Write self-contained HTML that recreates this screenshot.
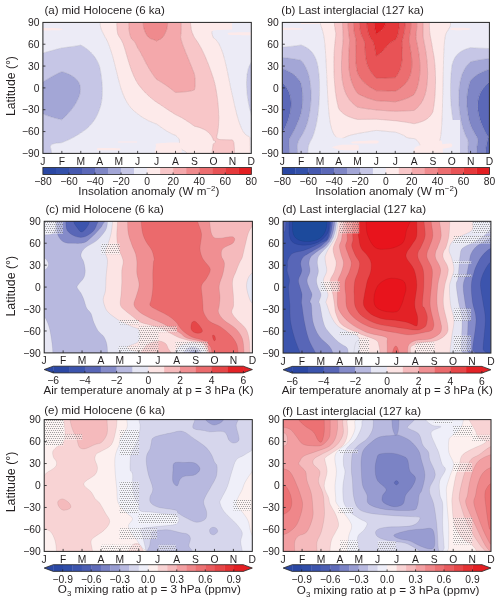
<!DOCTYPE html>
<html><head><meta charset="utf-8"><style>
html,body{margin:0;padding:0;background:#fff;}
svg{display:block;will-change:transform;}
</style></head><body>
<svg width="500" height="603" viewBox="0 0 500 603" font-family="&apos;Liberation Sans&apos;, sans-serif">
<defs><clipPath id="clipa"><rect x="42.9" y="22.4" width="208.40" height="131.00"/></clipPath><clipPath id="clipb"><rect x="282.3" y="22.4" width="207.10" height="131.00"/></clipPath><clipPath id="clipc"><rect x="44.2" y="221.3" width="208.20" height="131.60"/></clipPath><clipPath id="clipd"><rect x="283.1" y="221.3" width="207.80" height="131.80"/></clipPath><clipPath id="clipe"><rect x="44.2" y="419.6" width="208.10" height="131.80"/></clipPath><clipPath id="clipf"><rect x="283.2" y="419.6" width="207.80" height="131.80"/></clipPath><pattern id="stip" x="0" y="0" width="4" height="4" patternUnits="userSpaceOnUse"><rect x="0" y="0" width="4" height="4" fill="#fff" fill-opacity="0.4"/><g fill="#505050" fill-opacity="0.55"><circle cx="0.5" cy="0.5" r="0.6"/><circle cx="2.5" cy="0.5" r="0.6"/><circle cx="1.5" cy="2.5" r="0.6"/><circle cx="3.5" cy="2.5" r="0.6"/></g></pattern></defs>
<g clip-path="url(#clipa)">
<path d="M61.8 119.8L62.5 119.2L63.3 118.5L64.1 117.7L64.8 117.0L65.6 116.3L66.3 115.6L67.0 114.8L67.7 114.1L68.3 113.4L69.0 112.6L69.6 111.9L70.2 111.2L70.8 110.5L71.4 109.7L72.0 109.0L72.5 108.3L73.1 107.6L73.6 106.8L74.1 106.1L74.6 105.4L75.0 104.6L75.5 103.9L75.9 103.2L76.3 102.5L76.7 101.7L77.1 101.0L77.5 100.3L77.8 99.5L78.2 98.8L78.5 98.1L78.8 97.4L79.0 96.6L79.3 95.9L79.5 95.2L79.7 94.5L79.9 93.7L80.1 93.0L80.2 92.3L80.3 91.5L80.4 90.8L80.4 90.1L80.5 89.4L80.4 88.6L80.4 87.9L80.3 87.2L80.2 86.4L80.1 85.7L79.9 85.0L79.6 84.3L79.4 83.5L79.0 82.8L78.6 82.1L78.2 81.3L77.6 80.6L77.0 79.9L76.4 79.2L75.6 78.4L74.8 77.7L73.8 77.0L72.7 76.3L71.5 75.5L70.2 74.8L68.6 74.1L66.9 73.3L65.0 72.6L62.8 71.9L61.8 71.6L61.2 71.9L59.6 72.6L58.1 73.3L56.6 74.1L55.2 74.8L53.8 75.5L52.4 76.3L51.1 77.0L49.8 77.7L48.6 78.4L47.3 79.2L46.2 79.9L45.0 80.6L43.9 81.3L42.9 82.0L42.9 82.1L42.9 82.8L42.9 83.5L42.9 84.3L42.9 85.0L42.9 85.7L42.9 86.4L42.9 87.2L42.9 87.9L42.9 88.6L42.9 89.4L42.9 90.1L42.9 90.8L42.9 91.5L42.9 92.3L42.9 93.0L42.9 93.7L42.9 94.5L42.9 95.2L42.9 95.9L42.9 96.6L42.9 97.4L42.9 98.1L42.9 98.8L42.9 99.5L42.9 100.3L42.9 101.0L42.9 101.7L42.9 102.5L42.9 103.2L42.9 103.9L42.9 104.6L42.9 105.4L42.9 106.1L42.9 106.8L42.9 107.6L42.9 108.3L42.9 109.0L42.9 109.7L42.9 110.5L42.9 111.2L42.9 111.9L42.9 112.6L42.9 113.4L42.9 114.0L43.2 114.1L45.0 114.8L46.9 115.6L49.1 116.3L51.4 117.0L53.8 117.7L56.5 118.5L59.4 119.2Z" fill="#a3a6d6" stroke="#a3a6d6" stroke-width="0.3"/>
<path d="M51.5 152.7L51.5 151.9L51.4 151.2L51.3 150.5L51.2 149.8L51.0 149.0L50.8 148.3L50.5 147.6L50.4 146.8L50.5 146.1L50.9 145.4L51.6 144.7L53.0 143.9L56.3 143.2L61.8 142.7L62.3 142.5L64.0 141.8L65.8 141.0L67.6 140.3L69.2 139.6L70.7 138.8L72.1 138.1L73.4 137.4L74.7 136.7L75.9 135.9L77.2 135.2L78.4 134.5L79.5 133.8L80.7 133.0L80.8 132.9L81.8 132.3L82.9 131.6L83.9 130.8L84.9 130.1L85.8 129.4L86.7 128.7L87.6 127.9L88.4 127.2L89.1 126.5L89.8 125.7L90.5 125.0L91.2 124.3L91.8 123.6L92.4 122.8L92.9 122.1L93.5 121.4L94.0 120.7L94.5 119.9L94.9 119.2L95.4 118.5L95.8 117.7L96.2 117.0L96.6 116.3L97.0 115.6L97.3 114.8L97.7 114.1L98.0 113.4L98.3 112.6L98.6 111.9L98.9 111.2L99.1 110.5L99.4 109.7L99.7 109.0L99.7 108.7L99.9 108.3L100.2 107.6L100.4 106.8L100.6 106.1L100.8 105.4L101.0 104.6L101.2 103.9L101.3 103.2L101.5 102.5L101.6 101.7L101.7 101.0L101.8 100.3L101.9 99.5L102.0 98.8L102.1 98.1L102.1 97.4L102.2 96.6L102.3 95.9L102.3 95.2L102.3 94.5L102.4 93.7L102.4 93.0L102.4 92.3L102.4 91.5L102.4 90.8L102.4 90.1L102.4 89.4L102.4 88.6L102.4 87.9L102.3 87.2L102.3 86.4L102.3 85.7L102.2 85.0L102.2 84.3L102.1 83.5L102.1 82.8L102.0 82.1L101.9 81.3L101.9 80.6L101.8 79.9L101.7 79.2L101.6 78.4L101.5 77.7L101.4 77.0L101.4 76.3L101.3 75.5L101.1 74.8L101.0 74.1L100.9 73.3L100.8 72.6L100.7 71.9L100.6 71.2L100.4 70.4L100.3 69.7L100.2 69.0L100.0 68.2L99.9 67.5L99.7 66.8L99.7 66.8L99.5 66.1L99.2 65.3L98.9 64.6L98.6 63.9L98.3 63.2L97.9 62.4L97.6 61.7L97.2 61.0L96.8 60.2L96.4 59.5L95.9 58.8L95.5 58.1L95.0 57.3L94.5 56.6L93.9 55.9L93.4 55.1L92.7 54.4L92.1 53.7L91.4 53.0L90.7 52.2L90.0 51.5L89.1 50.8L88.3 50.1L87.4 49.3L86.4 48.6L85.4 47.9L84.3 47.1L83.2 46.4L81.9 45.7L80.8 45.1L77.4 45.7L72.9 46.4L67.9 47.1L62.1 47.9L61.8 47.9L59.2 48.6L56.4 49.3L53.7 50.1L51.0 50.8L48.3 51.5L45.7 52.2L43.2 53.0L42.9 53.0L42.9 53.7L42.9 54.4L42.9 55.1L42.9 55.9L42.9 56.6L42.9 57.3L42.9 58.1L42.9 58.8L42.9 59.5L42.9 60.2L42.9 61.0L42.9 61.7L42.9 62.4L42.9 63.2L42.9 63.9L42.9 64.6L42.9 65.3L42.9 66.1L42.9 66.8L42.9 67.5L42.9 68.2L42.9 69.0L42.9 69.7L42.9 70.4L42.9 71.2L42.9 71.9L42.9 72.6L42.9 73.3L42.9 74.1L42.9 74.8L42.9 75.5L42.9 76.3L42.9 77.0L42.9 77.7L42.9 78.4L42.9 79.2L42.9 79.9L42.9 80.6L42.9 81.3L42.9 82.0L43.9 81.3L45.0 80.6L46.2 79.9L47.3 79.2L48.6 78.4L49.8 77.7L51.1 77.0L52.4 76.3L53.8 75.5L55.2 74.8L56.6 74.1L58.1 73.3L59.6 72.6L61.2 71.9L61.8 71.6L62.8 71.9L65.0 72.6L66.9 73.3L68.6 74.1L70.2 74.8L71.5 75.5L72.7 76.3L73.8 77.0L74.8 77.7L75.6 78.4L76.4 79.2L77.0 79.9L77.6 80.6L78.2 81.3L78.6 82.1L79.0 82.8L79.4 83.5L79.6 84.3L79.9 85.0L80.1 85.7L80.2 86.4L80.3 87.2L80.4 87.9L80.4 88.6L80.5 89.4L80.4 90.1L80.4 90.8L80.3 91.5L80.2 92.3L80.1 93.0L79.9 93.7L79.7 94.5L79.5 95.2L79.3 95.9L79.0 96.6L78.8 97.4L78.5 98.1L78.2 98.8L77.8 99.5L77.5 100.3L77.1 101.0L76.7 101.7L76.3 102.5L75.9 103.2L75.5 103.9L75.0 104.6L74.6 105.4L74.1 106.1L73.6 106.8L73.1 107.6L72.5 108.3L72.0 109.0L71.4 109.7L70.8 110.5L70.2 111.2L69.6 111.9L69.0 112.6L68.3 113.4L67.7 114.1L67.0 114.8L66.3 115.6L65.6 116.3L64.8 117.0L64.1 117.7L63.3 118.5L62.5 119.2L61.8 119.8L59.4 119.2L56.5 118.5L53.8 117.7L51.4 117.0L49.1 116.3L46.9 115.6L45.0 114.8L43.2 114.1L42.9 114.0L42.9 114.1L42.9 114.8L42.9 115.6L42.9 116.3L42.9 117.0L42.9 117.7L42.9 118.5L42.9 119.2L42.9 119.9L42.9 120.7L42.9 121.4L42.9 122.1L42.9 122.8L42.9 123.6L42.9 124.3L42.9 125.0L42.9 125.7L42.9 126.5L42.9 127.2L42.9 127.9L42.9 128.7L42.9 129.4L42.9 130.1L42.9 130.8L42.9 131.6L42.9 132.3L42.9 133.0L42.9 133.8L42.9 134.5L42.9 135.2L42.9 135.9L42.9 136.7L42.9 137.4L42.9 138.1L42.9 138.8L42.9 139.6L42.9 140.3L42.9 141.0L42.9 141.8L42.9 142.5L42.9 143.2L42.9 143.9L42.9 144.7L42.9 145.4L42.9 146.1L42.9 146.8L42.9 147.6L42.9 148.3L42.9 149.0L42.9 149.8L42.9 150.5L42.9 151.2L42.9 151.9L42.9 152.7L42.9 153.4L51.5 153.4ZM251.3 114.8L251.3 114.1L251.3 113.4L251.3 112.6L251.3 111.9L251.3 111.2L251.3 110.5L251.3 109.7L251.3 109.0L251.3 108.3L251.3 107.6L251.3 106.8L251.3 106.1L251.3 105.4L251.3 104.6L251.3 103.9L251.3 103.2L251.3 102.5L251.3 101.7L251.3 101.0L251.3 100.3L251.3 99.5L251.3 98.8L251.3 98.1L251.3 97.4L251.3 96.6L251.3 95.9L251.3 95.2L251.3 94.5L251.3 93.7L251.3 93.0L251.3 92.3L251.3 91.5L251.3 90.8L251.3 90.1L251.3 89.4L251.3 88.6L251.3 87.9L251.3 87.2L251.3 86.4L251.3 85.7L251.3 85.0L251.3 84.3L251.3 83.5L251.3 82.8L251.3 82.1L251.3 81.3L251.3 80.6L251.3 79.9L251.3 79.2L251.3 78.4L251.3 77.7L251.3 77.0L251.3 76.3L251.3 75.5L251.3 74.8L251.3 74.1L251.3 73.3L251.3 72.6L251.3 71.9L251.3 71.2L251.3 70.4L251.3 69.7L251.3 69.0L251.3 68.2L251.3 67.5L251.3 66.8L251.3 66.1L251.3 65.3L251.3 64.6L251.3 63.9L251.3 63.2L251.3 62.4L251.3 62.2L251.1 62.4L250.7 63.2L250.3 63.9L249.9 64.6L249.6 65.3L249.2 66.1L248.9 66.8L248.7 67.5L248.4 68.2L248.2 69.0L248.0 69.7L247.8 70.4L247.7 71.2L247.5 71.9L247.4 72.6L247.2 73.3L247.1 74.1L247.0 74.8L246.9 75.5L246.9 76.3L246.8 77.0L246.7 77.7L246.7 78.4L246.6 79.2L246.6 79.9L246.6 80.6L246.5 81.3L246.5 82.1L246.5 82.8L246.5 83.5L246.5 84.3L246.5 85.0L246.5 85.7L246.6 86.4L246.6 87.2L246.6 87.9L246.7 88.6L246.7 89.4L246.8 90.1L246.8 90.8L246.9 91.5L246.9 92.3L247.0 93.0L247.1 93.7L247.1 94.5L247.2 95.2L247.3 95.9L247.4 96.6L247.5 97.4L247.6 98.1L247.7 98.8L247.8 99.5L247.9 100.3L248.1 101.0L248.2 101.7L248.3 102.5L248.4 103.2L248.6 103.9L248.7 104.6L248.9 105.4L249.0 106.1L249.2 106.8L249.3 107.6L249.5 108.3L249.7 109.0L249.9 109.7L250.1 110.5L250.3 111.2L250.5 111.9L250.7 112.6L250.9 113.4L251.1 114.1Z" fill="#c6c6e6" stroke="#c6c6e6" stroke-width="0.3"/>
<path d="M61.8 153.4L80.8 153.4L99.7 153.4L118.7 153.4L137.6 153.4L156.6 153.4L175.5 153.4L186.8 153.4L186.6 152.7L185.9 151.9L184.9 151.2L183.6 150.5L182.5 149.8L181.5 149.0L180.7 148.3L180.1 147.6L179.5 146.8L179.4 146.1L179.5 145.4L179.5 144.7L179.5 143.9L179.5 143.2L179.5 142.5L179.5 141.8L179.5 141.0L179.4 140.3L179.3 139.6L178.9 138.8L178.4 138.1L177.7 137.4L177.0 136.7L176.2 135.9L175.5 135.3L175.3 135.2L173.3 134.5L171.7 133.8L170.3 133.0L168.9 132.3L167.7 131.6L166.5 130.8L165.3 130.1L164.2 129.4L163.1 128.7L162.1 127.9L161.0 127.2L160.0 126.5L159.0 125.7L158.0 125.0L157.0 124.3L156.6 124.0L155.4 123.6L153.4 122.8L151.7 122.1L150.0 121.4L148.5 120.7L147.0 119.9L145.7 119.2L144.4 118.5L143.2 117.7L142.1 117.0L141.0 116.3L140.0 115.6L139.0 114.8L138.1 114.1L137.6 113.8L137.1 113.4L136.1 112.6L135.2 111.9L134.3 111.2L133.5 110.5L132.8 109.7L132.0 109.0L131.4 108.3L130.7 107.6L130.1 106.8L129.6 106.1L129.0 105.4L128.5 104.6L128.0 103.9L127.6 103.2L127.1 102.5L126.7 101.7L126.3 101.0L125.9 100.3L125.5 99.5L125.1 98.8L124.8 98.1L124.4 97.4L124.1 96.6L123.8 95.9L123.5 95.2L123.2 94.5L122.9 93.7L122.6 93.0L122.3 92.3L122.1 91.5L121.8 90.8L121.6 90.1L121.3 89.4L121.1 88.6L120.9 87.9L120.6 87.2L120.4 86.4L120.2 85.7L120.0 85.0L119.8 84.3L119.6 83.5L119.4 82.8L119.2 82.1L119.0 81.3L118.8 80.6L118.7 80.2L118.6 79.9L118.4 79.2L118.2 78.4L118.1 77.7L117.9 77.0L117.7 76.3L117.5 75.5L117.3 74.8L117.2 74.1L117.0 73.3L116.8 72.6L116.6 71.9L116.4 71.2L116.3 70.4L116.1 69.7L115.9 69.0L115.7 68.2L115.5 67.5L115.4 66.8L115.2 66.1L115.0 65.3L114.8 64.6L114.6 63.9L114.4 63.2L114.3 62.4L114.1 61.7L113.9 61.0L113.7 60.2L113.5 59.5L113.3 58.8L113.1 58.1L112.9 57.3L112.7 56.6L112.5 55.9L112.3 55.1L112.1 54.4L111.8 53.7L111.6 53.0L111.4 52.2L111.2 51.5L110.9 50.8L110.7 50.1L110.5 49.3L110.2 48.6L110.0 47.9L109.7 47.1L109.4 46.4L109.2 45.7L108.9 45.0L108.6 44.2L108.3 43.5L108.0 42.8L107.7 42.0L107.4 41.3L107.0 40.6L106.7 39.9L106.3 39.1L105.9 38.4L105.4 37.7L105.0 37.0L104.6 36.2L104.3 35.5L103.9 34.8L103.6 34.0L103.2 33.3L102.8 32.6L102.4 31.9L102.0 31.1L101.7 30.4L101.4 29.7L101.1 28.9L100.9 28.2L100.7 27.5L100.5 26.8L100.4 26.0L100.3 25.3L100.3 24.6L100.3 23.9L100.3 23.1L100.3 22.4L99.7 22.4L80.8 22.4L61.8 22.4L42.9 22.4L42.9 23.1L42.9 23.9L42.9 24.6L42.9 25.3L42.9 26.0L42.9 26.8L42.9 27.5L42.9 28.2L42.9 28.9L42.9 29.7L42.9 30.4L42.9 31.1L42.9 31.9L42.9 32.6L42.9 33.3L42.9 34.0L42.9 34.8L42.9 35.5L42.9 36.2L42.9 37.0L42.9 37.7L42.9 38.4L42.9 39.1L42.9 39.9L42.9 40.6L42.9 41.3L42.9 42.0L42.9 42.8L42.9 43.5L42.9 44.2L42.9 45.0L42.9 45.7L42.9 46.4L42.9 47.1L42.9 47.9L42.9 48.6L42.9 49.3L42.9 50.1L42.9 50.8L42.9 51.5L42.9 52.2L42.9 53.0L42.9 53.0L43.2 53.0L45.7 52.2L48.3 51.5L51.0 50.8L53.7 50.1L56.4 49.3L59.2 48.6L61.8 47.9L62.1 47.9L67.9 47.1L72.9 46.4L77.4 45.7L80.8 45.1L81.9 45.7L83.2 46.4L84.3 47.1L85.4 47.9L86.4 48.6L87.4 49.3L88.3 50.1L89.1 50.8L90.0 51.5L90.7 52.2L91.4 53.0L92.1 53.7L92.7 54.4L93.4 55.1L93.9 55.9L94.5 56.6L95.0 57.3L95.5 58.1L95.9 58.8L96.4 59.5L96.8 60.2L97.2 61.0L97.6 61.7L97.9 62.4L98.3 63.2L98.6 63.9L98.9 64.6L99.2 65.3L99.5 66.1L99.7 66.8L99.7 66.8L99.9 67.5L100.0 68.2L100.2 69.0L100.3 69.7L100.4 70.4L100.6 71.2L100.7 71.9L100.8 72.6L100.9 73.3L101.0 74.1L101.1 74.8L101.3 75.5L101.4 76.3L101.4 77.0L101.5 77.7L101.6 78.4L101.7 79.2L101.8 79.9L101.9 80.6L101.9 81.3L102.0 82.1L102.1 82.8L102.1 83.5L102.2 84.3L102.2 85.0L102.3 85.7L102.3 86.4L102.3 87.2L102.4 87.9L102.4 88.6L102.4 89.4L102.4 90.1L102.4 90.8L102.4 91.5L102.4 92.3L102.4 93.0L102.4 93.7L102.3 94.5L102.3 95.2L102.3 95.9L102.2 96.6L102.1 97.4L102.1 98.1L102.0 98.8L101.9 99.5L101.8 100.3L101.7 101.0L101.6 101.7L101.5 102.5L101.3 103.2L101.2 103.9L101.0 104.6L100.8 105.4L100.6 106.1L100.4 106.8L100.2 107.6L99.9 108.3L99.7 108.7L99.7 109.0L99.4 109.7L99.1 110.5L98.9 111.2L98.6 111.9L98.3 112.6L98.0 113.4L97.7 114.1L97.3 114.8L97.0 115.6L96.6 116.3L96.2 117.0L95.8 117.7L95.4 118.5L94.9 119.2L94.5 119.9L94.0 120.7L93.5 121.4L92.9 122.1L92.4 122.8L91.8 123.6L91.2 124.3L90.5 125.0L89.8 125.7L89.1 126.5L88.4 127.2L87.6 127.9L86.7 128.7L85.8 129.4L84.9 130.1L83.9 130.8L82.9 131.6L81.8 132.3L80.8 132.9L80.7 133.0L79.5 133.8L78.4 134.5L77.2 135.2L75.9 135.9L74.7 136.7L73.4 137.4L72.1 138.1L70.7 138.8L69.2 139.6L67.6 140.3L65.8 141.0L64.0 141.8L62.3 142.5L61.8 142.7L56.3 143.2L53.0 143.9L51.6 144.7L50.9 145.4L50.5 146.1L50.4 146.8L50.5 147.6L50.8 148.3L51.0 149.0L51.2 149.8L51.3 150.5L51.4 151.2L51.5 151.9L51.5 152.7L51.5 153.4ZM251.3 153.4L251.3 152.7L251.3 151.9L251.3 151.2L251.3 150.5L251.3 149.8L251.3 149.0L251.3 148.3L251.3 147.6L251.3 146.8L251.3 146.1L251.3 145.4L251.3 144.7L251.3 143.9L251.3 143.2L251.3 142.5L251.3 141.8L251.3 141.0L251.3 140.3L251.3 139.6L251.3 138.8L251.3 138.1L251.3 137.4L251.3 136.7L251.3 135.9L251.3 135.2L251.3 134.5L251.3 133.8L251.3 133.0L251.3 132.3L251.3 131.6L251.3 130.8L251.3 130.1L251.3 129.4L251.3 128.7L251.3 127.9L251.3 127.2L251.3 126.5L251.3 125.7L251.3 125.0L251.3 124.3L251.3 123.6L251.3 122.8L251.3 122.1L251.3 121.4L251.3 120.7L251.3 119.9L251.3 119.2L251.3 118.5L251.3 117.7L251.3 117.0L251.3 116.3L251.3 115.6L251.3 114.8L251.3 114.8L251.1 114.1L250.9 113.4L250.7 112.6L250.5 111.9L250.3 111.2L250.1 110.5L249.9 109.7L249.7 109.0L249.5 108.3L249.3 107.6L249.2 106.8L249.0 106.1L248.9 105.4L248.7 104.6L248.6 103.9L248.4 103.2L248.3 102.5L248.2 101.7L248.1 101.0L247.9 100.3L247.8 99.5L247.7 98.8L247.6 98.1L247.5 97.4L247.4 96.6L247.3 95.9L247.2 95.2L247.1 94.5L247.1 93.7L247.0 93.0L246.9 92.3L246.9 91.5L246.8 90.8L246.8 90.1L246.7 89.4L246.7 88.6L246.6 87.9L246.6 87.2L246.6 86.4L246.5 85.7L246.5 85.0L246.5 84.3L246.5 83.5L246.5 82.8L246.5 82.1L246.5 81.3L246.6 80.6L246.6 79.9L246.6 79.2L246.7 78.4L246.7 77.7L246.8 77.0L246.9 76.3L246.9 75.5L247.0 74.8L247.1 74.1L247.2 73.3L247.4 72.6L247.5 71.9L247.7 71.2L247.8 70.4L248.0 69.7L248.2 69.0L248.4 68.2L248.7 67.5L248.9 66.8L249.2 66.1L249.6 65.3L249.9 64.6L250.3 63.9L250.7 63.2L251.1 62.4L251.3 62.2L251.3 61.7L251.3 61.0L251.3 60.2L251.3 59.5L251.3 58.8L251.3 58.1L251.3 57.3L251.3 56.6L251.3 55.9L251.3 55.1L251.3 54.4L251.3 53.7L251.3 53.0L251.3 52.2L251.3 51.5L251.3 50.8L251.3 50.1L251.3 49.3L251.3 48.6L251.3 47.9L251.3 47.1L251.3 46.4L251.3 45.7L251.3 45.0L251.3 44.2L251.3 43.5L251.3 42.8L251.3 42.0L251.3 41.3L251.3 40.6L251.3 39.9L251.3 39.1L251.3 38.4L251.3 37.7L251.3 37.0L251.3 36.2L251.3 35.5L251.3 34.8L251.3 34.0L251.3 33.3L251.3 32.6L251.3 31.9L251.3 31.1L251.3 30.4L251.3 29.7L251.3 28.9L251.3 28.2L251.3 27.5L251.3 26.8L251.3 26.0L251.3 25.3L251.3 24.6L251.3 23.9L251.3 23.1L251.3 22.4L232.4 22.4L213.4 22.4L212.5 22.4L212.5 23.1L212.5 23.9L212.5 24.6L212.4 25.3L212.3 26.0L212.3 26.8L212.2 27.5L212.1 28.2L212.1 28.9L212.0 29.7L212.0 30.4L211.9 31.1L211.9 31.9L211.8 32.6L211.9 33.3L212.1 34.0L212.3 34.8L212.5 35.5L212.8 36.2L213.1 37.0L213.3 37.7L213.4 37.9L214.3 38.4L215.3 39.1L216.0 39.9L216.6 40.6L217.2 41.3L217.7 42.0L218.2 42.8L218.7 43.5L219.1 44.2L219.4 45.0L219.8 45.7L220.2 46.4L220.5 47.1L220.8 47.9L221.1 48.6L221.4 49.3L221.7 50.1L221.9 50.8L222.2 51.5L222.5 52.2L222.7 53.0L222.9 53.7L223.2 54.4L223.4 55.1L223.6 55.9L223.8 56.6L224.0 57.3L224.2 58.1L224.4 58.8L224.6 59.5L224.8 60.2L225.0 61.0L225.2 61.7L225.3 62.4L225.5 63.2L225.7 63.9L225.9 64.6L226.0 65.3L226.2 66.1L226.4 66.8L226.5 67.5L226.7 68.2L226.8 69.0L227.0 69.7L227.1 70.4L227.3 71.2L227.5 71.9L227.6 72.6L227.8 73.3L227.9 74.1L228.0 74.8L228.2 75.5L228.3 76.3L228.5 77.0L228.6 77.7L228.8 78.4L228.9 79.2L229.1 79.9L229.2 80.6L229.4 81.3L229.5 82.1L229.7 82.8L229.8 83.5L230.0 84.3L230.1 85.0L230.2 85.7L230.4 86.4L230.5 87.2L230.7 87.9L230.9 88.6L231.0 89.4L231.2 90.1L231.3 90.8L231.5 91.5L231.6 92.3L231.8 93.0L232.0 93.7L232.1 94.5L232.3 95.2L232.4 95.4L232.5 95.9L232.6 96.6L232.8 97.4L233.0 98.1L233.1 98.8L233.3 99.5L233.4 100.3L233.6 101.0L233.8 101.7L233.9 102.5L234.1 103.2L234.3 103.9L234.4 104.6L234.6 105.4L234.8 106.1L234.9 106.8L235.1 107.6L235.3 108.3L235.5 109.0L235.6 109.7L235.8 110.5L236.0 111.2L236.2 111.9L236.4 112.6L236.5 113.4L236.7 114.1L236.9 114.8L237.1 115.6L237.3 116.3L237.5 117.0L237.7 117.7L237.9 118.5L238.1 119.2L238.4 119.9L238.6 120.7L238.8 121.4L239.1 122.1L239.3 122.8L239.6 123.6L239.8 124.3L240.1 125.0L240.4 125.7L240.7 126.5L241.0 127.2L241.3 127.9L241.7 128.7L242.0 129.4L242.4 130.1L242.8 130.8L243.2 131.6L243.7 132.3L244.2 133.0L244.8 133.8L245.5 134.5L246.4 135.2L247.7 135.9L249.3 136.7L249.8 137.4L249.9 138.1L250.0 138.8L250.0 139.6L250.1 140.3L250.1 141.0L250.1 141.8L250.1 142.5L250.1 143.2L250.1 143.9L250.1 144.7L250.1 145.4L250.2 146.1L250.2 146.8L250.2 147.6L250.2 148.3L250.2 149.0L250.2 149.8L250.2 150.5L250.2 151.2L250.2 151.9L250.2 152.7L250.2 153.4Z" fill="#ecebf6" stroke="#ecebf6" stroke-width="0.3"/>
<path d="M194.5 153.4L212.2 153.4L212.2 152.7L212.2 151.9L212.2 151.2L212.2 150.5L212.3 149.8L212.4 149.0L212.5 148.3L212.6 147.6L212.7 146.8L212.8 146.1L213.0 145.4L213.1 144.7L213.3 143.9L213.4 143.7L214.5 143.2L215.3 142.5L215.5 141.8L215.3 141.0L213.4 140.3L213.4 140.3L213.2 139.6L212.9 138.8L212.6 138.1L212.3 137.4L211.9 136.7L211.4 135.9L210.9 135.2L210.4 134.5L209.8 133.8L209.1 133.0L208.3 132.3L207.4 131.6L206.4 130.8L205.3 130.1L204.0 129.4L202.4 128.7L200.6 127.9L198.4 127.2L195.6 126.5L194.5 126.2L193.8 125.7L192.8 125.0L191.8 124.3L190.8 123.6L189.8 122.8L188.7 122.1L187.6 121.4L186.5 120.7L185.4 119.9L184.2 119.2L183.0 118.5L181.7 117.7L180.3 117.0L179.0 116.3L177.5 115.6L176.0 114.8L175.5 114.6L174.7 114.1L173.5 113.4L172.4 112.6L171.3 111.9L170.1 111.2L169.0 110.5L167.9 109.7L166.8 109.0L165.7 108.3L164.6 107.6L163.6 106.8L162.5 106.1L161.4 105.4L160.3 104.6L159.2 103.9L158.1 103.2L157.0 102.5L156.6 102.2L155.9 101.7L154.9 101.0L153.9 100.3L153.0 99.5L152.1 98.8L151.2 98.1L150.3 97.4L149.5 96.6L148.7 95.9L147.9 95.2L147.2 94.5L146.4 93.7L145.7 93.0L145.0 92.3L144.3 91.5L143.6 90.8L143.0 90.1L142.3 89.4L141.7 88.6L141.1 87.9L140.5 87.2L139.9 86.4L139.4 85.7L138.8 85.0L138.3 84.3L137.7 83.5L137.6 83.4L137.3 82.8L136.9 82.1L136.5 81.3L136.1 80.6L135.7 79.9L135.3 79.2L135.0 78.4L134.6 77.7L134.3 77.0L133.9 76.3L133.6 75.5L133.3 74.8L133.0 74.1L132.7 73.3L132.4 72.6L132.1 71.9L131.8 71.2L131.5 70.4L131.3 69.7L131.0 69.0L130.8 68.2L130.5 67.5L130.2 66.8L130.0 66.1L129.8 65.3L129.5 64.6L129.3 63.9L129.1 63.2L128.8 62.4L128.6 61.7L128.4 61.0L128.2 60.2L127.9 59.5L127.7 58.8L127.5 58.1L127.3 57.3L127.1 56.6L126.9 55.9L126.7 55.1L126.5 54.4L126.2 53.7L126.0 53.0L125.8 52.2L125.6 51.5L125.4 50.8L125.2 50.1L125.0 49.3L124.7 48.6L124.5 47.9L124.3 47.1L124.0 46.4L123.8 45.7L123.5 45.0L123.3 44.2L123.0 43.5L122.7 42.8L122.4 42.0L122.0 41.3L121.7 40.6L121.2 39.9L120.8 39.1L120.3 38.4L119.8 37.7L119.3 37.0L118.9 36.2L118.7 35.8L118.5 35.5L118.1 34.8L117.8 34.0L117.6 33.3L117.5 32.6L117.4 31.9L117.3 31.1L117.2 30.4L117.1 29.7L117.1 28.9L117.0 28.2L116.9 27.5L116.9 26.8L116.9 26.0L116.8 25.3L116.8 24.6L116.8 23.9L116.8 23.1L116.8 22.4L100.3 22.4L100.3 23.1L100.3 23.9L100.3 24.6L100.3 25.3L100.4 26.0L100.5 26.8L100.7 27.5L100.9 28.2L101.1 28.9L101.4 29.7L101.7 30.4L102.0 31.1L102.4 31.9L102.8 32.6L103.2 33.3L103.6 34.0L103.9 34.8L104.3 35.5L104.6 36.2L105.0 37.0L105.4 37.7L105.9 38.4L106.3 39.1L106.7 39.9L107.0 40.6L107.4 41.3L107.7 42.0L108.0 42.8L108.3 43.5L108.6 44.2L108.9 45.0L109.2 45.7L109.4 46.4L109.7 47.1L110.0 47.9L110.2 48.6L110.5 49.3L110.7 50.1L110.9 50.8L111.2 51.5L111.4 52.2L111.6 53.0L111.8 53.7L112.1 54.4L112.3 55.1L112.5 55.9L112.7 56.6L112.9 57.3L113.1 58.1L113.3 58.8L113.5 59.5L113.7 60.2L113.9 61.0L114.1 61.7L114.3 62.4L114.4 63.2L114.6 63.9L114.8 64.6L115.0 65.3L115.2 66.1L115.4 66.8L115.5 67.5L115.7 68.2L115.9 69.0L116.1 69.7L116.3 70.4L116.4 71.2L116.6 71.9L116.8 72.6L117.0 73.3L117.2 74.1L117.3 74.8L117.5 75.5L117.7 76.3L117.9 77.0L118.1 77.7L118.2 78.4L118.4 79.2L118.6 79.9L118.7 80.2L118.8 80.6L119.0 81.3L119.2 82.1L119.4 82.8L119.6 83.5L119.8 84.3L120.0 85.0L120.2 85.7L120.4 86.4L120.6 87.2L120.9 87.9L121.1 88.6L121.3 89.4L121.6 90.1L121.8 90.8L122.1 91.5L122.3 92.3L122.6 93.0L122.9 93.7L123.2 94.5L123.5 95.2L123.8 95.9L124.1 96.6L124.4 97.4L124.8 98.1L125.1 98.8L125.5 99.5L125.9 100.3L126.3 101.0L126.7 101.7L127.1 102.5L127.6 103.2L128.0 103.9L128.5 104.6L129.0 105.4L129.6 106.1L130.1 106.8L130.7 107.6L131.4 108.3L132.0 109.0L132.8 109.7L133.5 110.5L134.3 111.2L135.2 111.9L136.1 112.6L137.1 113.4L137.6 113.8L138.1 114.1L139.0 114.8L140.0 115.6L141.0 116.3L142.1 117.0L143.2 117.7L144.4 118.5L145.7 119.2L147.0 119.9L148.5 120.7L150.0 121.4L151.7 122.1L153.4 122.8L155.4 123.6L156.6 124.0L157.0 124.3L158.0 125.0L159.0 125.7L160.0 126.5L161.0 127.2L162.1 127.9L163.1 128.7L164.2 129.4L165.3 130.1L166.5 130.8L167.7 131.6L168.9 132.3L170.3 133.0L171.7 133.8L173.3 134.5L175.3 135.2L175.5 135.3L176.2 135.9L177.0 136.7L177.7 137.4L178.4 138.1L178.9 138.8L179.3 139.6L179.4 140.3L179.5 141.0L179.5 141.8L179.5 142.5L179.5 143.2L179.5 143.9L179.5 144.7L179.5 145.4L179.4 146.1L179.5 146.8L180.1 147.6L180.7 148.3L181.5 149.0L182.5 149.8L183.6 150.5L184.9 151.2L185.9 151.9L186.6 152.7L186.8 153.4ZM250.2 152.7L250.2 151.9L250.2 151.2L250.2 150.5L250.2 149.8L250.2 149.0L250.2 148.3L250.2 147.6L250.2 146.8L250.2 146.1L250.1 145.4L250.1 144.7L250.1 143.9L250.1 143.2L250.1 142.5L250.1 141.8L250.1 141.0L250.1 140.3L250.0 139.6L250.0 138.8L249.9 138.1L249.8 137.4L249.3 136.7L247.7 135.9L246.4 135.2L245.5 134.5L244.8 133.8L244.2 133.0L243.7 132.3L243.2 131.6L242.8 130.8L242.4 130.1L242.0 129.4L241.7 128.7L241.3 127.9L241.0 127.2L240.7 126.5L240.4 125.7L240.1 125.0L239.8 124.3L239.6 123.6L239.3 122.8L239.1 122.1L238.8 121.4L238.6 120.7L238.4 119.9L238.1 119.2L237.9 118.5L237.7 117.7L237.5 117.0L237.3 116.3L237.1 115.6L236.9 114.8L236.7 114.1L236.5 113.4L236.4 112.6L236.2 111.9L236.0 111.2L235.8 110.5L235.6 109.7L235.5 109.0L235.3 108.3L235.1 107.6L234.9 106.8L234.8 106.1L234.6 105.4L234.4 104.6L234.3 103.9L234.1 103.2L233.9 102.5L233.8 101.7L233.6 101.0L233.4 100.3L233.3 99.5L233.1 98.8L233.0 98.1L232.8 97.4L232.6 96.6L232.5 95.9L232.4 95.4L232.3 95.2L232.1 94.5L232.0 93.7L231.8 93.0L231.6 92.3L231.5 91.5L231.3 90.8L231.2 90.1L231.0 89.4L230.9 88.6L230.7 87.9L230.5 87.2L230.4 86.4L230.2 85.7L230.1 85.0L230.0 84.3L229.8 83.5L229.7 82.8L229.5 82.1L229.4 81.3L229.2 80.6L229.1 79.9L228.9 79.2L228.8 78.4L228.6 77.7L228.5 77.0L228.3 76.3L228.2 75.5L228.0 74.8L227.9 74.1L227.8 73.3L227.6 72.6L227.5 71.9L227.3 71.2L227.1 70.4L227.0 69.7L226.8 69.0L226.7 68.2L226.5 67.5L226.4 66.8L226.2 66.1L226.0 65.3L225.9 64.6L225.7 63.9L225.5 63.2L225.3 62.4L225.2 61.7L225.0 61.0L224.8 60.2L224.6 59.5L224.4 58.8L224.2 58.1L224.0 57.3L223.8 56.6L223.6 55.9L223.4 55.1L223.2 54.4L222.9 53.7L222.7 53.0L222.5 52.2L222.2 51.5L221.9 50.8L221.7 50.1L221.4 49.3L221.1 48.6L220.8 47.9L220.5 47.1L220.2 46.4L219.8 45.7L219.4 45.0L219.1 44.2L218.7 43.5L218.2 42.8L217.7 42.0L217.2 41.3L216.6 40.6L216.0 39.9L215.3 39.1L214.3 38.4L213.4 37.9L213.3 37.7L213.1 37.0L212.8 36.2L212.5 35.5L212.3 34.8L212.1 34.0L211.9 33.3L211.8 32.6L211.9 31.9L211.9 31.1L212.0 30.4L212.0 29.7L212.1 28.9L212.1 28.2L212.2 27.5L212.3 26.8L212.3 26.0L212.4 25.3L212.5 24.6L212.5 23.9L212.5 23.1L212.5 22.4L194.5 22.4L190.6 22.4L190.6 23.1L190.6 23.9L190.7 24.6L190.7 25.3L190.8 26.0L190.9 26.8L191.0 27.5L191.1 28.2L191.2 29.0L191.3 29.7L191.5 30.4L191.7 31.1L192.0 31.9L192.2 32.6L192.5 33.3L192.8 34.0L193.1 34.8L193.4 35.5L193.7 36.2L194.1 37.0L194.5 37.6L194.5 37.7L195.1 38.4L195.6 39.1L196.1 39.9L196.6 40.6L197.1 41.3L197.6 42.0L198.0 42.8L198.5 43.5L198.9 44.2L199.4 45.0L199.8 45.7L200.2 46.4L200.6 47.1L201.0 47.9L201.4 48.6L201.8 49.3L202.1 50.1L202.5 50.8L202.8 51.5L203.2 52.2L203.5 53.0L203.9 53.7L204.2 54.4L204.6 55.1L204.9 55.9L205.2 56.6L205.5 57.3L205.8 58.1L206.1 58.8L206.4 59.5L206.7 60.2L207.0 61.0L207.3 61.7L207.6 62.4L207.9 63.2L208.2 63.9L208.5 64.6L208.7 65.3L209.0 66.1L209.3 66.8L209.6 67.5L209.8 68.2L210.1 69.0L210.4 69.7L210.6 70.4L210.9 71.2L211.1 71.9L211.4 72.6L211.7 73.3L211.9 74.1L212.2 74.8L212.4 75.5L212.7 76.3L212.9 77.0L213.2 77.7L213.4 78.4L213.4 78.4L213.6 79.2L213.8 79.9L214.0 80.6L214.2 81.3L214.4 82.1L214.6 82.8L214.8 83.5L214.9 84.3L215.1 85.0L215.3 85.7L215.4 86.4L215.6 87.2L215.7 87.9L215.8 88.6L216.0 89.4L216.1 90.1L216.3 90.8L216.4 91.5L216.5 92.3L216.6 93.0L216.7 93.7L216.9 94.5L217.0 95.2L217.1 95.9L217.2 96.6L217.3 97.4L217.4 98.1L217.5 98.8L217.6 99.5L217.6 100.3L217.7 101.0L217.8 101.7L217.9 102.5L218.0 103.2L218.0 103.9L218.1 104.6L218.2 105.4L218.2 106.1L218.3 106.8L218.3 107.6L218.4 108.3L218.4 109.0L218.5 109.7L218.5 110.5L218.6 111.2L218.6 111.9L218.6 112.6L218.7 113.4L218.7 114.1L218.7 114.8L218.7 115.6L218.8 116.3L218.8 117.0L218.8 117.7L218.8 118.5L218.8 119.2L218.8 119.9L218.7 120.7L218.7 121.4L218.7 122.1L218.7 122.8L218.6 123.6L218.6 124.3L218.6 125.0L218.5 125.7L218.4 126.5L218.4 127.2L218.3 127.9L218.2 128.7L218.1 129.4L218.0 130.1L217.9 130.8L217.8 131.6L217.7 132.3L217.5 133.0L217.4 133.8L217.2 134.5L217.1 135.2L216.9 135.9L216.8 136.7L216.7 137.4L217.0 138.1L217.5 138.8L219.6 139.6L232.4 139.9L232.7 140.3L233.2 141.0L233.5 141.8L233.8 142.5L234.0 143.2L234.1 143.9L234.1 144.7L234.2 145.4L234.2 146.1L234.3 146.8L234.3 147.6L234.4 148.3L234.4 149.0L234.4 149.8L234.5 150.5L234.5 151.2L234.5 151.9L234.5 152.7L234.5 153.4L250.2 153.4Z" fill="#fdeaea" stroke="#fdeaea" stroke-width="0.3"/>
<path d="M213.4 153.4L232.4 153.4L234.5 153.4L234.5 152.7L234.5 151.9L234.5 151.2L234.5 150.5L234.4 149.8L234.4 149.0L234.4 148.3L234.3 147.6L234.3 146.8L234.2 146.1L234.2 145.4L234.1 144.7L234.1 143.9L234.0 143.2L233.8 142.5L233.5 141.8L233.2 141.0L232.7 140.3L232.4 139.9L219.6 139.6L217.5 138.8L217.0 138.1L216.7 137.4L216.8 136.7L216.9 135.9L217.1 135.2L217.2 134.5L217.4 133.8L217.5 133.0L217.7 132.3L217.8 131.6L217.9 130.8L218.0 130.1L218.1 129.4L218.2 128.7L218.3 127.9L218.4 127.2L218.4 126.5L218.5 125.7L218.6 125.0L218.6 124.3L218.6 123.6L218.7 122.8L218.7 122.1L218.7 121.4L218.7 120.7L218.8 119.9L218.8 119.2L218.8 118.5L218.8 117.7L218.8 117.0L218.8 116.3L218.7 115.6L218.7 114.8L218.7 114.1L218.7 113.4L218.6 112.6L218.6 111.9L218.6 111.2L218.5 110.5L218.5 109.7L218.4 109.0L218.4 108.3L218.3 107.6L218.3 106.8L218.2 106.1L218.2 105.4L218.1 104.6L218.0 103.9L218.0 103.2L217.9 102.5L217.8 101.7L217.7 101.0L217.6 100.3L217.6 99.5L217.5 98.8L217.4 98.1L217.3 97.4L217.2 96.6L217.1 95.9L217.0 95.2L216.9 94.5L216.7 93.7L216.6 93.0L216.5 92.3L216.4 91.5L216.3 90.8L216.1 90.1L216.0 89.4L215.8 88.6L215.7 87.9L215.6 87.2L215.4 86.4L215.3 85.7L215.1 85.0L214.9 84.3L214.8 83.5L214.6 82.8L214.4 82.1L214.2 81.3L214.0 80.6L213.8 79.9L213.6 79.2L213.4 78.4L213.4 78.4L213.2 77.7L212.9 77.0L212.7 76.3L212.4 75.5L212.2 74.8L211.9 74.1L211.7 73.3L211.4 72.6L211.1 71.9L210.9 71.2L210.6 70.4L210.4 69.7L210.1 69.0L209.8 68.2L209.6 67.5L209.3 66.8L209.0 66.1L208.7 65.3L208.5 64.6L208.2 63.9L207.9 63.2L207.6 62.4L207.3 61.7L207.0 61.0L206.7 60.2L206.4 59.5L206.1 58.8L205.8 58.1L205.5 57.3L205.2 56.6L204.9 55.9L204.6 55.1L204.2 54.4L203.9 53.7L203.5 53.0L203.2 52.2L202.8 51.5L202.5 50.8L202.1 50.1L201.8 49.3L201.4 48.6L201.0 47.9L200.6 47.1L200.2 46.4L199.8 45.7L199.4 45.0L198.9 44.2L198.5 43.5L198.0 42.8L197.6 42.0L197.1 41.3L196.6 40.6L196.1 39.9L195.6 39.1L195.1 38.4L194.5 37.7L194.5 37.6L194.1 37.0L193.7 36.2L193.4 35.5L193.1 34.8L192.8 34.0L192.5 33.3L192.2 32.6L192.0 31.9L191.7 31.1L191.5 30.4L191.3 29.7L191.2 28.9L191.1 28.2L191.0 27.5L190.9 26.8L190.8 26.0L190.7 25.3L190.7 24.6L190.6 23.9L190.6 23.1L190.6 22.4L181.2 22.4L181.2 23.1L181.2 23.9L181.2 24.6L181.2 25.3L181.2 26.0L181.2 26.8L181.2 27.5L181.2 28.2L181.2 28.9L181.2 29.7L181.2 30.4L181.1 31.1L181.1 31.9L181.0 32.6L181.0 33.3L180.9 34.0L180.8 34.8L180.7 35.5L180.6 36.2L180.7 37.0L180.7 37.7L180.9 38.4L181.0 39.1L181.2 39.9L181.4 40.6L181.6 41.3L181.8 42.0L182.0 42.8L182.3 43.5L182.5 44.2L182.8 45.0L183.1 45.7L183.3 46.4L183.6 47.1L183.9 47.9L184.2 48.6L184.5 49.3L184.8 50.1L185.0 50.8L185.3 51.5L185.6 52.2L185.9 53.0L186.2 53.7L186.5 54.4L186.8 55.1L187.1 55.9L187.4 56.6L187.7 57.3L188.0 58.1L188.3 58.8L188.6 59.5L188.9 60.2L189.2 61.0L189.5 61.7L189.8 62.4L190.1 63.2L190.4 63.9L190.7 64.6L191.0 65.3L191.3 66.1L191.6 66.8L191.9 67.5L192.2 68.2L192.4 69.0L192.7 69.7L193.0 70.4L193.3 71.2L193.6 71.9L193.8 72.6L194.1 73.3L194.4 74.1L194.5 74.4L194.5 74.8L194.6 75.5L194.7 76.3L194.8 77.0L194.9 77.7L195.0 78.4L195.0 79.2L195.1 79.9L195.1 80.6L195.1 81.3L195.1 82.1L195.1 82.8L195.1 83.5L195.1 84.3L195.1 85.0L195.0 85.7L195.0 86.4L194.9 87.2L194.8 87.9L194.7 88.6L194.5 89.4L194.5 89.7L193.8 90.1L191.6 90.8L187.7 91.5L179.1 92.3L175.5 92.4L175.3 92.3L174.4 91.5L173.4 90.8L172.5 90.1L171.5 89.4L170.6 88.6L169.6 87.9L168.6 87.2L167.6 86.4L166.6 85.7L165.6 85.0L164.5 84.3L163.4 83.5L162.3 82.8L161.1 82.1L159.9 81.3L158.7 80.6L157.4 79.9L156.6 79.4L156.4 79.2L155.8 78.4L155.2 77.7L154.7 77.0L154.2 76.3L153.6 75.5L153.1 74.8L152.6 74.1L152.1 73.3L151.6 72.6L151.2 71.9L150.7 71.2L150.3 70.4L149.8 69.7L149.4 69.0L148.9 68.2L148.5 67.5L148.1 66.8L147.7 66.1L147.3 65.3L146.9 64.6L146.5 63.9L146.1 63.2L145.7 62.4L145.3 61.7L145.0 61.0L144.6 60.2L144.2 59.5L143.8 58.8L143.5 58.1L143.1 57.3L142.7 56.6L142.3 55.9L141.9 55.1L141.5 54.4L141.2 53.7L140.8 53.0L140.3 52.2L139.9 51.5L139.5 50.8L139.0 50.1L138.6 49.3L138.1 48.6L137.6 48.0L137.6 47.9L137.3 47.1L137.0 46.4L136.7 45.7L136.3 45.0L136.0 44.2L135.6 43.5L135.2 42.8L134.7 42.0L134.2 41.3L133.6 40.6L132.7 39.9L131.8 39.1L131.3 38.4L131.0 37.7L130.7 37.0L130.4 36.2L130.2 35.5L130.0 34.8L129.8 34.0L129.6 33.3L129.5 32.6L129.4 31.9L129.3 31.1L129.2 30.4L129.1 29.7L129.1 28.9L129.0 28.2L129.0 27.5L128.9 26.8L128.9 26.0L128.8 25.3L128.8 24.6L128.8 23.9L128.8 23.1L128.8 22.4L118.7 22.4L116.8 22.4L116.8 23.1L116.8 23.9L116.8 24.6L116.8 25.3L116.9 26.0L116.9 26.8L116.9 27.5L117.0 28.2L117.1 28.9L117.1 29.7L117.2 30.4L117.3 31.1L117.4 31.9L117.5 32.6L117.6 33.3L117.8 34.0L118.1 34.8L118.5 35.5L118.7 35.8L118.9 36.2L119.3 37.0L119.8 37.7L120.3 38.4L120.8 39.1L121.2 39.9L121.7 40.6L122.0 41.3L122.4 42.0L122.7 42.8L123.0 43.5L123.3 44.2L123.5 45.0L123.8 45.7L124.0 46.4L124.3 47.1L124.5 47.9L124.7 48.6L125.0 49.3L125.2 50.1L125.4 50.8L125.6 51.5L125.8 52.2L126.0 53.0L126.2 53.7L126.5 54.4L126.7 55.1L126.9 55.9L127.1 56.6L127.3 57.3L127.5 58.1L127.7 58.8L127.9 59.5L128.2 60.2L128.4 61.0L128.6 61.7L128.8 62.4L129.1 63.2L129.3 63.9L129.5 64.6L129.8 65.3L130.0 66.1L130.2 66.8L130.5 67.5L130.8 68.2L131.0 69.0L131.3 69.7L131.5 70.4L131.8 71.2L132.1 71.9L132.4 72.6L132.7 73.3L133.0 74.1L133.3 74.8L133.6 75.5L133.9 76.3L134.3 77.0L134.6 77.7L135.0 78.4L135.3 79.2L135.7 79.9L136.1 80.6L136.5 81.3L136.9 82.1L137.3 82.8L137.6 83.4L137.7 83.5L138.3 84.3L138.8 85.0L139.4 85.7L139.9 86.4L140.5 87.2L141.1 87.9L141.7 88.6L142.3 89.4L143.0 90.1L143.6 90.8L144.3 91.5L145.0 92.3L145.7 93.0L146.4 93.7L147.2 94.5L147.9 95.2L148.7 95.9L149.5 96.6L150.3 97.4L151.2 98.1L152.1 98.8L153.0 99.5L153.9 100.3L154.9 101.0L155.9 101.7L156.6 102.2L157.0 102.5L158.1 103.2L159.2 103.9L160.3 104.6L161.4 105.4L162.5 106.1L163.6 106.8L164.6 107.6L165.7 108.3L166.8 109.0L167.9 109.7L169.0 110.5L170.1 111.2L171.3 111.9L172.4 112.6L173.5 113.4L174.7 114.1L175.5 114.6L176.0 114.8L177.5 115.6L179.0 116.3L180.3 117.0L181.7 117.7L183.0 118.5L184.2 119.2L185.4 119.9L186.5 120.7L187.6 121.4L188.7 122.1L189.8 122.8L190.8 123.6L191.8 124.3L192.8 125.0L193.8 125.7L194.5 126.2L195.6 126.5L198.4 127.2L200.6 127.9L202.4 128.7L204.0 129.4L205.3 130.1L206.4 130.8L207.4 131.6L208.3 132.3L209.1 133.0L209.8 133.8L210.4 134.5L210.9 135.2L211.4 135.9L211.9 136.7L212.3 137.4L212.6 138.1L212.9 138.8L213.2 139.6L213.4 140.3L213.4 140.3L215.3 141.0L215.5 141.8L215.3 142.5L214.5 143.2L213.4 143.7L213.3 143.9L213.1 144.7L213.0 145.4L212.8 146.1L212.7 146.8L212.6 147.6L212.5 148.3L212.4 149.0L212.3 149.8L212.2 150.5L212.2 151.2L212.2 151.9L212.2 152.7L212.2 153.4Z" fill="#f8c6c8" stroke="#f8c6c8" stroke-width="0.3"/>
<path d="M175.5 92.4L179.1 92.3L187.7 91.5L191.6 90.8L193.8 90.1L194.5 89.7L194.5 89.4L194.7 88.6L194.8 87.9L194.9 87.2L195.0 86.4L195.0 85.7L195.1 85.0L195.1 84.3L195.1 83.5L195.1 82.8L195.1 82.1L195.1 81.3L195.1 80.6L195.1 79.9L195.0 79.2L195.0 78.4L194.9 77.7L194.8 77.0L194.7 76.3L194.6 75.5L194.5 74.8L194.5 74.4L194.4 74.1L194.1 73.3L193.8 72.6L193.6 71.9L193.3 71.2L193.0 70.4L192.7 69.7L192.4 69.0L192.2 68.2L191.9 67.5L191.6 66.8L191.3 66.1L191.0 65.3L190.7 64.6L190.4 63.9L190.1 63.2L189.8 62.4L189.5 61.7L189.2 61.0L188.9 60.2L188.6 59.5L188.3 58.8L188.0 58.1L187.7 57.3L187.4 56.6L187.1 55.9L186.8 55.1L186.5 54.4L186.2 53.7L185.9 53.0L185.6 52.2L185.3 51.5L185.0 50.8L184.8 50.1L184.5 49.3L184.2 48.6L183.9 47.9L183.6 47.1L183.3 46.4L183.1 45.7L182.8 45.0L182.5 44.2L182.3 43.5L182.0 42.8L181.8 42.0L181.6 41.3L181.4 40.6L181.2 39.9L181.0 39.1L180.9 38.4L180.7 37.7L180.7 37.0L180.6 36.2L180.7 35.5L180.8 34.8L180.9 34.0L181.0 33.3L181.0 32.6L181.1 31.9L181.1 31.1L181.2 30.4L181.2 29.7L181.2 28.9L181.2 28.2L181.2 27.5L181.2 26.8L181.2 26.0L181.2 25.3L181.2 24.6L181.2 23.9L181.2 23.1L181.2 22.4L175.5 22.4L167.6 22.4L167.6 23.1L167.6 23.9L167.5 24.6L167.4 25.3L167.4 26.0L167.3 26.8L167.1 27.5L167.0 28.2L166.8 28.9L166.6 29.7L166.3 30.4L166.0 31.1L165.7 31.9L165.4 32.6L165.0 33.3L164.7 34.0L164.3 34.8L163.9 35.5L163.5 36.2L163.0 37.0L162.3 37.7L161.5 38.4L160.3 39.1L158.7 39.9L157.4 40.6L156.6 41.1L155.8 40.6L154.3 39.9L151.9 39.1L150.2 38.4L149.1 37.7L148.2 37.0L147.5 36.2L147.0 35.5L146.6 34.8L146.2 34.0L145.8 33.3L145.4 32.6L145.1 31.9L144.8 31.1L144.6 30.4L144.3 29.7L144.1 28.9L143.9 28.2L143.7 27.5L143.6 26.8L143.4 26.0L143.3 25.3L143.3 24.6L143.2 23.9L143.2 23.1L143.2 22.4L137.6 22.4L128.8 22.4L128.8 23.1L128.8 23.9L128.8 24.6L128.8 25.3L128.9 26.0L128.9 26.8L129.0 27.5L129.0 28.2L129.1 28.9L129.1 29.7L129.2 30.4L129.3 31.1L129.4 31.9L129.5 32.6L129.6 33.3L129.8 34.0L130.0 34.8L130.2 35.5L130.4 36.2L130.7 37.0L131.0 37.7L131.3 38.4L131.8 39.1L132.7 39.9L133.6 40.6L134.2 41.3L134.7 42.0L135.2 42.8L135.6 43.5L136.0 44.2L136.3 45.0L136.7 45.7L137.0 46.4L137.3 47.1L137.6 47.9L137.6 48.0L138.1 48.6L138.6 49.3L139.0 50.1L139.5 50.8L139.9 51.5L140.3 52.2L140.8 53.0L141.2 53.7L141.5 54.4L141.9 55.1L142.3 55.9L142.7 56.6L143.1 57.3L143.5 58.1L143.8 58.8L144.2 59.5L144.6 60.2L145.0 61.0L145.3 61.7L145.7 62.4L146.1 63.2L146.5 63.9L146.9 64.6L147.3 65.3L147.7 66.1L148.1 66.8L148.5 67.5L148.9 68.2L149.4 69.0L149.8 69.7L150.3 70.4L150.7 71.2L151.2 71.9L151.6 72.6L152.1 73.3L152.6 74.1L153.1 74.8L153.6 75.5L154.2 76.3L154.7 77.0L155.2 77.7L155.8 78.4L156.4 79.2L156.6 79.4L157.4 79.9L158.7 80.6L159.9 81.3L161.1 82.1L162.3 82.8L163.4 83.5L164.5 84.3L165.6 85.0L166.6 85.7L167.6 86.4L168.6 87.2L169.6 87.9L170.6 88.6L171.5 89.4L172.5 90.1L173.4 90.8L174.4 91.5L175.3 92.3Z" fill="#f4a8ab" stroke="#f4a8ab" stroke-width="0.3"/>
<path d="M156.6 41.1L157.4 40.6L158.7 39.9L160.3 39.1L161.5 38.4L162.3 37.7L163.0 37.0L163.5 36.2L163.9 35.5L164.3 34.8L164.7 34.0L165.0 33.3L165.4 32.6L165.7 31.9L166.0 31.1L166.3 30.4L166.6 29.7L166.8 28.9L167.0 28.2L167.1 27.5L167.3 26.8L167.4 26.0L167.4 25.3L167.5 24.6L167.6 23.9L167.6 23.1L167.6 22.4L156.6 22.4L143.2 22.4L143.2 23.1L143.2 23.9L143.3 24.6L143.3 25.3L143.4 26.0L143.6 26.8L143.7 27.5L143.9 28.2L144.1 28.9L144.3 29.7L144.6 30.4L144.8 31.1L145.1 31.9L145.4 32.6L145.8 33.3L146.2 34.0L146.6 34.8L147.0 35.5L147.5 36.2L148.2 37.0L149.1 37.7L150.2 38.4L151.9 39.1L154.3 39.9L155.8 40.6Z" fill="#ef8a8d" stroke="#ef8a8d" stroke-width="0.3"/>
<path d="M42.9 82.0L43.9 81.3L45.0 80.6L46.2 79.9L47.3 79.2L48.6 78.4L49.8 77.7L51.1 77.0L52.4 76.3L53.8 75.5L55.2 74.8L56.6 74.1L58.1 73.3L59.6 72.6L61.2 71.9L61.8 71.6L62.8 71.9L65.0 72.6L66.9 73.3L68.6 74.1L70.2 74.8L71.5 75.5L72.7 76.3L73.8 77.0L74.8 77.7L75.6 78.4L76.4 79.2L77.0 79.9L77.6 80.6L78.2 81.3L78.6 82.1L79.0 82.8L79.4 83.5L79.6 84.3L79.9 85.0L80.1 85.7L80.2 86.4L80.3 87.2L80.4 87.9L80.4 88.6L80.5 89.4L80.4 90.1L80.4 90.8L80.3 91.5L80.2 92.3L80.1 93.0L79.9 93.7L79.7 94.5L79.5 95.2L79.3 95.9L79.0 96.6L78.8 97.4L78.5 98.1L78.2 98.8L77.8 99.5L77.5 100.3L77.1 101.0L76.7 101.7L76.3 102.5L75.9 103.2L75.5 103.9L75.0 104.6L74.6 105.4L74.1 106.1L73.6 106.8L73.1 107.6L72.5 108.3L72.0 109.0L71.4 109.7L70.8 110.5L70.2 111.2L69.6 111.9L69.0 112.6L68.3 113.4L67.7 114.1L67.0 114.8L66.3 115.6L65.6 116.3L64.8 117.0L64.1 117.7L63.3 118.5L62.5 119.2L61.8 119.8L59.4 119.2L56.5 118.5L53.8 117.7L51.4 117.0L49.1 116.3L46.9 115.6L45.0 114.8L43.2 114.1L42.9 114.0" fill="none" stroke="#000" stroke-opacity="0.16" stroke-width="0.55"/>
<path d="M251.3 114.8L251.1 114.1L250.9 113.4L250.7 112.6L250.5 111.9L250.3 111.2L250.1 110.5L249.9 109.7L249.7 109.0L249.5 108.3L249.3 107.6L249.2 106.8L249.0 106.1L248.9 105.4L248.7 104.6L248.6 103.9L248.4 103.2L248.3 102.5L248.2 101.7L248.1 101.0L247.9 100.3L247.8 99.5L247.7 98.8L247.6 98.1L247.5 97.4L247.4 96.6L247.3 95.9L247.2 95.2L247.1 94.5L247.1 93.7L247.0 93.0L246.9 92.3L246.9 91.5L246.8 90.8L246.8 90.1L246.7 89.4L246.7 88.6L246.6 87.9L246.6 87.2L246.6 86.4L246.5 85.7L246.5 85.0L246.5 84.3L246.5 83.5L246.5 82.8L246.5 82.1L246.5 81.3L246.6 80.6L246.6 79.9L246.6 79.2L246.7 78.4L246.7 77.7L246.8 77.0L246.9 76.3L246.9 75.5L247.0 74.8L247.1 74.1L247.2 73.3L247.4 72.6L247.5 71.9L247.7 71.2L247.8 70.4L248.0 69.7L248.2 69.0L248.4 68.2L248.7 67.5L248.9 66.8L249.2 66.1L249.6 65.3L249.9 64.6L250.3 63.9L250.7 63.2L251.1 62.4L251.3 62.2M42.9 53.0L43.2 53.0L45.7 52.2L48.3 51.5L51.0 50.8L53.7 50.1L56.4 49.3L59.2 48.6L61.8 47.9L62.1 47.9L67.9 47.1L72.9 46.4L77.4 45.7L80.8 45.1L81.9 45.7L83.2 46.4L84.3 47.1L85.4 47.9L86.4 48.6L87.4 49.3L88.3 50.1L89.1 50.8L90.0 51.5L90.7 52.2L91.4 53.0L92.1 53.7L92.7 54.4L93.4 55.1L93.9 55.9L94.5 56.6L95.0 57.3L95.5 58.1L95.9 58.8L96.4 59.5L96.8 60.2L97.2 61.0L97.6 61.7L97.9 62.4L98.3 63.2L98.6 63.9L98.9 64.6L99.2 65.3L99.5 66.1L99.7 66.8L99.7 66.8L99.9 67.5L100.0 68.2L100.2 69.0L100.3 69.7L100.4 70.4L100.6 71.2L100.7 71.9L100.8 72.6L100.9 73.3L101.0 74.1L101.1 74.8L101.3 75.5L101.4 76.3L101.4 77.0L101.5 77.7L101.6 78.4L101.7 79.2L101.8 79.9L101.9 80.6L101.9 81.3L102.0 82.1L102.1 82.8L102.1 83.5L102.2 84.3L102.2 85.0L102.3 85.7L102.3 86.4L102.3 87.2L102.4 87.9L102.4 88.6L102.4 89.4L102.4 90.1L102.4 90.8L102.4 91.5L102.4 92.3L102.4 93.0L102.4 93.7L102.3 94.5L102.3 95.2L102.3 95.9L102.2 96.6L102.1 97.4L102.1 98.1L102.0 98.8L101.9 99.5L101.8 100.3L101.7 101.0L101.6 101.7L101.5 102.5L101.3 103.2L101.2 103.9L101.0 104.6L100.8 105.4L100.6 106.1L100.4 106.8L100.2 107.6L99.9 108.3L99.7 108.7L99.7 109.0L99.4 109.7L99.1 110.5L98.9 111.2L98.6 111.9L98.3 112.6L98.0 113.4L97.7 114.1L97.3 114.8L97.0 115.6L96.6 116.3L96.2 117.0L95.8 117.7L95.4 118.5L94.9 119.2L94.5 119.9L94.0 120.7L93.5 121.4L92.9 122.1L92.4 122.8L91.8 123.6L91.2 124.3L90.5 125.0L89.8 125.7L89.1 126.5L88.4 127.2L87.6 127.9L86.7 128.7L85.8 129.4L84.9 130.1L83.9 130.8L82.9 131.6L81.8 132.3L80.8 132.9L80.7 133.0L79.5 133.8L78.4 134.5L77.2 135.2L75.9 135.9L74.7 136.7L73.4 137.4L72.1 138.1L70.7 138.8L69.2 139.6L67.6 140.3L65.8 141.0L64.0 141.8L62.3 142.5L61.8 142.7L56.3 143.2L53.0 143.9L51.6 144.7L50.9 145.4L50.5 146.1L50.4 146.8L50.5 147.6L50.8 148.3L51.0 149.0L51.2 149.8L51.3 150.5L51.4 151.2L51.5 151.9L51.5 152.7L51.5 153.4" fill="none" stroke="#000" stroke-opacity="0.16" stroke-width="0.55"/>
<path d="M250.2 153.4L250.2 152.7L250.2 151.9L250.2 151.2L250.2 150.5L250.2 149.8L250.2 149.0L250.2 148.3L250.2 147.6L250.2 146.8L250.2 146.1L250.1 145.4L250.1 144.7L250.1 143.9L250.1 143.2L250.1 142.5L250.1 141.8L250.1 141.0L250.1 140.3L250.0 139.6L250.0 138.8L249.9 138.1L249.8 137.4L249.3 136.7L247.7 135.9L246.4 135.2L245.5 134.5L244.8 133.8L244.2 133.0L243.7 132.3L243.2 131.6L242.8 130.8L242.4 130.1L242.0 129.4L241.7 128.7L241.3 127.9L241.0 127.2L240.7 126.5L240.4 125.7L240.1 125.0L239.8 124.3L239.6 123.6L239.3 122.8L239.1 122.1L238.8 121.4L238.6 120.7L238.4 119.9L238.1 119.2L237.9 118.5L237.7 117.7L237.5 117.0L237.3 116.3L237.1 115.6L236.9 114.8L236.7 114.1L236.5 113.4L236.4 112.6L236.2 111.9L236.0 111.2L235.8 110.5L235.6 109.7L235.5 109.0L235.3 108.3L235.1 107.6L234.9 106.8L234.8 106.1L234.6 105.4L234.4 104.6L234.3 103.9L234.1 103.2L233.9 102.5L233.8 101.7L233.6 101.0L233.4 100.3L233.3 99.5L233.1 98.8L233.0 98.1L232.8 97.4L232.6 96.6L232.5 95.9L232.4 95.4L232.3 95.2L232.1 94.5L232.0 93.7L231.8 93.0L231.6 92.3L231.5 91.5L231.3 90.8L231.2 90.1L231.0 89.4L230.9 88.6L230.7 87.9L230.5 87.2L230.4 86.4L230.2 85.7L230.1 85.0L230.0 84.3L229.8 83.5L229.7 82.8L229.5 82.1L229.4 81.3L229.2 80.6L229.1 79.9L228.9 79.2L228.8 78.4L228.6 77.7L228.5 77.0L228.3 76.3L228.2 75.5L228.0 74.8L227.9 74.1L227.8 73.3L227.6 72.6L227.5 71.9L227.3 71.2L227.1 70.4L227.0 69.7L226.8 69.0L226.7 68.2L226.5 67.5L226.4 66.8L226.2 66.1L226.0 65.3L225.9 64.6L225.7 63.9L225.5 63.2L225.3 62.4L225.2 61.7L225.0 61.0L224.8 60.2L224.6 59.5L224.4 58.8L224.2 58.1L224.0 57.3L223.8 56.6L223.6 55.9L223.4 55.1L223.2 54.4L222.9 53.7L222.7 53.0L222.5 52.2L222.2 51.5L221.9 50.8L221.7 50.1L221.4 49.3L221.1 48.6L220.8 47.9L220.5 47.1L220.2 46.4L219.8 45.7L219.4 45.0L219.1 44.2L218.7 43.5L218.2 42.8L217.7 42.0L217.2 41.3L216.6 40.6L216.0 39.9L215.3 39.1L214.3 38.4L213.4 37.9L213.3 37.7L213.1 37.0L212.8 36.2L212.5 35.5L212.3 34.8L212.1 34.0L211.9 33.3L211.8 32.6L211.9 31.9L211.9 31.1L212.0 30.4L212.0 29.7L212.1 28.9L212.1 28.2L212.2 27.5L212.3 26.8L212.3 26.0L212.4 25.3L212.5 24.6L212.5 23.9L212.5 23.1L212.5 22.4M100.3 22.4L100.3 23.1L100.3 23.9L100.3 24.6L100.3 25.3L100.4 26.0L100.5 26.8L100.7 27.5L100.9 28.2L101.1 28.9L101.4 29.7L101.7 30.4L102.0 31.1L102.4 31.9L102.8 32.6L103.2 33.3L103.6 34.0L103.9 34.8L104.3 35.5L104.6 36.2L105.0 37.0L105.4 37.7L105.9 38.4L106.3 39.1L106.7 39.9L107.0 40.6L107.4 41.3L107.7 42.0L108.0 42.8L108.3 43.5L108.6 44.2L108.9 45.0L109.2 45.7L109.4 46.4L109.7 47.1L110.0 47.9L110.2 48.6L110.5 49.3L110.7 50.1L110.9 50.8L111.2 51.5L111.4 52.2L111.6 53.0L111.8 53.7L112.1 54.4L112.3 55.1L112.5 55.9L112.7 56.6L112.9 57.3L113.1 58.1L113.3 58.8L113.5 59.5L113.7 60.2L113.9 61.0L114.1 61.7L114.3 62.4L114.4 63.2L114.6 63.9L114.8 64.6L115.0 65.3L115.2 66.1L115.4 66.8L115.5 67.5L115.7 68.2L115.9 69.0L116.1 69.7L116.3 70.4L116.4 71.2L116.6 71.9L116.8 72.6L117.0 73.3L117.2 74.1L117.3 74.8L117.5 75.5L117.7 76.3L117.9 77.0L118.1 77.7L118.2 78.4L118.4 79.2L118.6 79.9L118.7 80.2L118.8 80.6L119.0 81.3L119.2 82.1L119.4 82.8L119.6 83.5L119.8 84.3L120.0 85.0L120.2 85.7L120.4 86.4L120.6 87.2L120.9 87.9L121.1 88.6L121.3 89.4L121.6 90.1L121.8 90.8L122.1 91.5L122.3 92.3L122.6 93.0L122.9 93.7L123.2 94.5L123.5 95.2L123.8 95.9L124.1 96.6L124.4 97.4L124.8 98.1L125.1 98.8L125.5 99.5L125.9 100.3L126.3 101.0L126.7 101.7L127.1 102.5L127.6 103.2L128.0 103.9L128.5 104.6L129.0 105.4L129.6 106.1L130.1 106.8L130.7 107.6L131.4 108.3L132.0 109.0L132.8 109.7L133.5 110.5L134.3 111.2L135.2 111.9L136.1 112.6L137.1 113.4L137.6 113.8L138.1 114.1L139.0 114.8L140.0 115.6L141.0 116.3L142.1 117.0L143.2 117.7L144.4 118.5L145.7 119.2L147.0 119.9L148.5 120.7L150.0 121.4L151.7 122.1L153.4 122.8L155.4 123.6L156.6 124.0L157.0 124.3L158.0 125.0L159.0 125.7L160.0 126.5L161.0 127.2L162.1 127.9L163.1 128.7L164.2 129.4L165.3 130.1L166.5 130.8L167.7 131.6L168.9 132.3L170.3 133.0L171.7 133.8L173.3 134.5L175.3 135.2L175.5 135.3L176.2 135.9L177.0 136.7L177.7 137.4L178.4 138.1L178.9 138.8L179.3 139.6L179.4 140.3L179.5 141.0L179.5 141.8L179.5 142.5L179.5 143.2L179.5 143.9L179.5 144.7L179.5 145.4L179.4 146.1L179.5 146.8L180.1 147.6L180.7 148.3L181.5 149.0L182.5 149.8L183.6 150.5L184.9 151.2L185.9 151.9L186.6 152.7L186.8 153.4" fill="none" stroke="#000" stroke-opacity="0.16" stroke-width="0.55"/>
<path d="M234.5 153.4L234.5 152.7L234.5 151.9L234.5 151.2L234.5 150.5L234.4 149.8L234.4 149.0L234.4 148.3L234.3 147.6L234.3 146.8L234.2 146.1L234.2 145.4L234.1 144.7L234.1 143.9L234.0 143.2L233.8 142.5L233.5 141.8L233.2 141.0L232.7 140.3L232.4 139.9L219.6 139.6L217.5 138.8L217.0 138.1L216.7 137.4L216.8 136.7L216.9 135.9L217.1 135.2L217.2 134.5L217.4 133.8L217.5 133.0L217.7 132.3L217.8 131.6L217.9 130.8L218.0 130.1L218.1 129.4L218.2 128.7L218.3 127.9L218.4 127.2L218.4 126.5L218.5 125.7L218.6 125.0L218.6 124.3L218.6 123.6L218.7 122.8L218.7 122.1L218.7 121.4L218.7 120.7L218.8 119.9L218.8 119.2L218.8 118.5L218.8 117.7L218.8 117.0L218.8 116.3L218.7 115.6L218.7 114.8L218.7 114.1L218.7 113.4L218.6 112.6L218.6 111.9L218.6 111.2L218.5 110.5L218.5 109.7L218.4 109.0L218.4 108.3L218.3 107.6L218.3 106.8L218.2 106.1L218.2 105.4L218.1 104.6L218.0 103.9L218.0 103.2L217.9 102.5L217.8 101.7L217.7 101.0L217.6 100.3L217.6 99.5L217.5 98.8L217.4 98.1L217.3 97.4L217.2 96.6L217.1 95.9L217.0 95.2L216.9 94.5L216.7 93.7L216.6 93.0L216.5 92.3L216.4 91.5L216.3 90.8L216.1 90.1L216.0 89.4L215.8 88.6L215.7 87.9L215.6 87.2L215.4 86.4L215.3 85.7L215.1 85.0L214.9 84.3L214.8 83.5L214.6 82.8L214.4 82.1L214.2 81.3L214.0 80.6L213.8 79.9L213.6 79.2L213.4 78.4L213.4 78.4L213.2 77.7L212.9 77.0L212.7 76.3L212.4 75.5L212.2 74.8L211.9 74.1L211.7 73.3L211.4 72.6L211.1 71.9L210.9 71.2L210.6 70.4L210.4 69.7L210.1 69.0L209.8 68.2L209.6 67.5L209.3 66.8L209.0 66.1L208.7 65.3L208.5 64.6L208.2 63.9L207.9 63.2L207.6 62.4L207.3 61.7L207.0 61.0L206.7 60.2L206.4 59.5L206.1 58.8L205.8 58.1L205.5 57.3L205.2 56.6L204.9 55.9L204.6 55.1L204.2 54.4L203.9 53.7L203.5 53.0L203.2 52.2L202.8 51.5L202.5 50.8L202.1 50.1L201.8 49.3L201.4 48.6L201.0 47.9L200.6 47.1L200.2 46.4L199.8 45.7L199.4 45.0L198.9 44.2L198.5 43.5L198.0 42.8L197.6 42.0L197.1 41.3L196.6 40.6L196.1 39.9L195.6 39.1L195.1 38.4L194.5 37.7L194.5 37.6L194.1 37.0L193.7 36.2L193.4 35.5L193.1 34.8L192.8 34.0L192.5 33.3L192.2 32.6L192.0 31.9L191.7 31.1L191.5 30.4L191.3 29.7L191.2 28.9L191.1 28.2L191.0 27.5L190.9 26.8L190.8 26.0L190.7 25.3L190.7 24.6L190.6 23.9L190.6 23.1L190.6 22.4M116.8 22.4L116.8 23.1L116.8 23.9L116.8 24.6L116.8 25.3L116.9 26.0L116.9 26.8L116.9 27.5L117.0 28.2L117.1 28.9L117.1 29.7L117.2 30.4L117.3 31.1L117.4 31.9L117.5 32.6L117.6 33.3L117.8 34.0L118.1 34.8L118.5 35.5L118.7 35.8L118.9 36.2L119.3 37.0L119.8 37.7L120.3 38.4L120.8 39.1L121.2 39.9L121.7 40.6L122.0 41.3L122.4 42.0L122.7 42.8L123.0 43.5L123.3 44.2L123.5 45.0L123.8 45.7L124.0 46.4L124.3 47.1L124.5 47.9L124.7 48.6L125.0 49.3L125.2 50.1L125.4 50.8L125.6 51.5L125.8 52.2L126.0 53.0L126.2 53.7L126.5 54.4L126.7 55.1L126.9 55.9L127.1 56.6L127.3 57.3L127.5 58.1L127.7 58.8L127.9 59.5L128.2 60.2L128.4 61.0L128.6 61.7L128.8 62.4L129.1 63.2L129.3 63.9L129.5 64.6L129.8 65.3L130.0 66.1L130.2 66.8L130.5 67.5L130.8 68.2L131.0 69.0L131.3 69.7L131.5 70.4L131.8 71.2L132.1 71.9L132.4 72.6L132.7 73.3L133.0 74.1L133.3 74.8L133.6 75.5L133.9 76.3L134.3 77.0L134.6 77.7L135.0 78.4L135.3 79.2L135.7 79.9L136.1 80.6L136.5 81.3L136.9 82.1L137.3 82.8L137.6 83.4L137.7 83.5L138.3 84.3L138.8 85.0L139.4 85.7L139.9 86.4L140.5 87.2L141.1 87.9L141.7 88.6L142.3 89.4L143.0 90.1L143.6 90.8L144.3 91.5L145.0 92.3L145.7 93.0L146.4 93.7L147.2 94.5L147.9 95.2L148.7 95.9L149.5 96.6L150.3 97.4L151.2 98.1L152.1 98.8L153.0 99.5L153.9 100.3L154.9 101.0L155.9 101.7L156.6 102.2L157.0 102.5L158.1 103.2L159.2 103.9L160.3 104.6L161.4 105.4L162.5 106.1L163.6 106.8L164.6 107.6L165.7 108.3L166.8 109.0L167.9 109.7L169.0 110.5L170.1 111.2L171.3 111.9L172.4 112.6L173.5 113.4L174.7 114.1L175.5 114.6L176.0 114.8L177.5 115.6L179.0 116.3L180.3 117.0L181.7 117.7L183.0 118.5L184.2 119.2L185.4 119.9L186.5 120.7L187.6 121.4L188.7 122.1L189.8 122.8L190.8 123.6L191.8 124.3L192.8 125.0L193.8 125.7L194.5 126.2L195.6 126.5L198.4 127.2L200.6 127.9L202.4 128.7L204.0 129.4L205.3 130.1L206.4 130.8L207.4 131.6L208.3 132.3L209.1 133.0L209.8 133.8L210.4 134.5L210.9 135.2L211.4 135.9L211.9 136.7L212.3 137.4L212.6 138.1L212.9 138.8L213.2 139.6L213.4 140.3L213.4 140.3L215.3 141.0L215.5 141.8L215.3 142.5L214.5 143.2L213.4 143.7L213.3 143.9L213.1 144.7L213.0 145.4L212.8 146.1L212.7 146.8L212.6 147.6L212.5 148.3L212.4 149.0L212.3 149.8L212.2 150.5L212.2 151.2L212.2 151.9L212.2 152.7L212.2 153.4" fill="none" stroke="#000" stroke-opacity="0.16" stroke-width="0.55"/>
<path d="M128.8 22.4L128.8 23.1L128.8 23.9L128.8 24.6L128.8 25.3L128.9 26.0L128.9 26.8L129.0 27.5L129.0 28.2L129.1 28.9L129.1 29.7L129.2 30.4L129.3 31.1L129.4 31.9L129.5 32.6L129.6 33.3L129.8 34.0L130.0 34.8L130.2 35.5L130.4 36.2L130.7 37.0L131.0 37.7L131.3 38.4L131.8 39.1L132.7 39.9L133.6 40.6L134.2 41.3L134.7 42.0L135.2 42.8L135.6 43.5L136.0 44.2L136.3 45.0L136.7 45.7L137.0 46.4L137.3 47.1L137.6 47.9L137.6 48.0L138.1 48.6L138.6 49.3L139.0 50.1L139.5 50.8L139.9 51.5L140.3 52.2L140.8 53.0L141.2 53.7L141.5 54.4L141.9 55.1L142.3 55.9L142.7 56.6L143.1 57.3L143.5 58.1L143.8 58.8L144.2 59.5L144.6 60.2L145.0 61.0L145.3 61.7L145.7 62.4L146.1 63.2L146.5 63.9L146.9 64.6L147.3 65.3L147.7 66.1L148.1 66.8L148.5 67.5L148.9 68.2L149.4 69.0L149.8 69.7L150.3 70.4L150.7 71.2L151.2 71.9L151.6 72.6L152.1 73.3L152.6 74.1L153.1 74.8L153.6 75.5L154.2 76.3L154.7 77.0L155.2 77.7L155.8 78.4L156.4 79.2L156.6 79.4L157.4 79.9L158.7 80.6L159.9 81.3L161.1 82.1L162.3 82.8L163.4 83.5L164.5 84.3L165.6 85.0L166.6 85.7L167.6 86.4L168.6 87.2L169.6 87.9L170.6 88.6L171.5 89.4L172.5 90.1L173.4 90.8L174.4 91.5L175.3 92.3L175.5 92.4L179.1 92.3L187.7 91.5L191.6 90.8L193.8 90.1L194.5 89.7L194.5 89.4L194.7 88.6L194.8 87.9L194.9 87.2L195.0 86.4L195.0 85.7L195.1 85.0L195.1 84.3L195.1 83.5L195.1 82.8L195.1 82.1L195.1 81.3L195.1 80.6L195.1 79.9L195.0 79.2L195.0 78.4L194.9 77.7L194.8 77.0L194.7 76.3L194.6 75.5L194.5 74.8L194.5 74.4L194.4 74.1L194.1 73.3L193.8 72.6L193.6 71.9L193.3 71.2L193.0 70.4L192.7 69.7L192.4 69.0L192.2 68.2L191.9 67.5L191.6 66.8L191.3 66.1L191.0 65.3L190.7 64.6L190.4 63.9L190.1 63.2L189.8 62.4L189.5 61.7L189.2 61.0L188.9 60.2L188.6 59.5L188.3 58.8L188.0 58.1L187.7 57.3L187.4 56.6L187.1 55.9L186.8 55.1L186.5 54.4L186.2 53.7L185.9 53.0L185.6 52.2L185.3 51.5L185.0 50.8L184.8 50.1L184.5 49.3L184.2 48.6L183.9 47.9L183.6 47.1L183.3 46.4L183.1 45.7L182.8 45.0L182.5 44.2L182.3 43.5L182.0 42.8L181.8 42.0L181.6 41.3L181.4 40.6L181.2 39.9L181.0 39.1L180.9 38.4L180.7 37.7L180.7 37.0L180.6 36.2L180.7 35.5L180.8 34.8L180.9 34.0L181.0 33.3L181.0 32.6L181.1 31.9L181.1 31.1L181.2 30.4L181.2 29.7L181.2 28.9L181.2 28.2L181.2 27.5L181.2 26.8L181.2 26.0L181.2 25.3L181.2 24.6L181.2 23.9L181.2 23.1L181.2 22.4" fill="none" stroke="#000" stroke-opacity="0.16" stroke-width="0.55"/>
<path d="M143.2 22.4L143.2 23.1L143.2 23.9L143.3 24.6L143.3 25.3L143.4 26.0L143.6 26.8L143.7 27.5L143.9 28.2L144.1 28.9L144.3 29.7L144.6 30.4L144.8 31.1L145.1 31.9L145.4 32.6L145.8 33.3L146.2 34.0L146.6 34.8L147.0 35.5L147.5 36.2L148.2 37.0L149.1 37.7L150.2 38.4L151.9 39.1L154.3 39.9L155.8 40.6L156.6 41.1L157.4 40.6L158.7 39.9L160.3 39.1L161.5 38.4L162.3 37.7L163.0 37.0L163.5 36.2L163.9 35.5L164.3 34.8L164.7 34.0L165.0 33.3L165.4 32.6L165.7 31.9L166.0 31.1L166.3 30.4L166.6 29.7L166.8 28.9L167.0 28.2L167.1 27.5L167.3 26.8L167.4 26.0L167.4 25.3L167.5 24.6L167.6 23.9L167.6 23.1L167.6 22.4" fill="none" stroke="#000" stroke-opacity="0.16" stroke-width="0.55"/>
<path d="M38.0 28.2C40.0 28.0 55.5 28.2 58.0 28.3C60.5 28.4 63.2 29.0 63.2 29.2C63.2 29.4 60.5 30.2 58.0 30.3C55.5 30.4 40.0 30.6 38.0 30.4C36.0 30.2 36.0 28.4 38.0 28.2Z" fill="#fdeaea"/>
<path d="M205.0 18.0C205.0 18.0 232.0 18.0 232.0 18.0C232.0 18.0 232.0 29.5 232.0 29.5C232.0 29.5 214.0 30.2 214.0 30.2C214.0 30.2 211.0 31.5 211.0 31.5C211.0 31.5 205.0 18.0 205.0 18.0Z" fill="#fdeaea"/>
<path d="M227.6 33.7C227.6 33.5 228.2 32.6 231.0 32.5C233.8 32.4 253.5 32.1 256.0 32.4C258.5 32.6 258.5 34.7 256.0 35.0C253.5 35.3 233.8 35.1 231.0 35.0C228.2 34.9 227.6 34.0 227.6 33.7Z" fill="#fdeaea"/>
<path d="M97.0 149.0C97.0 148.8 96.3 148.1 98.5 148.0C100.7 147.9 117.0 148.0 119.0 148.2C121.0 148.4 121.0 150.0 119.0 150.2C117.0 150.4 100.7 150.4 98.5 150.3C96.3 150.2 97.0 149.2 97.0 149.0Z" fill="#fdeaea"/>
<path d="M118.0 141.6C118.0 141.6 137.0 141.6 137.0 141.6C137.0 141.6 137.0 142.6 137.0 142.6C137.0 142.6 118.0 142.6 118.0 142.6C118.0 142.6 118.0 141.6 118.0 141.6Z" fill="#fdeaea"/>
<path d="M156.0 146.0C156.1 144.8 154.6 143.8 157.0 143.5C159.4 143.2 177.7 141.8 180.0 143.0C182.3 144.2 182.4 154.7 180.0 156.0C177.6 157.3 158.4 157.0 156.0 156.0C153.6 155.0 155.9 147.2 156.0 146.0Z" fill="#fdeaea"/>
</g>
<g clip-path="url(#clipb)">
<path d="M489.4 153.4L489.4 152.7L489.4 151.9L489.4 151.2L489.4 150.5L489.4 149.8L489.4 149.0L489.4 148.3L489.4 147.6L489.4 146.8L489.4 146.1L489.4 145.4L489.4 144.7L489.4 143.9L489.4 143.2L489.4 142.5L489.4 141.8L489.4 141.0L489.4 140.3L489.4 139.6L489.4 138.8L489.4 138.1L489.4 137.4L489.4 136.7L489.4 135.9L489.4 135.2L489.4 134.5L489.4 133.8L489.4 133.0L489.4 132.3L489.4 131.6L489.4 130.8L489.4 130.1L489.4 129.4L489.4 128.7L489.4 127.9L489.4 127.2L489.4 126.5L489.4 125.7L489.4 125.0L489.4 124.3L489.4 123.6L489.4 122.8L489.4 122.1L489.4 121.4L489.4 120.7L489.4 119.9L489.4 119.2L489.4 118.5L489.4 117.7L489.4 117.0L489.4 116.3L489.4 115.6L489.4 114.8L489.4 114.1L489.4 113.4L489.4 112.6L489.4 111.9L489.4 111.2L489.4 110.5L489.4 109.7L489.4 109.0L489.4 108.3L489.4 107.6L489.4 106.8L489.4 106.1L489.4 105.4L489.4 104.6L489.4 103.9L489.4 103.2L489.4 102.5L489.4 101.7L489.4 101.0L489.4 100.3L489.4 99.5L489.4 98.8L489.4 98.1L489.4 97.4L489.4 96.6L489.4 95.9L489.4 95.2L489.4 94.5L489.4 93.7L489.4 93.0L489.4 92.3L489.4 91.5L489.4 90.8L489.4 90.1L489.4 89.4L489.4 88.6L489.4 87.9L489.4 87.2L489.4 86.4L489.4 85.7L489.4 85.0L489.4 84.3L489.4 83.5L489.4 82.8L489.4 82.1L488.5 82.8L487.6 83.5L486.8 84.3L486.1 85.0L485.3 85.7L484.7 86.4L484.1 87.2L483.5 87.9L482.9 88.6L482.4 89.4L481.9 90.1L481.5 90.8L481.1 91.5L480.7 92.3L480.4 93.0L480.0 93.7L479.7 94.5L479.4 95.2L479.2 95.9L479.0 96.6L478.8 97.4L478.6 98.1L478.4 98.8L478.3 99.5L478.1 100.3L478.0 101.0L477.9 101.7L477.8 102.5L477.8 103.2L477.7 103.9L477.7 104.6L477.7 105.4L477.7 106.1L477.7 106.8L477.7 107.6L477.8 108.3L477.8 109.0L477.9 109.7L478.0 110.5L478.1 111.2L478.2 111.9L478.3 112.6L478.4 113.4L478.6 114.1L478.7 114.8L478.9 115.6L479.1 116.3L479.3 117.0L479.5 117.7L479.7 118.5L479.9 119.2L480.1 119.9L480.4 120.7L480.6 121.4L480.9 122.1L481.1 122.8L481.4 123.6L481.7 124.3L482.0 125.0L482.3 125.7L482.6 126.5L483.0 127.2L483.3 127.9L483.6 128.7L484.0 129.4L484.3 130.1L484.7 130.8L485.0 131.6L485.4 132.3L485.8 133.0L486.2 133.8L486.6 134.5L487.1 135.2L487.7 135.9L488.3 136.7L488.3 137.4L488.1 138.1L487.9 138.8L487.6 139.6L487.4 140.3L487.3 141.0L487.1 141.8L486.9 142.5L486.8 143.2L486.6 143.9L486.5 144.7L486.3 145.4L486.2 146.1L486.1 146.8L486.0 147.6L486.0 148.3L485.9 149.0L485.8 149.8L485.8 150.5L485.7 151.2L485.7 151.9L485.7 152.7L485.7 153.4ZM282.4 133.0L282.8 132.3L283.1 131.6L283.5 130.8L283.9 130.1L284.2 129.4L284.6 128.7L284.9 127.9L285.2 127.2L285.6 126.5L285.9 125.7L286.2 125.0L286.5 124.3L286.8 123.6L287.1 122.8L287.4 122.1L287.6 121.4L287.9 120.7L288.1 119.9L288.4 119.2L288.6 118.5L288.8 117.7L289.1 117.0L289.3 116.3L289.4 115.6L289.6 114.8L289.8 114.1L290.0 113.4L290.1 112.6L290.3 111.9L290.4 111.2L290.5 110.5L290.6 109.7L290.7 109.0L290.8 108.3L290.9 107.6L290.9 106.8L291.0 106.1L291.0 105.4L291.0 104.6L291.0 103.9L291.0 103.2L291.0 102.5L291.0 101.7L290.9 101.0L290.9 100.3L290.8 99.5L290.7 98.8L290.6 98.1L290.5 97.4L290.3 96.6L290.1 95.9L290.0 95.2L289.8 94.5L289.5 93.7L289.3 93.0L289.0 92.3L288.7 91.5L288.4 90.8L288.0 90.1L287.6 89.4L287.2 88.6L286.8 87.9L286.3 87.2L285.8 86.4L285.3 85.7L284.7 85.0L284.0 84.3L283.4 83.5L282.6 82.8L282.3 82.5L282.3 82.8L282.3 83.5L282.3 84.3L282.3 85.0L282.3 85.7L282.3 86.4L282.3 87.2L282.3 87.9L282.3 88.6L282.3 89.4L282.3 90.1L282.3 90.8L282.3 91.5L282.3 92.3L282.3 93.0L282.3 93.7L282.3 94.5L282.3 95.2L282.3 95.9L282.3 96.6L282.3 97.4L282.3 98.1L282.3 98.8L282.3 99.5L282.3 100.3L282.3 101.0L282.3 101.7L282.3 102.5L282.3 103.2L282.3 103.9L282.3 104.6L282.3 105.4L282.3 106.1L282.3 106.8L282.3 107.6L282.3 108.3L282.3 109.0L282.3 109.7L282.3 110.5L282.3 111.2L282.3 111.9L282.3 112.6L282.3 113.4L282.3 114.1L282.3 114.8L282.3 115.6L282.3 116.3L282.3 117.0L282.3 117.7L282.3 118.5L282.3 119.2L282.3 119.9L282.3 120.7L282.3 121.4L282.3 122.1L282.3 122.8L282.3 123.6L282.3 124.3L282.3 125.0L282.3 125.7L282.3 126.5L282.3 127.2L282.3 127.9L282.3 128.7L282.3 129.4L282.3 130.1L282.3 130.8L282.3 131.6L282.3 132.3L282.3 133.0L282.3 133.2Z" fill="#5b68b8" stroke="#5b68b8" stroke-width="0.3"/>
<path d="M289.6 152.7L289.6 151.9L289.6 151.2L289.5 150.5L289.5 149.8L289.5 149.0L289.4 148.3L289.4 147.6L289.3 146.8L289.3 146.1L289.2 145.4L289.2 144.7L289.2 143.9L289.2 143.2L289.2 142.5L289.2 141.8L289.3 141.0L289.3 140.3L289.4 139.6L289.6 138.8L289.8 138.1L290.1 137.4L290.6 136.7L291.1 135.9L291.5 135.2L291.9 134.5L292.3 133.8L292.7 133.0L293.1 132.3L293.5 131.6L293.9 130.8L294.2 130.1L294.6 129.4L295.0 128.7L295.3 127.9L295.7 127.2L296.0 126.5L296.4 125.7L296.7 125.0L297.0 124.3L297.3 123.6L297.6 122.8L297.9 122.1L298.2 121.4L298.5 120.7L298.8 119.9L299.1 119.2L299.3 118.5L299.6 117.7L299.8 117.0L300.1 116.3L300.3 115.6L300.6 114.8L300.8 114.1L301.0 113.4L301.1 112.9L301.2 112.6L301.3 111.9L301.5 111.2L301.6 110.5L301.7 109.7L301.8 109.0L302.0 108.3L302.1 107.6L302.2 106.8L302.2 106.1L302.3 105.4L302.4 104.6L302.5 103.9L302.5 103.2L302.6 102.5L302.6 101.7L302.6 101.0L302.7 100.3L302.7 99.5L302.7 98.8L302.7 98.1L302.7 97.4L302.7 96.6L302.7 95.9L302.6 95.2L302.6 94.5L302.6 93.7L302.5 93.0L302.5 92.3L302.4 91.5L302.3 90.8L302.3 90.1L302.2 89.4L302.1 88.6L302.0 87.9L301.8 87.2L301.7 86.4L301.6 85.7L301.4 85.0L301.3 84.3L301.1 83.6L301.1 83.5L300.8 82.8L300.4 82.1L300.0 81.3L299.5 80.6L299.0 79.9L298.5 79.2L297.9 78.4L297.3 77.7L296.6 77.0L295.9 76.3L295.1 75.5L294.2 74.8L293.2 74.1L292.2 73.3L291.0 72.6L289.8 71.9L288.4 71.2L286.9 70.4L285.3 69.7L283.5 69.0L282.3 68.5L282.3 69.0L282.3 69.7L282.3 70.4L282.3 71.2L282.3 71.9L282.3 72.6L282.3 73.3L282.3 74.1L282.3 74.8L282.3 75.5L282.3 76.3L282.3 77.0L282.3 77.7L282.3 78.4L282.3 79.2L282.3 79.9L282.3 80.6L282.3 81.3L282.3 82.1L282.3 82.5L282.6 82.8L283.4 83.5L284.0 84.3L284.7 85.0L285.3 85.7L285.8 86.4L286.3 87.2L286.8 87.9L287.2 88.6L287.6 89.4L288.0 90.1L288.4 90.8L288.7 91.5L289.0 92.3L289.3 93.0L289.5 93.7L289.8 94.5L290.0 95.2L290.1 95.9L290.3 96.6L290.5 97.4L290.6 98.1L290.7 98.8L290.8 99.5L290.9 100.3L290.9 101.0L291.0 101.7L291.0 102.5L291.0 103.2L291.0 103.9L291.0 104.6L291.0 105.4L291.0 106.1L290.9 106.8L290.9 107.6L290.8 108.3L290.7 109.0L290.6 109.7L290.5 110.5L290.4 111.2L290.3 111.9L290.1 112.6L290.0 113.4L289.8 114.1L289.6 114.8L289.4 115.6L289.3 116.3L289.1 117.0L288.8 117.7L288.6 118.5L288.4 119.2L288.1 119.9L287.9 120.7L287.6 121.4L287.4 122.1L287.1 122.8L286.8 123.6L286.5 124.3L286.2 125.0L285.9 125.7L285.6 126.5L285.2 127.2L284.9 127.9L284.6 128.7L284.2 129.4L283.9 130.1L283.5 130.8L283.1 131.6L282.8 132.3L282.4 133.0L282.3 133.2L282.3 133.8L282.3 134.5L282.3 135.2L282.3 135.9L282.3 136.7L282.3 137.4L282.3 138.1L282.3 138.8L282.3 139.6L282.3 140.3L282.3 141.0L282.3 141.8L282.3 142.5L282.3 143.2L282.3 143.9L282.3 144.7L282.3 145.4L282.3 146.1L282.3 146.8L282.3 147.6L282.3 148.3L282.3 149.0L282.3 149.8L282.3 150.5L282.3 151.2L282.3 151.9L282.3 152.7L282.3 153.4L289.6 153.4ZM485.7 152.7L485.7 151.9L485.7 151.2L485.8 150.5L485.8 149.8L485.9 149.0L486.0 148.3L486.0 147.6L486.1 146.8L486.2 146.1L486.3 145.4L486.5 144.7L486.6 143.9L486.8 143.2L486.9 142.5L487.1 141.8L487.3 141.0L487.4 140.3L487.6 139.6L487.9 138.8L488.1 138.1L488.3 137.4L488.3 136.7L487.7 135.9L487.1 135.2L486.6 134.5L486.2 133.8L485.8 133.0L485.4 132.3L485.0 131.6L484.7 130.8L484.3 130.1L484.0 129.4L483.6 128.7L483.3 127.9L483.0 127.2L482.6 126.5L482.3 125.7L482.0 125.0L481.7 124.3L481.4 123.6L481.1 122.8L480.9 122.1L480.6 121.4L480.4 120.7L480.1 119.9L479.9 119.2L479.7 118.5L479.5 117.7L479.3 117.0L479.1 116.3L478.9 115.6L478.7 114.8L478.6 114.1L478.4 113.4L478.3 112.6L478.2 111.9L478.1 111.2L478.0 110.5L477.9 109.7L477.8 109.0L477.8 108.3L477.7 107.6L477.7 106.8L477.7 106.1L477.7 105.4L477.7 104.6L477.7 103.9L477.8 103.2L477.8 102.5L477.9 101.7L478.0 101.0L478.1 100.3L478.3 99.5L478.4 98.8L478.6 98.1L478.8 97.4L479.0 96.6L479.2 95.9L479.4 95.2L479.7 94.5L480.0 93.7L480.4 93.0L480.7 92.3L481.1 91.5L481.5 90.8L481.9 90.1L482.4 89.4L482.9 88.6L483.5 87.9L484.1 87.2L484.7 86.4L485.3 85.7L486.1 85.0L486.8 84.3L487.6 83.5L488.5 82.8L489.4 82.1L489.4 82.1L489.4 81.3L489.4 80.6L489.4 79.9L489.4 79.2L489.4 78.4L489.4 77.7L489.4 77.0L489.4 76.3L489.4 75.5L489.4 74.8L489.4 74.1L489.4 73.3L489.4 72.6L489.4 71.9L489.4 71.2L489.4 70.4L489.4 69.7L489.4 69.1L487.7 69.7L485.8 70.4L484.0 71.2L482.4 71.9L480.9 72.6L479.5 73.3L478.2 74.1L477.0 74.8L476.0 75.5L475.0 76.3L474.0 77.0L473.2 77.7L472.4 78.4L471.6 79.2L471.0 79.9L470.6 80.3L470.5 80.6L470.2 81.3L469.9 82.1L469.7 82.8L469.4 83.5L469.2 84.3L469.0 85.0L468.8 85.7L468.6 86.4L468.4 87.2L468.3 87.9L468.1 88.6L468.0 89.4L467.8 90.1L467.7 90.8L467.6 91.5L467.5 92.3L467.4 93.0L467.3 93.7L467.2 94.5L467.2 95.2L467.1 95.9L467.0 96.6L467.0 97.4L467.0 98.1L466.9 98.8L466.9 99.5L466.9 100.3L466.9 101.0L466.9 101.7L466.9 102.5L466.9 103.2L466.9 103.9L466.9 104.6L467.0 105.4L467.0 106.1L467.0 106.8L467.1 107.6L467.2 108.3L467.2 109.0L467.3 109.7L467.4 110.5L467.5 111.2L467.6 111.9L467.7 112.6L467.8 113.4L467.9 114.1L468.0 114.8L468.1 115.6L468.3 116.3L468.4 117.0L468.6 117.7L468.7 118.5L468.9 119.2L469.0 119.9L469.2 120.7L469.4 121.4L469.6 122.1L469.8 122.8L470.0 123.6L470.3 124.3L470.5 125.0L470.6 125.3L470.8 125.7L471.1 126.5L471.5 127.2L471.8 127.9L472.2 128.7L472.5 129.4L472.9 130.1L473.3 130.8L473.7 131.6L474.1 132.3L474.5 133.0L474.9 133.8L475.3 134.5L475.7 135.2L476.2 135.9L476.8 136.7L477.1 137.4L477.3 138.1L477.5 138.8L477.6 139.6L477.7 140.3L477.7 141.0L477.7 141.8L477.6 142.5L477.5 143.2L477.4 143.9L477.3 144.7L477.2 145.4L477.1 146.1L477.0 146.8L477.0 147.6L476.9 148.3L476.9 149.0L476.8 149.8L476.8 150.5L476.7 151.2L476.7 151.9L476.7 152.7L476.7 153.4L485.7 153.4Z" fill="#7f86c6" stroke="#7f86c6" stroke-width="0.3"/>
<path d="M297.5 152.7L297.5 151.9L297.5 151.2L297.5 150.5L297.5 149.8L297.5 149.0L297.4 148.3L297.4 147.6L297.4 146.8L297.4 146.1L297.4 145.4L297.5 144.7L297.6 143.9L297.8 143.2L298.0 142.5L298.2 141.8L298.5 141.0L298.9 140.3L299.3 139.6L299.7 138.8L300.1 138.1L300.6 137.4L301.0 136.7L301.1 136.4L301.5 135.9L301.9 135.2L302.3 134.5L302.8 133.8L303.2 133.0L303.5 132.3L303.9 131.6L304.3 130.8L304.6 130.1L304.9 129.4L305.3 128.7L305.6 127.9L305.8 127.2L306.1 126.5L306.4 125.7L306.6 125.0L306.9 124.3L307.1 123.6L307.4 122.8L307.6 122.1L307.8 121.4L308.0 120.7L308.2 119.9L308.4 119.2L308.5 118.5L308.7 117.7L308.9 117.0L309.0 116.3L309.2 115.6L309.3 114.8L309.4 114.1L309.6 113.4L309.7 112.6L309.8 111.9L309.9 111.2L310.0 110.5L310.1 109.7L310.2 109.0L310.3 108.3L310.4 107.6L310.5 106.8L310.6 106.1L310.6 105.4L310.7 104.6L310.7 103.9L310.8 103.2L310.8 102.5L310.9 101.7L310.9 101.0L311.0 100.3L311.0 99.5L311.0 98.8L311.0 98.1L311.1 97.4L311.1 96.6L311.1 95.9L311.1 95.2L311.1 94.5L311.0 93.7L311.0 93.0L311.0 92.3L311.0 91.5L311.0 90.8L310.9 90.1L310.9 89.4L310.8 88.6L310.8 87.9L310.7 87.2L310.6 86.4L310.6 85.7L310.5 85.0L310.4 84.3L310.3 83.5L310.2 82.8L310.1 82.1L310.0 81.3L309.9 80.6L309.8 79.9L309.6 79.2L309.5 78.4L309.3 77.7L309.1 77.0L309.0 76.3L308.8 75.5L308.6 74.8L308.4 74.1L308.2 73.3L307.9 72.6L307.7 71.9L307.4 71.2L307.1 70.4L306.9 69.7L306.5 69.0L306.2 68.2L305.9 67.5L305.5 66.8L305.1 66.1L304.7 65.3L304.3 64.6L303.8 63.9L303.3 63.2L302.8 62.4L302.2 61.7L301.6 61.0L301.1 60.4L300.5 60.2L297.2 59.5L293.1 58.8L287.8 58.1L282.3 57.5L282.3 58.1L282.3 58.8L282.3 59.5L282.3 60.2L282.3 61.0L282.3 61.7L282.3 62.4L282.3 63.2L282.3 63.9L282.3 64.6L282.3 65.3L282.3 66.1L282.3 66.8L282.3 67.5L282.3 68.2L282.3 68.5L283.5 69.0L285.3 69.7L286.9 70.4L288.4 71.2L289.8 71.9L291.0 72.6L292.2 73.3L293.2 74.1L294.2 74.8L295.1 75.5L295.9 76.3L296.6 77.0L297.3 77.7L297.9 78.4L298.5 79.2L299.0 79.9L299.5 80.6L300.0 81.3L300.4 82.1L300.8 82.8L301.1 83.5L301.1 83.6L301.3 84.3L301.4 85.0L301.6 85.7L301.7 86.4L301.8 87.2L302.0 87.9L302.1 88.6L302.2 89.4L302.3 90.1L302.3 90.8L302.4 91.5L302.5 92.3L302.5 93.0L302.6 93.7L302.6 94.5L302.6 95.2L302.7 95.9L302.7 96.6L302.7 97.4L302.7 98.1L302.7 98.8L302.7 99.5L302.7 100.3L302.6 101.0L302.6 101.7L302.6 102.5L302.5 103.2L302.5 103.9L302.4 104.6L302.3 105.4L302.2 106.1L302.2 106.8L302.1 107.6L302.0 108.3L301.8 109.0L301.7 109.7L301.6 110.5L301.5 111.2L301.3 111.9L301.2 112.6L301.1 112.9L301.0 113.4L300.8 114.1L300.6 114.8L300.3 115.6L300.1 116.3L299.8 117.0L299.6 117.7L299.3 118.5L299.1 119.2L298.8 119.9L298.5 120.7L298.2 121.4L297.9 122.1L297.6 122.8L297.3 123.6L297.0 124.3L296.7 125.0L296.4 125.7L296.0 126.5L295.7 127.2L295.3 127.9L295.0 128.7L294.6 129.4L294.2 130.1L293.9 130.8L293.5 131.6L293.1 132.3L292.7 133.0L292.3 133.8L291.9 134.5L291.5 135.2L291.1 135.9L290.6 136.7L290.1 137.4L289.8 138.1L289.6 138.8L289.4 139.6L289.3 140.3L289.3 141.0L289.2 141.8L289.2 142.5L289.2 143.2L289.2 143.9L289.2 144.7L289.2 145.4L289.3 146.1L289.3 146.8L289.4 147.6L289.4 148.3L289.5 149.0L289.5 149.8L289.5 150.5L289.6 151.2L289.6 151.9L289.6 152.7L289.6 153.4L297.5 153.4ZM470.6 153.4L476.7 153.4L476.7 152.7L476.7 151.9L476.7 151.2L476.8 150.5L476.8 149.8L476.9 149.0L476.9 148.3L477.0 147.6L477.0 146.8L477.1 146.1L477.2 145.4L477.3 144.7L477.4 143.9L477.5 143.2L477.6 142.5L477.7 141.8L477.7 141.0L477.7 140.3L477.6 139.6L477.5 138.8L477.3 138.1L477.1 137.4L476.8 136.7L476.2 135.9L475.7 135.2L475.3 134.5L474.9 133.8L474.5 133.0L474.1 132.3L473.7 131.6L473.3 130.8L472.9 130.1L472.5 129.4L472.2 128.7L471.8 127.9L471.5 127.2L471.1 126.5L470.8 125.7L470.6 125.3L470.5 125.0L470.3 124.3L470.0 123.6L469.8 122.8L469.6 122.1L469.4 121.4L469.2 120.7L469.0 119.9L468.9 119.2L468.7 118.5L468.6 117.7L468.4 117.0L468.3 116.3L468.1 115.6L468.0 114.8L467.9 114.1L467.8 113.4L467.7 112.6L467.6 111.9L467.5 111.2L467.4 110.5L467.3 109.7L467.2 109.0L467.2 108.3L467.1 107.6L467.0 106.8L467.0 106.1L467.0 105.4L466.9 104.6L466.9 103.9L466.9 103.2L466.9 102.5L466.9 101.7L466.9 101.0L466.9 100.3L466.9 99.5L466.9 98.8L467.0 98.1L467.0 97.4L467.0 96.6L467.1 95.9L467.2 95.2L467.2 94.5L467.3 93.7L467.4 93.0L467.5 92.3L467.6 91.5L467.7 90.8L467.8 90.1L468.0 89.4L468.1 88.6L468.3 87.9L468.4 87.2L468.6 86.4L468.8 85.7L469.0 85.0L469.2 84.3L469.4 83.5L469.7 82.8L469.9 82.1L470.2 81.3L470.5 80.6L470.6 80.3L471.0 79.9L471.6 79.2L472.4 78.4L473.2 77.7L474.0 77.0L475.0 76.3L476.0 75.5L477.0 74.8L478.2 74.1L479.5 73.3L480.9 72.6L482.4 71.9L484.0 71.2L485.8 70.4L487.7 69.7L489.4 69.1L489.4 69.0L489.4 68.2L489.4 67.5L489.4 66.8L489.4 66.1L489.4 65.3L489.4 64.6L489.4 63.9L489.4 63.2L489.4 62.4L489.4 61.7L489.4 61.0L489.4 60.2L489.4 59.5L489.4 58.8L489.4 58.5L486.7 58.8L481.7 59.5L477.4 60.2L473.8 61.0L470.8 61.7L470.6 61.8L469.8 62.4L469.1 63.2L468.4 63.9L467.7 64.6L467.1 65.3L466.6 66.1L466.0 66.8L465.5 67.5L465.1 68.2L464.6 69.0L464.2 69.7L463.8 70.4L463.5 71.2L463.1 71.9L462.8 72.6L462.5 73.3L462.2 74.1L462.0 74.8L461.7 75.5L461.5 76.3L461.3 77.0L461.1 77.7L460.9 78.4L460.7 79.2L460.5 79.9L460.4 80.6L460.2 81.3L460.1 82.1L459.9 82.8L459.8 83.5L459.7 84.3L459.6 85.0L459.5 85.7L459.4 86.4L459.3 87.2L459.2 87.9L459.2 88.6L459.1 89.4L459.0 90.1L459.0 90.8L458.9 91.5L458.9 92.3L458.9 93.0L458.8 93.7L458.8 94.5L458.8 95.2L458.8 95.9L458.8 96.6L458.8 97.4L458.8 98.1L458.8 98.8L458.8 99.5L458.8 100.3L458.8 101.0L458.8 101.7L458.9 102.5L458.9 103.2L458.9 103.9L459.0 104.6L459.0 105.4L459.1 106.1L459.1 106.8L459.2 107.6L459.3 108.3L459.3 109.0L459.4 109.7L459.5 110.5L459.6 111.2L459.7 111.9L459.7 112.6L459.8 113.4L459.9 114.1L460.1 114.8L460.2 115.6L460.3 116.3L460.4 117.0L460.5 117.7L460.7 118.5L460.8 119.2L460.9 119.9L461.1 120.7L461.2 121.4L461.4 122.1L461.6 122.8L461.7 123.6L461.9 124.3L462.1 125.0L462.3 125.7L462.5 126.5L462.7 127.2L462.9 127.9L463.1 128.7L463.4 129.4L463.6 130.1L463.9 130.8L464.1 131.6L464.4 132.3L464.6 133.0L464.9 133.8L465.2 134.5L465.5 135.2L465.8 135.9L466.2 136.7L466.5 137.4L467.0 138.1L467.3 138.8L467.6 139.6L467.9 140.3L468.0 141.0L468.1 141.8L468.2 142.5L468.2 143.2L468.2 143.9L468.1 144.7L468.1 145.4L468.1 146.1L468.0 146.8L468.0 147.6L468.0 148.3L468.0 149.0L467.9 149.8L467.9 150.5L467.9 151.2L467.9 151.9L467.9 152.7L467.9 153.4Z" fill="#a3a6d6" stroke="#a3a6d6" stroke-width="0.3"/>
<path d="M301.1 153.4L307.9 153.4L307.9 152.7L307.9 151.9L307.9 151.2L308.0 150.5L308.1 149.8L308.1 149.0L308.2 148.3L308.3 147.6L308.4 146.8L308.5 146.1L308.7 145.4L308.9 144.7L309.2 143.9L309.5 143.2L309.8 142.5L310.2 141.8L310.6 141.0L311.0 140.3L311.4 139.6L311.8 138.8L312.1 138.1L312.4 137.4L312.7 136.7L313.0 135.9L313.3 135.2L313.6 134.5L313.8 133.8L314.1 133.0L314.3 132.3L314.5 131.6L314.7 130.8L314.9 130.1L315.1 129.4L315.3 128.7L315.5 127.9L315.7 127.2L315.9 126.5L316.1 125.7L316.2 125.0L316.4 124.3L316.5 123.6L316.7 122.8L316.8 122.1L316.9 121.4L317.1 120.7L317.2 119.9L317.3 119.2L317.4 118.5L317.5 117.7L317.7 117.0L317.8 116.3L317.9 115.6L318.0 114.8L318.0 114.1L318.1 113.4L318.2 112.6L318.3 111.9L318.4 111.2L318.5 110.5L318.5 109.7L318.6 109.0L318.7 108.3L318.7 107.6L318.8 106.8L318.9 106.1L318.9 105.4L319.0 104.6L319.0 103.9L319.1 103.2L319.1 102.5L319.2 101.7L319.2 101.0L319.3 100.3L319.3 99.5L319.3 98.8L319.4 98.1L319.4 97.4L319.4 96.6L319.5 95.9L319.5 95.2L319.5 94.5L319.5 93.7L319.5 93.0L319.6 92.3L319.6 91.5L319.6 90.8L319.6 90.1L319.6 89.4L319.6 88.6L319.6 87.9L319.6 87.2L319.6 86.4L319.6 85.7L319.6 85.0L319.5 84.3L319.5 83.5L319.5 82.8L319.5 82.1L319.5 81.3L319.4 80.6L319.4 79.9L319.4 79.2L319.3 78.4L319.3 77.7L319.2 77.0L319.2 76.3L319.1 75.5L319.1 74.8L319.0 74.1L318.9 73.3L318.8 72.6L318.8 71.9L318.7 71.2L318.6 70.4L318.5 69.7L318.4 69.0L318.3 68.2L318.1 67.5L318.0 66.8L317.9 66.1L317.7 65.3L317.5 64.6L317.4 63.9L317.2 63.2L317.0 62.4L316.8 61.7L316.6 61.0L316.3 60.2L316.1 59.5L315.8 58.8L315.5 58.1L315.2 57.3L314.8 56.6L314.4 55.9L314.0 55.1L313.6 54.4L313.1 53.7L312.6 53.0L312.0 52.2L311.4 51.5L310.7 50.8L309.9 50.1L309.1 49.3L308.1 48.6L307.0 47.9L305.8 47.1L304.5 46.4L302.9 45.7L301.1 45.0L296.3 45.7L290.4 46.4L282.9 47.1L282.3 47.2L282.3 47.9L282.3 48.6L282.3 49.3L282.3 50.1L282.3 50.8L282.3 51.5L282.3 52.2L282.3 53.0L282.3 53.7L282.3 54.4L282.3 55.1L282.3 55.9L282.3 56.6L282.3 57.3L282.3 57.5L287.8 58.1L293.1 58.8L297.2 59.5L300.5 60.2L301.1 60.4L301.6 61.0L302.2 61.7L302.8 62.4L303.3 63.2L303.8 63.9L304.3 64.6L304.7 65.3L305.1 66.1L305.5 66.8L305.9 67.5L306.2 68.2L306.5 69.0L306.9 69.7L307.1 70.4L307.4 71.2L307.7 71.9L307.9 72.6L308.2 73.3L308.4 74.1L308.6 74.8L308.8 75.5L309.0 76.3L309.1 77.0L309.3 77.7L309.5 78.4L309.6 79.2L309.8 79.9L309.9 80.6L310.0 81.3L310.1 82.1L310.2 82.8L310.3 83.5L310.4 84.3L310.5 85.0L310.6 85.7L310.6 86.4L310.7 87.2L310.8 87.9L310.8 88.6L310.9 89.4L310.9 90.1L311.0 90.8L311.0 91.5L311.0 92.3L311.0 93.0L311.0 93.7L311.1 94.5L311.1 95.2L311.1 95.9L311.1 96.6L311.1 97.4L311.0 98.1L311.0 98.8L311.0 99.5L311.0 100.3L310.9 101.0L310.9 101.7L310.8 102.5L310.8 103.2L310.7 103.9L310.7 104.6L310.6 105.4L310.6 106.1L310.5 106.8L310.4 107.6L310.3 108.3L310.2 109.0L310.1 109.7L310.0 110.5L309.9 111.2L309.8 111.9L309.7 112.6L309.6 113.4L309.4 114.1L309.3 114.8L309.2 115.6L309.0 116.3L308.9 117.0L308.7 117.7L308.5 118.5L308.4 119.2L308.2 119.9L308.0 120.7L307.8 121.4L307.6 122.1L307.4 122.8L307.1 123.6L306.9 124.3L306.6 125.0L306.4 125.7L306.1 126.5L305.8 127.2L305.6 127.9L305.3 128.7L304.9 129.4L304.6 130.1L304.3 130.8L303.9 131.6L303.5 132.3L303.2 133.0L302.8 133.8L302.3 134.5L301.9 135.2L301.5 135.9L301.1 136.4L301.0 136.7L300.6 137.4L300.1 138.1L299.7 138.8L299.3 139.6L298.9 140.3L298.5 141.0L298.2 141.8L298.0 142.5L297.8 143.2L297.6 143.9L297.5 144.7L297.4 145.4L297.4 146.1L297.4 146.8L297.4 147.6L297.4 148.3L297.5 149.0L297.5 149.8L297.5 150.5L297.5 151.2L297.5 151.9L297.5 152.7L297.5 153.4ZM467.9 152.7L467.9 151.9L467.9 151.2L467.9 150.5L467.9 149.8L468.0 149.0L468.0 148.3L468.0 147.6L468.0 146.8L468.1 146.1L468.1 145.4L468.1 144.7L468.2 143.9L468.2 143.2L468.2 142.5L468.1 141.8L468.0 141.0L467.9 140.3L467.6 139.6L467.3 138.8L467.0 138.1L466.5 137.4L466.2 136.7L465.8 135.9L465.5 135.2L465.2 134.5L464.9 133.8L464.6 133.0L464.4 132.3L464.1 131.6L463.9 130.8L463.6 130.1L463.4 129.4L463.1 128.7L462.9 127.9L462.7 127.2L462.5 126.5L462.3 125.7L462.1 125.0L461.9 124.3L461.7 123.6L461.6 122.8L461.4 122.1L461.2 121.4L461.1 120.7L460.9 119.9L460.8 119.2L460.7 118.5L460.5 117.7L460.4 117.0L460.3 116.3L460.2 115.6L460.1 114.8L459.9 114.1L459.8 113.4L459.7 112.6L459.7 111.9L459.6 111.2L459.5 110.5L459.4 109.7L459.3 109.0L459.3 108.3L459.2 107.6L459.1 106.8L459.1 106.1L459.0 105.4L459.0 104.6L458.9 103.9L458.9 103.2L458.9 102.5L458.8 101.7L458.8 101.0L458.8 100.3L458.8 99.5L458.8 98.8L458.8 98.1L458.8 97.4L458.8 96.6L458.8 95.9L458.8 95.2L458.8 94.5L458.8 93.7L458.9 93.0L458.9 92.3L458.9 91.5L459.0 90.8L459.0 90.1L459.1 89.4L459.2 88.6L459.2 87.9L459.3 87.2L459.4 86.4L459.5 85.7L459.6 85.0L459.7 84.3L459.8 83.5L459.9 82.8L460.1 82.1L460.2 81.3L460.4 80.6L460.5 79.9L460.7 79.2L460.9 78.4L461.1 77.7L461.3 77.0L461.5 76.3L461.7 75.5L462.0 74.8L462.2 74.1L462.5 73.3L462.8 72.6L463.1 71.9L463.5 71.2L463.8 70.4L464.2 69.7L464.6 69.0L465.1 68.2L465.5 67.5L466.0 66.8L466.6 66.1L467.1 65.3L467.7 64.6L468.4 63.9L469.1 63.2L469.8 62.4L470.6 61.8L470.8 61.7L473.8 61.0L477.4 60.2L481.7 59.5L486.7 58.8L489.4 58.5L489.4 58.1L489.4 57.3L489.4 56.6L489.4 55.9L489.4 55.1L489.4 54.4L489.4 53.7L489.4 53.0L489.4 52.2L489.4 51.5L489.4 50.8L489.4 50.1L489.4 49.3L489.4 48.6L489.4 48.5L475.1 47.9L470.6 47.6L469.7 47.9L467.3 48.6L465.3 49.3L463.6 50.1L462.2 50.8L460.9 51.5L459.8 52.2L458.9 53.0L458.1 53.7L457.3 54.4L456.7 55.1L456.1 55.9L455.6 56.6L455.1 57.3L454.6 58.1L454.3 58.8L453.9 59.5L453.6 60.2L453.3 61.0L453.0 61.7L452.8 62.4L452.5 63.2L452.3 63.9L452.1 64.6L451.9 65.3L451.8 66.1L451.7 66.2L451.7 66.8L451.6 67.5L451.5 68.2L451.4 69.0L451.4 69.7L451.3 70.4L451.2 71.2L451.2 71.9L451.1 72.6L451.0 73.3L451.0 74.1L450.9 74.8L450.9 75.5L450.8 76.3L450.8 77.0L450.8 77.7L450.7 78.4L450.7 79.2L450.7 79.9L450.6 80.6L450.6 81.3L450.6 82.1L450.6 82.8L450.5 83.5L450.5 84.3L450.5 85.0L450.5 85.7L450.5 86.4L450.5 87.2L450.5 87.9L450.5 88.6L450.5 89.4L450.5 90.1L450.5 90.8L450.5 91.5L450.5 92.3L450.5 93.0L450.5 93.7L450.5 94.5L450.5 95.2L450.5 95.9L450.6 96.6L450.6 97.4L450.6 98.1L450.6 98.8L450.7 99.5L450.7 100.3L450.7 101.0L450.8 101.7L450.8 102.5L450.9 103.2L450.9 103.9L451.0 104.6L451.0 105.4L451.1 106.1L451.2 106.8L451.2 107.6L451.3 108.3L451.4 109.0L451.5 109.7L451.6 110.5L451.7 111.2L451.7 111.9L451.7 111.9L451.8 112.6L451.9 113.4L452.0 114.1L452.1 114.8L452.2 115.6L452.3 116.3L452.4 117.0L452.5 117.7L452.6 118.5L452.7 119.2L452.8 119.9L453.0 120.7L453.1 121.4L453.2 122.1L453.3 122.8L453.5 123.6L453.6 124.3L453.7 125.0L453.9 125.7L454.0 126.5L454.2 127.2L454.3 127.9L454.5 128.7L454.7 129.4L454.9 130.1L455.0 130.8L455.2 131.6L455.4 132.3L455.6 133.0L455.8 133.8L456.0 134.5L456.2 135.2L456.5 135.9L456.7 136.7L456.9 137.4L457.2 138.1L457.5 138.8L457.7 139.6L457.9 140.3L458.1 141.0L458.3 141.8L458.5 142.5L458.7 143.2L458.8 143.9L458.9 144.7L459.0 145.4L459.1 146.1L459.2 146.8L459.3 147.6L459.3 148.3L459.4 149.0L459.4 149.8L459.4 150.5L459.4 151.2L459.4 151.9L459.4 152.7L459.4 153.4L467.9 153.4Z" fill="#c6c6e6" stroke="#c6c6e6" stroke-width="0.3"/>
<path d="M320.0 153.4L338.8 153.4L357.6 153.4L376.4 153.4L395.3 153.4L414.1 153.4L429.7 153.4L429.5 152.7L429.0 151.9L428.0 151.2L426.4 150.5L425.0 149.8L423.7 149.0L422.6 148.3L421.7 147.6L421.0 146.8L420.5 146.1L420.2 145.4L419.9 144.7L419.6 143.9L419.2 143.2L418.7 142.5L418.2 141.8L417.6 141.0L417.0 140.3L416.2 139.6L414.7 138.8L414.1 138.6L409.3 138.1L406.6 137.4L405.4 136.7L404.8 135.9L403.4 135.2L401.7 134.5L399.9 133.8L397.9 133.0L395.9 132.3L395.3 132.1L389.2 131.6L381.4 130.8L376.4 130.4L373.3 130.8L368.9 131.6L364.7 132.3L360.6 133.0L357.6 133.5L356.4 133.8L353.1 134.5L350.4 135.2L348.2 135.9L346.3 136.7L344.8 137.4L343.4 138.1L341.1 138.8L338.8 139.3L338.1 138.8L337.3 138.1L336.5 137.4L335.8 136.7L335.2 135.9L334.6 135.2L334.2 134.5L333.7 133.8L333.3 133.0L333.0 132.3L332.7 131.6L332.4 130.8L332.1 130.1L331.8 129.4L331.6 128.7L331.4 127.9L331.2 127.2L331.0 126.5L330.8 125.7L330.7 125.0L330.5 124.3L330.4 123.6L330.2 122.8L330.1 122.1L330.0 121.4L329.9 120.7L329.8 119.9L329.7 119.2L329.6 118.5L329.5 117.7L329.4 117.0L329.3 116.3L329.2 115.6L329.1 114.8L329.1 114.1L329.0 113.4L328.9 112.6L328.8 111.9L328.8 111.2L328.7 110.5L328.7 109.7L328.6 109.0L328.5 108.3L328.5 107.6L328.4 106.8L328.4 106.1L328.3 105.4L328.3 104.6L328.2 103.9L328.2 103.2L328.1 102.5L328.1 101.7L328.0 101.0L328.0 100.3L327.9 99.5L327.9 98.8L327.9 98.1L327.8 97.4L327.8 96.6L327.7 95.9L327.7 95.2L327.6 94.5L327.6 93.7L327.6 93.0L327.5 92.3L327.5 91.5L327.5 90.8L327.4 90.1L327.4 89.4L327.4 88.6L327.3 87.9L327.3 87.2L327.3 86.4L327.2 85.7L327.2 85.0L327.1 84.3L327.1 83.5L327.1 82.8L327.0 82.1L327.0 81.3L327.0 80.6L326.9 79.9L326.9 79.2L326.9 78.4L326.8 77.7L326.8 77.0L326.8 76.3L326.8 75.5L326.7 74.8L326.7 74.1L326.7 73.3L326.6 72.6L326.6 71.9L326.6 71.2L326.5 70.4L326.5 69.7L326.4 69.0L326.4 68.2L326.4 67.5L326.3 66.8L326.3 66.1L326.3 65.3L326.2 64.6L326.2 63.9L326.2 63.2L326.1 62.4L326.1 61.7L326.0 61.0L326.0 60.2L326.0 59.5L325.9 58.8L325.9 58.1L325.8 57.3L325.8 56.6L325.8 55.9L325.7 55.1L325.7 54.4L325.6 53.7L325.6 53.0L325.5 52.2L325.5 51.5L325.4 50.8L325.4 50.1L325.3 49.3L325.2 48.6L325.2 47.9L325.1 47.1L325.1 46.4L325.0 45.7L324.9 45.0L324.9 44.2L324.8 43.5L324.7 42.8L324.6 42.0L324.6 41.3L324.5 40.6L324.4 39.9L324.3 39.1L324.2 38.4L324.1 37.7L324.0 37.0L323.8 36.2L323.7 35.5L323.6 34.8L323.4 34.0L323.2 33.3L323.1 32.6L322.9 31.9L322.7 31.1L322.5 30.4L322.2 29.7L322.0 28.9L321.8 28.2L321.5 27.5L321.2 26.8L321.0 26.0L320.8 25.3L320.6 24.6L320.5 23.9L320.4 23.1L320.3 22.4L320.0 22.4L301.1 22.4L282.3 22.4L282.3 23.1L282.3 23.9L282.3 24.6L282.3 25.3L282.3 26.0L282.3 26.8L282.3 27.5L282.3 28.2L282.3 28.9L282.3 29.7L282.3 30.4L282.3 31.1L282.3 31.9L282.3 32.6L282.3 33.3L282.3 34.0L282.3 34.8L282.3 35.5L282.3 36.2L282.3 37.0L282.3 37.7L282.3 38.4L282.3 39.1L282.3 39.9L282.3 40.6L282.3 41.3L282.3 42.0L282.3 42.8L282.3 43.5L282.3 44.2L282.3 45.0L282.3 45.7L282.3 46.4L282.3 47.1L282.3 47.2L282.9 47.1L290.4 46.4L296.3 45.7L301.1 45.0L302.9 45.7L304.5 46.4L305.8 47.1L307.0 47.9L308.1 48.6L309.1 49.3L309.9 50.1L310.7 50.8L311.4 51.5L312.0 52.2L312.6 53.0L313.1 53.7L313.6 54.4L314.0 55.1L314.4 55.9L314.8 56.6L315.2 57.3L315.5 58.1L315.8 58.8L316.1 59.5L316.3 60.2L316.6 61.0L316.8 61.7L317.0 62.4L317.2 63.2L317.4 63.9L317.5 64.6L317.7 65.3L317.9 66.1L318.0 66.8L318.1 67.5L318.3 68.2L318.4 69.0L318.5 69.7L318.6 70.4L318.7 71.2L318.8 71.9L318.8 72.6L318.9 73.3L319.0 74.1L319.1 74.8L319.1 75.5L319.2 76.3L319.2 77.0L319.3 77.7L319.3 78.4L319.4 79.2L319.4 79.9L319.4 80.6L319.5 81.3L319.5 82.1L319.5 82.8L319.5 83.5L319.5 84.3L319.6 85.0L319.6 85.7L319.6 86.4L319.6 87.2L319.6 87.9L319.6 88.6L319.6 89.4L319.6 90.1L319.6 90.8L319.6 91.5L319.6 92.3L319.5 93.0L319.5 93.7L319.5 94.5L319.5 95.2L319.5 95.9L319.4 96.6L319.4 97.4L319.4 98.1L319.3 98.8L319.3 99.5L319.3 100.3L319.2 101.0L319.2 101.7L319.1 102.5L319.1 103.2L319.0 103.9L319.0 104.6L318.9 105.4L318.9 106.1L318.8 106.8L318.7 107.6L318.7 108.3L318.6 109.0L318.5 109.7L318.5 110.5L318.4 111.2L318.3 111.9L318.2 112.6L318.1 113.4L318.0 114.1L318.0 114.8L317.9 115.6L317.8 116.3L317.7 117.0L317.5 117.7L317.4 118.5L317.3 119.2L317.2 119.9L317.1 120.7L316.9 121.4L316.8 122.1L316.7 122.8L316.5 123.6L316.4 124.3L316.2 125.0L316.1 125.7L315.9 126.5L315.7 127.2L315.5 127.9L315.3 128.7L315.1 129.4L314.9 130.1L314.7 130.8L314.5 131.6L314.3 132.3L314.1 133.0L313.8 133.8L313.6 134.5L313.3 135.2L313.0 135.9L312.7 136.7L312.4 137.4L312.1 138.1L311.8 138.8L311.4 139.6L311.0 140.3L310.6 141.0L310.2 141.8L309.8 142.5L309.5 143.2L309.2 143.9L308.9 144.7L308.7 145.4L308.5 146.1L308.4 146.8L308.3 147.6L308.2 148.3L308.1 149.0L308.1 149.8L308.0 150.5L307.9 151.2L307.9 151.9L307.9 152.7L307.9 153.4ZM451.7 153.4L459.4 153.4L459.4 152.7L459.4 151.9L459.4 151.2L459.4 150.5L459.4 149.8L459.4 149.0L459.3 148.3L459.3 147.6L459.2 146.8L459.1 146.1L459.0 145.4L458.9 144.7L458.8 143.9L458.7 143.2L458.5 142.5L458.3 141.8L458.1 141.0L457.9 140.3L457.7 139.6L457.5 138.8L457.2 138.1L456.9 137.4L456.7 136.7L456.5 135.9L456.2 135.2L456.0 134.5L455.8 133.8L455.6 133.0L455.4 132.3L455.2 131.6L455.0 130.8L454.9 130.1L454.7 129.4L454.5 128.7L454.3 127.9L454.2 127.2L454.0 126.5L453.9 125.7L453.7 125.0L453.6 124.3L453.5 123.6L453.3 122.8L453.2 122.1L453.1 121.4L453.0 120.7L452.8 119.9L452.7 119.2L452.6 118.5L452.5 117.7L452.4 117.0L452.3 116.3L452.2 115.6L452.1 114.8L452.0 114.1L451.9 113.4L451.8 112.6L451.7 111.9L451.7 111.9L451.7 111.2L451.6 110.5L451.5 109.7L451.4 109.0L451.3 108.3L451.2 107.6L451.2 106.8L451.1 106.1L451.0 105.4L451.0 104.6L450.9 103.9L450.9 103.2L450.8 102.5L450.8 101.7L450.7 101.0L450.7 100.3L450.7 99.5L450.6 98.8L450.6 98.1L450.6 97.4L450.6 96.6L450.5 95.9L450.5 95.2L450.5 94.5L450.5 93.7L450.5 93.0L450.5 92.3L450.5 91.5L450.5 90.8L450.5 90.1L450.5 89.4L450.5 88.6L450.5 87.9L450.5 87.2L450.5 86.4L450.5 85.7L450.5 85.0L450.5 84.3L450.5 83.5L450.6 82.8L450.6 82.1L450.6 81.3L450.6 80.6L450.7 79.9L450.7 79.2L450.7 78.4L450.8 77.7L450.8 77.0L450.8 76.3L450.9 75.5L450.9 74.8L451.0 74.1L451.0 73.3L451.1 72.6L451.2 71.9L451.2 71.2L451.3 70.4L451.4 69.7L451.4 69.0L451.5 68.2L451.6 67.5L451.7 66.8L451.7 66.2L451.8 66.1L451.9 65.3L452.1 64.6L452.3 63.9L452.5 63.2L452.8 62.4L453.0 61.7L453.3 61.0L453.6 60.2L453.9 59.5L454.3 58.8L454.6 58.1L455.1 57.3L455.6 56.6L456.1 55.9L456.7 55.1L457.3 54.4L458.1 53.7L458.9 53.0L459.8 52.2L460.9 51.5L462.2 50.8L463.6 50.1L465.3 49.3L467.3 48.6L469.7 47.9L470.6 47.6L475.1 47.9L489.4 48.5L489.4 47.9L489.4 47.1L489.4 46.4L489.4 45.7L489.4 45.0L489.4 44.2L489.4 43.5L489.4 42.8L489.4 42.0L489.4 41.3L489.4 40.6L489.4 39.9L489.4 39.1L489.4 38.4L489.4 37.7L489.4 37.0L489.4 36.2L489.4 35.5L489.4 34.8L489.4 34.0L489.4 33.3L489.4 32.6L489.4 31.9L489.4 31.1L489.4 30.4L489.4 29.7L489.4 28.9L489.4 28.2L489.4 27.5L489.4 26.8L489.4 26.0L489.4 25.3L489.4 24.6L489.4 23.9L489.4 23.1L489.4 22.4L470.6 22.4L451.7 22.4L450.5 22.4L450.5 23.1L450.5 23.9L450.5 24.6L450.4 25.3L450.2 26.0L449.9 26.8L449.5 27.5L449.1 28.2L448.7 28.9L448.2 29.7L447.8 30.4L447.3 31.1L446.9 31.9L446.5 32.6L446.1 33.3L445.8 34.0L445.6 34.8L445.4 35.5L445.3 36.2L445.1 37.0L445.0 37.7L444.9 38.4L444.8 39.1L444.7 39.9L444.6 40.6L444.6 41.3L444.5 42.0L444.4 42.8L444.4 43.5L444.3 44.2L444.2 45.0L444.2 45.7L444.1 46.4L444.1 47.1L444.1 47.9L444.0 48.6L444.0 49.3L443.9 50.1L443.9 50.8L443.9 51.5L443.8 52.2L443.8 53.0L443.8 53.7L443.7 54.4L443.7 55.1L443.7 55.9L443.7 56.6L443.6 57.3L443.6 58.1L443.6 58.8L443.6 59.5L443.5 60.2L443.5 61.0L443.5 61.7L443.5 62.4L443.5 63.2L443.4 63.9L443.4 64.6L443.4 65.3L443.4 66.1L443.4 66.8L443.4 67.5L443.3 68.2L443.3 69.0L443.3 69.7L443.3 70.4L443.3 71.2L443.2 71.9L443.2 72.6L443.2 73.3L443.2 74.1L443.2 74.8L443.2 75.5L443.2 76.3L443.1 77.0L443.1 77.7L443.1 78.4L443.1 79.2L443.1 79.9L443.1 80.6L443.0 81.3L443.0 82.1L443.0 82.8L443.0 83.5L443.0 84.3L443.0 85.0L443.0 85.7L442.9 86.4L442.9 87.2L442.9 87.9L442.9 88.6L442.9 89.4L442.9 90.1L442.8 90.8L442.8 91.5L442.8 92.3L442.8 93.0L442.8 93.7L442.8 94.5L442.7 95.2L442.7 95.9L442.7 96.6L442.7 97.4L442.7 98.1L442.7 98.8L442.6 99.5L442.6 100.3L442.6 101.0L442.6 101.7L442.6 102.5L442.6 103.2L442.5 103.9L442.5 104.6L442.5 105.4L442.5 106.1L442.5 106.8L442.4 107.6L442.4 108.3L442.4 109.0L442.4 109.7L442.3 110.5L442.3 111.2L442.3 111.9L442.3 112.6L442.2 113.4L442.2 114.1L442.2 114.8L442.2 115.6L442.1 116.3L442.1 117.0L442.1 117.7L442.0 118.5L442.0 119.2L442.0 119.9L441.9 120.7L441.9 121.4L441.9 122.1L441.8 122.8L441.8 123.6L441.8 124.3L441.7 125.0L441.7 125.7L441.6 126.5L441.6 127.2L441.5 127.9L441.5 128.7L441.4 129.4L441.3 130.1L441.3 130.8L441.2 131.6L441.1 132.3L441.1 133.0L441.0 133.8L440.9 134.5L440.8 135.2L440.7 135.9L440.6 136.7L440.5 137.4L440.3 138.1L440.2 138.8L440.0 139.6L439.9 140.3L439.7 141.0L439.5 141.8L439.3 142.5L439.2 143.2L439.0 143.9L438.8 144.7L438.5 145.4L438.1 146.1L437.7 146.8L437.5 147.6L437.2 148.3L436.8 149.0L436.2 149.8L435.5 150.5L434.8 151.2L434.4 151.9L434.2 152.7L434.1 153.4Z" fill="#ecebf6" stroke="#ecebf6" stroke-width="0.3"/>
<path d="M432.9 153.4L434.1 153.4L434.2 152.7L434.4 151.9L434.8 151.2L435.5 150.5L436.2 149.8L436.8 149.0L437.2 148.3L437.5 147.6L437.7 146.8L438.1 146.1L438.5 145.4L438.8 144.7L439.0 143.9L439.2 143.2L439.3 142.5L439.5 141.8L439.7 141.0L439.9 140.3L440.0 139.6L440.2 138.8L440.3 138.1L440.5 137.4L440.6 136.7L440.7 135.9L440.8 135.2L440.9 134.5L441.0 133.8L441.1 133.0L441.1 132.3L441.2 131.6L441.3 130.8L441.3 130.1L441.4 129.4L441.5 128.7L441.5 127.9L441.6 127.2L441.6 126.5L441.7 125.7L441.7 125.0L441.8 124.3L441.8 123.6L441.8 122.8L441.9 122.1L441.9 121.4L441.9 120.7L442.0 119.9L442.0 119.2L442.0 118.5L442.1 117.7L442.1 117.0L442.1 116.3L442.2 115.6L442.2 114.8L442.2 114.1L442.2 113.4L442.3 112.6L442.3 111.9L442.3 111.2L442.3 110.5L442.4 109.7L442.4 109.0L442.4 108.3L442.4 107.6L442.5 106.8L442.5 106.1L442.5 105.4L442.5 104.6L442.5 103.9L442.6 103.2L442.6 102.5L442.6 101.7L442.6 101.0L442.6 100.3L442.6 99.5L442.7 98.8L442.7 98.1L442.7 97.4L442.7 96.6L442.7 95.9L442.7 95.2L442.8 94.5L442.8 93.7L442.8 93.0L442.8 92.3L442.8 91.5L442.8 90.8L442.9 90.1L442.9 89.4L442.9 88.6L442.9 87.9L442.9 87.2L442.9 86.4L443.0 85.7L443.0 85.0L443.0 84.3L443.0 83.5L443.0 82.8L443.0 82.1L443.0 81.3L443.1 80.6L443.1 79.9L443.1 79.2L443.1 78.4L443.1 77.7L443.1 77.0L443.2 76.3L443.2 75.5L443.2 74.8L443.2 74.1L443.2 73.3L443.2 72.6L443.2 71.9L443.3 71.2L443.3 70.4L443.3 69.7L443.3 69.0L443.3 68.2L443.4 67.5L443.4 66.8L443.4 66.1L443.4 65.3L443.4 64.6L443.4 63.9L443.5 63.2L443.5 62.4L443.5 61.7L443.5 61.0L443.5 60.2L443.6 59.5L443.6 58.8L443.6 58.1L443.6 57.3L443.7 56.6L443.7 55.9L443.7 55.1L443.7 54.4L443.8 53.7L443.8 53.0L443.8 52.2L443.9 51.5L443.9 50.8L443.9 50.1L444.0 49.3L444.0 48.6L444.1 47.9L444.1 47.1L444.1 46.4L444.2 45.7L444.2 45.0L444.3 44.2L444.4 43.5L444.4 42.8L444.5 42.0L444.6 41.3L444.6 40.6L444.7 39.9L444.8 39.1L444.9 38.4L445.0 37.7L445.1 37.0L445.3 36.2L445.4 35.5L445.6 34.8L445.8 34.0L446.1 33.3L446.5 32.6L446.9 31.9L447.3 31.1L447.8 30.4L448.2 29.7L448.7 28.9L449.1 28.2L449.5 27.5L449.9 26.8L450.2 26.0L450.4 25.3L450.5 24.6L450.5 23.9L450.5 23.1L450.5 22.4L432.9 22.4L429.4 22.4L429.4 23.1L429.4 23.9L429.4 24.6L429.4 25.3L429.4 26.0L429.4 26.8L429.5 27.5L429.5 28.2L429.5 28.9L429.6 29.7L429.6 30.4L429.7 31.1L429.8 31.9L429.8 32.6L429.9 33.3L430.0 34.0L430.1 34.8L430.2 35.5L430.3 36.2L430.5 37.0L430.6 37.7L430.7 38.4L430.9 39.1L431.0 39.9L431.1 40.6L431.3 41.3L431.4 42.0L431.5 42.8L431.7 43.5L431.8 44.2L431.9 45.0L432.1 45.7L432.2 46.4L432.3 47.1L432.4 47.9L432.5 48.6L432.7 49.3L432.8 50.1L432.9 50.8L432.9 50.9L433.0 51.5L433.2 52.2L433.4 53.0L433.5 53.7L433.6 54.4L433.8 55.1L433.9 55.9L434.0 56.6L434.1 57.3L434.2 58.1L434.3 58.8L434.4 59.5L434.5 60.2L434.6 61.0L434.6 61.7L434.7 62.4L434.8 63.2L434.8 63.9L434.9 64.6L435.0 65.3L435.0 66.1L435.1 66.8L435.1 67.5L435.2 68.2L435.2 69.0L435.2 69.7L435.3 70.4L435.3 71.2L435.3 71.9L435.4 72.6L435.4 73.3L435.4 74.1L435.4 74.8L435.4 75.5L435.5 76.3L435.5 77.0L435.5 77.7L435.5 78.4L435.5 79.2L435.5 79.9L435.5 80.6L435.5 81.3L435.5 82.1L435.5 82.8L435.5 83.5L435.4 84.3L435.4 85.0L435.4 85.7L435.4 86.4L435.4 87.2L435.4 87.9L435.3 88.6L435.3 89.4L435.3 90.1L435.2 90.8L435.2 91.5L435.2 92.3L435.1 93.0L435.1 93.7L435.0 94.5L435.0 95.2L434.9 95.9L434.9 96.6L434.8 97.4L434.8 98.1L434.7 98.8L434.6 99.5L434.6 100.3L434.5 101.0L434.4 101.7L434.3 102.5L434.2 103.2L434.1 103.9L434.1 104.6L434.0 105.4L433.9 106.1L433.7 106.8L433.6 107.6L433.5 108.3L433.4 109.0L433.3 109.7L433.1 110.5L433.0 111.2L432.9 111.6L432.8 111.9L432.4 112.6L432.0 113.4L431.6 114.1L431.1 114.8L430.5 115.6L429.9 116.3L429.2 117.0L428.4 117.7L427.5 118.5L426.5 119.2L425.3 119.9L423.9 120.7L422.2 121.4L420.2 122.1L417.8 122.8L414.7 123.6L414.1 123.7L413.4 123.6L409.6 122.8L405.3 122.1L400.3 121.4L395.3 120.7L394.2 120.7L385.3 119.9L376.4 119.2L357.6 119.4L356.6 119.2L353.9 118.5L351.6 117.7L349.6 117.0L347.9 116.3L346.5 115.6L345.2 114.8L344.1 114.1L343.1 113.4L342.2 112.6L341.4 111.9L340.7 111.2L340.1 110.5L339.5 109.7L339.0 109.0L338.8 108.7L338.7 108.3L338.4 107.6L338.2 106.8L338.0 106.1L337.9 105.4L337.7 104.6L337.5 103.9L337.3 103.2L337.2 102.5L337.0 101.7L336.9 101.0L336.7 100.3L336.6 99.5L336.5 98.8L336.3 98.1L336.2 97.4L336.1 96.6L336.0 95.9L335.9 95.2L335.8 94.5L335.7 93.7L335.6 93.0L335.5 92.3L335.4 91.5L335.3 90.8L335.2 90.1L335.2 89.4L335.1 88.6L335.0 87.9L334.9 87.2L334.9 86.4L334.8 85.7L334.7 85.0L334.7 84.3L334.6 83.5L334.6 82.8L334.5 82.1L334.5 81.3L334.4 80.6L334.4 79.9L334.3 79.2L334.3 78.4L334.2 77.7L334.2 77.0L334.2 76.3L334.1 75.5L334.1 74.8L334.1 74.1L334.1 73.3L334.0 72.6L334.0 71.9L334.0 71.2L334.0 70.4L334.0 69.7L333.9 69.0L333.9 68.2L333.9 67.5L333.9 66.8L333.9 66.1L333.9 65.3L333.9 64.6L333.9 63.9L333.9 63.2L333.9 62.4L333.9 61.7L333.9 61.0L333.9 60.2L334.0 59.5L334.0 58.8L334.0 58.1L334.0 57.3L334.0 56.6L334.1 55.9L334.1 55.1L334.1 54.4L334.1 53.7L334.2 53.0L334.2 52.2L334.3 51.5L334.3 50.8L334.3 50.1L334.4 49.3L334.4 48.6L334.5 47.9L334.6 47.1L334.6 46.4L334.7 45.7L334.7 45.0L334.8 44.2L334.9 43.5L335.0 42.8L335.0 42.0L335.1 41.3L335.2 40.6L335.3 39.9L335.4 39.1L335.4 38.4L335.5 37.7L335.6 37.0L335.7 36.2L335.7 35.5L335.8 34.8L335.8 34.0L335.8 33.3L335.7 32.6L335.6 31.9L335.4 31.1L335.3 30.4L335.2 29.7L335.1 28.9L335.0 28.2L334.9 27.5L334.7 26.8L334.6 26.0L334.5 25.3L334.5 24.6L334.4 23.9L334.4 23.1L334.4 22.4L320.3 22.4L320.4 23.1L320.5 23.9L320.6 24.6L320.8 25.3L321.0 26.0L321.2 26.8L321.5 27.5L321.8 28.2L322.0 28.9L322.2 29.7L322.5 30.4L322.7 31.1L322.9 31.9L323.1 32.6L323.2 33.3L323.4 34.0L323.6 34.8L323.7 35.5L323.8 36.2L324.0 37.0L324.1 37.7L324.2 38.4L324.3 39.1L324.4 39.9L324.5 40.6L324.6 41.3L324.6 42.0L324.7 42.8L324.8 43.5L324.9 44.2L324.9 45.0L325.0 45.7L325.1 46.4L325.1 47.1L325.2 47.9L325.2 48.6L325.3 49.3L325.4 50.1L325.4 50.8L325.5 51.5L325.5 52.2L325.6 53.0L325.6 53.7L325.7 54.4L325.7 55.1L325.8 55.9L325.8 56.6L325.8 57.3L325.9 58.1L325.9 58.8L326.0 59.5L326.0 60.2L326.0 61.0L326.1 61.7L326.1 62.4L326.2 63.2L326.2 63.9L326.2 64.6L326.3 65.3L326.3 66.1L326.3 66.8L326.4 67.5L326.4 68.2L326.4 69.0L326.5 69.7L326.5 70.4L326.6 71.2L326.6 71.9L326.6 72.6L326.7 73.3L326.7 74.1L326.7 74.8L326.8 75.5L326.8 76.3L326.8 77.0L326.8 77.7L326.9 78.4L326.9 79.2L326.9 79.9L327.0 80.6L327.0 81.3L327.0 82.1L327.1 82.8L327.1 83.5L327.1 84.3L327.2 85.0L327.2 85.7L327.3 86.4L327.3 87.2L327.3 87.9L327.4 88.6L327.4 89.4L327.4 90.1L327.5 90.8L327.5 91.5L327.5 92.3L327.6 93.0L327.6 93.7L327.6 94.5L327.7 95.2L327.7 95.9L327.8 96.6L327.8 97.4L327.9 98.1L327.9 98.8L327.9 99.5L328.0 100.3L328.0 101.0L328.1 101.7L328.1 102.5L328.2 103.2L328.2 103.9L328.3 104.6L328.3 105.4L328.4 106.1L328.4 106.8L328.5 107.6L328.5 108.3L328.6 109.0L328.7 109.7L328.7 110.5L328.8 111.2L328.8 111.9L328.9 112.6L329.0 113.4L329.1 114.1L329.1 114.8L329.2 115.6L329.3 116.3L329.4 117.0L329.5 117.7L329.6 118.5L329.7 119.2L329.8 119.9L329.9 120.7L330.0 121.4L330.1 122.1L330.2 122.8L330.4 123.6L330.5 124.3L330.7 125.0L330.8 125.7L331.0 126.5L331.2 127.2L331.4 127.9L331.6 128.7L331.8 129.4L332.1 130.1L332.4 130.8L332.7 131.6L333.0 132.3L333.3 133.0L333.7 133.8L334.2 134.5L334.6 135.2L335.2 135.9L335.8 136.7L336.5 137.4L337.3 138.1L338.1 138.8L338.8 139.3L341.1 138.8L343.4 138.1L344.8 137.4L346.3 136.7L348.2 135.9L350.4 135.2L353.1 134.5L356.4 133.8L357.6 133.5L360.6 133.0L364.7 132.3L368.9 131.6L373.3 130.8L376.4 130.4L381.4 130.8L389.2 131.6L395.3 132.1L395.9 132.3L397.9 133.0L399.9 133.8L401.7 134.5L403.4 135.2L404.8 135.9L405.4 136.7L406.6 137.4L409.3 138.1L414.1 138.6L414.7 138.8L416.2 139.6L417.0 140.3L417.6 141.0L418.2 141.8L418.7 142.5L419.2 143.2L419.6 143.9L419.9 144.7L420.2 145.4L420.5 146.1L421.0 146.8L421.7 147.6L422.6 148.3L423.7 149.0L425.0 149.8L426.4 150.5L428.0 151.2L429.0 151.9L429.5 152.7L429.7 153.4Z" fill="#fdeaea" stroke="#fdeaea" stroke-width="0.3"/>
<path d="M414.1 123.7L414.7 123.6L417.8 122.8L420.2 122.1L422.2 121.4L423.9 120.7L425.3 119.9L426.5 119.2L427.5 118.5L428.4 117.7L429.2 117.0L429.9 116.3L430.5 115.6L431.1 114.8L431.6 114.1L432.0 113.4L432.4 112.6L432.8 111.9L432.9 111.6L433.0 111.2L433.1 110.5L433.3 109.7L433.4 109.0L433.5 108.3L433.6 107.6L433.7 106.8L433.9 106.1L434.0 105.4L434.1 104.6L434.1 103.9L434.2 103.2L434.3 102.5L434.4 101.7L434.5 101.0L434.6 100.3L434.6 99.5L434.7 98.8L434.8 98.1L434.8 97.4L434.9 96.6L434.9 95.9L435.0 95.2L435.0 94.5L435.1 93.7L435.1 93.0L435.2 92.3L435.2 91.5L435.2 90.8L435.3 90.1L435.3 89.4L435.3 88.6L435.4 87.9L435.4 87.2L435.4 86.4L435.4 85.7L435.4 85.0L435.4 84.3L435.5 83.5L435.5 82.8L435.5 82.1L435.5 81.3L435.5 80.6L435.5 79.9L435.5 79.2L435.5 78.4L435.5 77.7L435.5 77.0L435.5 76.3L435.4 75.5L435.4 74.8L435.4 74.1L435.4 73.3L435.4 72.6L435.3 71.9L435.3 71.2L435.3 70.4L435.2 69.7L435.2 69.0L435.2 68.2L435.1 67.5L435.1 66.8L435.0 66.1L435.0 65.3L434.9 64.6L434.8 63.9L434.8 63.2L434.7 62.4L434.6 61.7L434.6 61.0L434.5 60.2L434.4 59.5L434.3 58.8L434.2 58.1L434.1 57.3L434.0 56.6L433.9 55.9L433.8 55.1L433.6 54.4L433.5 53.7L433.4 53.0L433.2 52.2L433.0 51.5L432.9 50.9L432.9 50.8L432.8 50.1L432.7 49.3L432.5 48.6L432.4 47.9L432.3 47.1L432.2 46.4L432.1 45.7L431.9 45.0L431.8 44.2L431.7 43.5L431.5 42.8L431.4 42.0L431.3 41.3L431.1 40.6L431.0 39.9L430.9 39.1L430.7 38.4L430.6 37.7L430.5 37.0L430.3 36.2L430.2 35.5L430.1 34.8L430.0 34.0L429.9 33.3L429.8 32.6L429.8 31.9L429.7 31.1L429.6 30.4L429.6 29.7L429.5 28.9L429.5 28.2L429.5 27.5L429.4 26.8L429.4 26.0L429.4 25.3L429.4 24.6L429.4 23.9L429.4 23.1L429.4 22.4L423.1 22.4L423.1 23.1L423.1 23.9L423.1 24.6L423.1 25.3L423.1 26.0L423.1 26.8L423.1 27.5L423.1 28.2L423.1 28.9L423.1 29.7L423.1 30.4L423.1 31.1L423.0 31.9L423.0 32.6L423.1 33.3L423.1 34.0L423.1 34.8L423.1 35.5L423.1 36.2L423.2 37.0L423.3 37.7L423.4 38.4L423.5 39.1L423.7 39.9L423.8 40.6L423.9 41.3L424.1 42.0L424.2 42.8L424.3 43.5L424.5 44.2L424.6 45.0L424.8 45.7L424.9 46.4L425.0 47.1L425.2 47.9L425.3 48.6L425.4 49.3L425.5 50.1L425.7 50.8L425.8 51.5L425.9 52.2L426.0 53.0L426.1 53.7L426.2 54.4L426.3 55.1L426.4 55.9L426.5 56.6L426.6 57.3L426.7 58.1L426.7 58.8L426.8 59.5L426.9 60.2L427.0 61.0L427.0 61.7L427.1 62.4L427.1 63.2L427.2 63.9L427.3 64.6L427.3 65.3L427.3 66.1L427.4 66.8L427.4 67.5L427.5 68.2L427.5 69.0L427.5 69.7L427.5 70.4L427.5 71.2L427.6 71.9L427.6 72.6L427.6 73.3L427.6 74.1L427.6 74.8L427.5 75.5L427.5 76.3L427.5 77.0L427.5 77.7L427.5 78.4L427.4 79.2L427.4 79.9L427.3 80.6L427.3 81.3L427.2 82.1L427.2 82.8L427.1 83.5L427.0 84.3L426.9 85.0L426.8 85.7L426.7 86.4L426.6 87.2L426.5 87.9L426.4 88.6L426.2 89.4L426.1 90.1L425.9 90.8L425.8 91.5L425.6 92.3L425.4 93.0L425.2 93.7L425.0 94.5L424.8 95.2L424.5 95.9L424.3 96.6L424.0 97.4L423.7 98.1L423.4 98.8L423.1 99.5L422.7 100.3L422.3 101.0L421.9 101.7L421.5 102.5L421.0 103.2L420.5 103.9L420.0 104.6L419.4 105.4L418.8 106.1L418.2 106.8L417.5 107.6L416.7 108.3L415.9 109.0L415.0 109.7L414.1 110.4L413.3 110.5L399.0 111.2L395.3 111.3L393.5 111.2L383.4 110.5L376.4 110.0L374.4 109.7L368.7 109.0L363.9 108.3L359.8 107.6L357.6 107.1L357.2 106.8L356.1 106.1L355.1 105.4L354.2 104.6L353.4 103.9L352.6 103.2L351.9 102.5L351.2 101.7L350.6 101.0L350.0 100.3L349.4 99.5L348.9 98.8L348.4 98.1L348.0 97.4L347.5 96.6L347.1 95.9L346.7 95.2L346.4 94.5L346.0 93.7L345.7 93.0L345.4 92.3L345.1 91.5L344.9 90.8L344.6 90.1L344.4 89.4L344.2 88.6L344.0 87.9L343.8 87.2L343.6 86.4L343.4 85.7L343.2 85.0L343.1 84.3L342.9 83.5L342.8 82.8L342.7 82.1L342.6 81.3L342.4 80.6L342.3 79.9L342.2 79.2L342.2 78.4L342.1 77.7L342.0 77.0L341.9 76.3L341.9 75.5L341.8 74.8L341.7 74.1L341.7 73.3L341.6 72.6L341.6 71.9L341.6 71.2L341.5 70.4L341.5 69.7L341.5 69.0L341.5 68.2L341.5 67.5L341.5 66.8L341.5 66.1L341.5 65.3L341.5 64.6L341.5 63.9L341.5 63.2L341.5 62.4L341.5 61.7L341.5 61.0L341.6 60.2L341.6 59.5L341.6 58.8L341.7 58.1L341.7 57.3L341.7 56.6L341.8 55.9L341.8 55.1L341.9 54.4L341.9 53.7L342.0 53.0L342.0 52.2L342.1 51.5L342.2 50.8L342.2 50.1L342.3 49.3L342.4 48.6L342.4 47.9L342.5 47.1L342.6 46.4L342.6 45.7L342.7 45.0L342.8 44.2L342.8 43.5L342.9 42.8L343.0 42.0L343.0 41.3L343.1 40.6L343.1 39.9L343.2 39.1L343.2 38.4L343.2 37.7L343.2 37.0L343.2 36.2L343.1 35.5L343.1 34.8L343.1 34.0L343.1 33.3L343.0 32.6L343.0 31.9L342.9 31.1L342.9 30.4L342.8 29.7L342.8 28.9L342.7 28.2L342.7 27.5L342.7 26.8L342.6 26.0L342.6 25.3L342.6 24.6L342.6 23.9L342.6 23.1L342.6 22.4L338.8 22.4L334.4 22.4L334.4 23.1L334.4 23.9L334.5 24.6L334.5 25.3L334.6 26.0L334.7 26.8L334.9 27.5L335.0 28.2L335.1 28.9L335.2 29.7L335.3 30.4L335.4 31.1L335.6 31.9L335.7 32.6L335.8 33.3L335.8 34.0L335.8 34.8L335.7 35.5L335.7 36.2L335.6 37.0L335.5 37.7L335.4 38.4L335.4 39.1L335.3 39.9L335.2 40.6L335.1 41.3L335.0 42.0L335.0 42.8L334.9 43.5L334.8 44.2L334.7 45.0L334.7 45.7L334.6 46.4L334.6 47.1L334.5 47.9L334.4 48.6L334.4 49.3L334.3 50.1L334.3 50.8L334.3 51.5L334.2 52.2L334.2 53.0L334.1 53.7L334.1 54.4L334.1 55.1L334.1 55.9L334.0 56.6L334.0 57.3L334.0 58.1L334.0 58.8L334.0 59.5L333.9 60.2L333.9 61.0L333.9 61.7L333.9 62.4L333.9 63.2L333.9 63.9L333.9 64.6L333.9 65.3L333.9 66.1L333.9 66.8L333.9 67.5L333.9 68.2L333.9 69.0L334.0 69.7L334.0 70.4L334.0 71.2L334.0 71.9L334.0 72.6L334.1 73.3L334.1 74.1L334.1 74.8L334.1 75.5L334.2 76.3L334.2 77.0L334.2 77.7L334.3 78.4L334.3 79.2L334.4 79.9L334.4 80.6L334.5 81.3L334.5 82.1L334.6 82.8L334.6 83.5L334.7 84.3L334.7 85.0L334.8 85.7L334.9 86.4L334.9 87.2L335.0 87.9L335.1 88.6L335.2 89.4L335.2 90.1L335.3 90.8L335.4 91.5L335.5 92.3L335.6 93.0L335.7 93.7L335.8 94.5L335.9 95.2L336.0 95.9L336.1 96.6L336.2 97.4L336.3 98.1L336.5 98.8L336.6 99.5L336.7 100.3L336.9 101.0L337.0 101.7L337.2 102.5L337.3 103.2L337.5 103.9L337.7 104.6L337.9 105.4L338.0 106.1L338.2 106.8L338.4 107.6L338.7 108.3L338.8 108.7L339.0 109.0L339.5 109.7L340.1 110.5L340.7 111.2L341.4 111.9L342.2 112.6L343.1 113.4L344.1 114.1L345.2 114.8L346.5 115.6L347.9 116.3L349.6 117.0L351.6 117.7L353.9 118.5L356.6 119.2L357.6 119.4L376.4 119.2L385.3 119.9L394.2 120.7L395.3 120.7L400.3 121.4L405.3 122.1L409.6 122.8L413.4 123.6Z" fill="#f8c6c8" stroke="#f8c6c8" stroke-width="0.3"/>
<path d="M395.3 111.3L399.0 111.2L413.3 110.5L414.1 110.4L415.0 109.7L415.9 109.0L416.7 108.3L417.5 107.6L418.2 106.8L418.8 106.1L419.4 105.4L420.0 104.6L420.5 103.9L421.0 103.2L421.5 102.5L421.9 101.7L422.3 101.0L422.7 100.3L423.1 99.5L423.4 98.8L423.7 98.1L424.0 97.4L424.3 96.6L424.5 95.9L424.8 95.2L425.0 94.5L425.2 93.7L425.4 93.0L425.6 92.3L425.8 91.5L425.9 90.8L426.1 90.1L426.2 89.4L426.4 88.6L426.5 87.9L426.6 87.2L426.7 86.4L426.8 85.7L426.9 85.0L427.0 84.3L427.1 83.5L427.2 82.8L427.2 82.1L427.3 81.3L427.3 80.6L427.4 79.9L427.4 79.2L427.5 78.4L427.5 77.7L427.5 77.0L427.5 76.3L427.5 75.5L427.6 74.8L427.6 74.1L427.6 73.3L427.6 72.6L427.6 71.9L427.5 71.2L427.5 70.4L427.5 69.7L427.5 69.0L427.5 68.2L427.4 67.5L427.4 66.8L427.3 66.1L427.3 65.3L427.3 64.6L427.2 63.9L427.1 63.2L427.1 62.4L427.0 61.7L427.0 61.0L426.9 60.2L426.8 59.5L426.7 58.8L426.7 58.1L426.6 57.3L426.5 56.6L426.4 55.9L426.3 55.1L426.2 54.4L426.1 53.7L426.0 53.0L425.9 52.2L425.8 51.5L425.7 50.8L425.5 50.1L425.4 49.3L425.3 48.6L425.2 47.9L425.0 47.1L424.9 46.4L424.8 45.7L424.6 45.0L424.5 44.2L424.3 43.5L424.2 42.8L424.1 42.0L423.9 41.3L423.8 40.6L423.7 39.9L423.5 39.1L423.4 38.4L423.3 37.7L423.2 37.0L423.1 36.2L423.1 35.5L423.1 34.8L423.1 34.0L423.1 33.3L423.0 32.6L423.0 31.9L423.1 31.1L423.1 30.4L423.1 29.7L423.1 28.9L423.1 28.2L423.1 27.5L423.1 26.8L423.1 26.0L423.1 25.3L423.1 24.6L423.1 23.9L423.1 23.1L423.1 22.4L416.8 22.4L416.8 23.1L416.8 23.9L416.8 24.6L416.8 25.3L416.8 26.0L416.8 26.8L416.7 27.5L416.7 28.2L416.7 28.9L416.6 29.7L416.5 30.4L416.4 31.1L416.3 31.9L416.2 32.6L416.2 33.3L416.1 34.0L416.0 34.8L416.0 35.5L415.9 36.2L415.9 37.0L416.0 37.7L416.1 38.4L416.2 39.1L416.3 39.9L416.5 40.6L416.6 41.3L416.7 42.0L416.9 42.8L417.0 43.5L417.2 44.2L417.3 45.0L417.5 45.7L417.6 46.4L417.8 47.1L417.9 47.9L418.0 48.6L418.2 49.3L418.3 50.1L418.4 50.8L418.5 51.5L418.6 52.2L418.8 53.0L418.9 53.7L419.0 54.4L419.1 55.1L419.2 55.9L419.2 56.6L419.3 57.3L419.4 58.1L419.5 58.8L419.5 59.5L419.6 60.2L419.7 61.0L419.7 61.7L419.8 62.4L419.8 63.2L419.8 63.9L419.9 64.6L419.9 65.3L419.9 66.1L419.9 66.8L419.9 67.5L419.9 68.2L419.9 69.0L419.9 69.7L419.9 70.4L419.9 71.2L419.8 71.9L419.8 72.6L419.8 73.3L419.7 74.1L419.6 74.8L419.6 75.5L419.5 76.3L419.4 77.0L419.3 77.7L419.2 78.4L419.1 79.2L419.0 79.9L418.9 80.6L418.7 81.3L418.6 82.1L418.4 82.8L418.3 83.5L418.1 84.3L417.9 85.0L417.7 85.7L417.5 86.4L417.3 87.2L417.0 87.9L416.8 88.6L416.5 89.4L416.2 90.1L415.9 90.8L415.6 91.5L415.3 92.3L414.9 93.0L414.5 93.7L414.1 94.5L414.1 94.5L413.1 95.2L411.9 95.9L410.6 96.6L409.2 97.4L407.5 98.1L405.7 98.8L403.6 99.5L401.3 100.3L398.7 101.0L395.6 101.7L395.3 101.8L393.9 101.7L381.2 101.0L376.4 100.7L374.7 100.3L372.1 99.5L369.8 98.8L367.7 98.1L365.8 97.4L364.0 96.6L362.4 95.9L360.8 95.2L359.4 94.5L358.2 93.7L357.6 93.4L357.3 93.0L356.8 92.3L356.3 91.5L355.8 90.8L355.4 90.1L355.0 89.4L354.6 88.6L354.2 87.9L353.8 87.2L353.5 86.4L353.2 85.7L352.8 85.0L352.6 84.3L352.3 83.5L352.0 82.8L351.8 82.1L351.5 81.3L351.3 80.6L351.1 79.9L350.9 79.2L350.7 78.4L350.5 77.7L350.4 77.0L350.2 76.3L350.1 75.5L349.9 74.8L349.8 74.1L349.7 73.3L349.6 72.6L349.5 71.9L349.4 71.2L349.3 70.4L349.2 69.7L349.1 69.0L349.1 68.2L349.0 67.5L348.9 66.8L348.9 66.1L348.9 65.3L348.8 64.6L348.8 63.9L348.8 63.2L348.7 62.4L348.7 61.7L348.7 61.0L348.7 60.2L348.7 59.5L348.7 58.8L348.7 58.1L348.7 57.3L348.7 56.6L348.8 55.9L348.8 55.1L348.8 54.4L348.8 53.7L348.9 53.0L348.9 52.2L349.0 51.5L349.0 50.8L349.0 50.1L349.1 49.3L349.1 48.6L349.2 47.9L349.2 47.1L349.3 46.4L349.3 45.7L349.4 45.0L349.4 44.2L349.5 43.5L349.5 42.8L349.5 42.0L349.6 41.3L349.6 40.6L349.6 39.9L349.5 39.1L349.4 38.4L349.3 37.7L349.2 37.0L349.1 36.2L349.0 35.5L348.9 34.8L348.8 34.0L348.7 33.3L348.7 32.6L348.6 31.9L348.5 31.1L348.4 30.4L348.4 29.7L348.3 28.9L348.3 28.2L348.2 27.5L348.2 26.8L348.1 26.0L348.1 25.3L348.1 24.6L348.1 23.9L348.1 23.1L348.1 22.4L342.6 22.4L342.6 23.1L342.6 23.9L342.6 24.6L342.6 25.3L342.6 26.0L342.7 26.8L342.7 27.5L342.7 28.2L342.8 28.9L342.8 29.7L342.9 30.4L342.9 31.1L343.0 31.9L343.0 32.6L343.1 33.3L343.1 34.0L343.1 34.8L343.1 35.5L343.2 36.2L343.2 37.0L343.2 37.7L343.2 38.4L343.2 39.1L343.1 39.9L343.1 40.6L343.0 41.3L343.0 42.0L342.9 42.8L342.8 43.5L342.8 44.2L342.7 45.0L342.6 45.7L342.6 46.4L342.5 47.1L342.4 47.9L342.4 48.6L342.3 49.3L342.2 50.1L342.2 50.8L342.1 51.5L342.0 52.2L342.0 53.0L341.9 53.7L341.9 54.4L341.8 55.1L341.8 55.9L341.7 56.6L341.7 57.3L341.7 58.1L341.6 58.8L341.6 59.5L341.6 60.2L341.5 61.0L341.5 61.7L341.5 62.4L341.5 63.2L341.5 63.9L341.5 64.6L341.5 65.3L341.5 66.1L341.5 66.8L341.5 67.5L341.5 68.2L341.5 69.0L341.5 69.7L341.5 70.4L341.6 71.2L341.6 71.9L341.6 72.6L341.7 73.3L341.7 74.1L341.8 74.8L341.9 75.5L341.9 76.3L342.0 77.0L342.1 77.7L342.2 78.4L342.2 79.2L342.3 79.9L342.4 80.6L342.6 81.3L342.7 82.1L342.8 82.8L342.9 83.5L343.1 84.3L343.2 85.0L343.4 85.7L343.6 86.4L343.8 87.2L344.0 87.9L344.2 88.6L344.4 89.4L344.6 90.1L344.9 90.8L345.1 91.5L345.4 92.3L345.7 93.0L346.0 93.7L346.4 94.5L346.7 95.2L347.1 95.9L347.5 96.6L348.0 97.4L348.4 98.1L348.9 98.8L349.4 99.5L350.0 100.3L350.6 101.0L351.2 101.7L351.9 102.5L352.6 103.2L353.4 103.9L354.2 104.6L355.1 105.4L356.1 106.1L357.2 106.8L357.6 107.1L359.8 107.6L363.9 108.3L368.7 109.0L374.4 109.7L376.4 110.0L383.4 110.5L393.5 111.2Z" fill="#f4a8ab" stroke="#f4a8ab" stroke-width="0.3"/>
<path d="M395.3 101.8L395.6 101.7L398.7 101.0L401.3 100.3L403.6 99.5L405.7 98.8L407.5 98.1L409.2 97.4L410.6 96.6L411.9 95.9L413.1 95.2L414.1 94.5L414.1 94.5L414.5 93.7L414.9 93.0L415.3 92.3L415.6 91.5L415.9 90.8L416.2 90.1L416.5 89.4L416.8 88.6L417.0 87.9L417.3 87.2L417.5 86.4L417.7 85.7L417.9 85.0L418.1 84.3L418.3 83.5L418.4 82.8L418.6 82.1L418.7 81.3L418.9 80.6L419.0 79.9L419.1 79.2L419.2 78.4L419.3 77.7L419.4 77.0L419.5 76.3L419.6 75.5L419.6 74.8L419.7 74.1L419.8 73.3L419.8 72.6L419.8 71.9L419.9 71.2L419.9 70.4L419.9 69.7L419.9 69.0L419.9 68.2L419.9 67.5L419.9 66.8L419.9 66.1L419.9 65.3L419.9 64.6L419.8 63.9L419.8 63.2L419.8 62.4L419.7 61.7L419.7 61.0L419.6 60.2L419.5 59.5L419.5 58.8L419.4 58.1L419.3 57.3L419.2 56.6L419.2 55.9L419.1 55.1L419.0 54.4L418.9 53.7L418.8 53.0L418.6 52.2L418.5 51.5L418.4 50.8L418.3 50.1L418.2 49.3L418.0 48.6L417.9 47.9L417.8 47.1L417.6 46.4L417.5 45.7L417.3 45.0L417.2 44.2L417.0 43.5L416.9 42.8L416.7 42.0L416.6 41.3L416.5 40.6L416.3 39.9L416.2 39.1L416.1 38.4L416.0 37.7L415.9 37.0L415.9 36.2L416.0 35.5L416.0 34.8L416.1 34.0L416.2 33.3L416.2 32.6L416.3 31.9L416.4 31.1L416.5 30.4L416.6 29.7L416.7 28.9L416.7 28.2L416.7 27.5L416.8 26.8L416.8 26.0L416.8 25.3L416.8 24.6L416.8 23.9L416.8 23.1L416.8 22.4L414.1 22.4L410.9 22.4L410.9 23.1L410.8 23.9L410.8 24.6L410.8 25.3L410.8 26.0L410.7 26.8L410.7 27.5L410.6 28.2L410.6 28.9L410.5 29.7L410.4 30.4L410.3 31.1L410.2 31.9L410.0 32.6L409.9 33.3L409.8 34.0L409.7 34.8L409.6 35.5L409.5 36.2L409.4 37.0L409.4 37.7L409.3 38.4L409.3 39.1L409.2 39.9L409.3 40.6L409.3 41.3L409.4 42.0L409.4 42.8L409.5 43.5L409.6 44.2L409.7 45.0L409.8 45.7L409.9 46.4L410.1 47.1L410.2 47.9L410.3 48.6L410.4 49.3L410.5 50.1L410.6 50.8L410.8 51.5L410.9 52.2L411.0 53.0L411.1 53.7L411.2 54.4L411.3 55.1L411.4 55.9L411.4 56.6L411.5 57.3L411.6 58.1L411.6 58.8L411.7 59.5L411.7 60.2L411.8 61.0L411.8 61.7L411.8 62.4L411.8 63.2L411.8 63.9L411.8 64.6L411.8 65.3L411.8 66.1L411.7 66.8L411.7 67.5L411.6 68.2L411.5 69.0L411.4 69.7L411.3 70.4L411.2 71.2L411.0 71.9L410.8 72.6L410.7 73.3L410.5 74.1L410.2 74.8L410.0 75.5L409.7 76.3L409.4 77.0L409.1 77.7L408.8 78.4L408.4 79.2L408.0 79.9L407.6 80.6L407.1 81.3L406.6 82.1L406.0 82.8L405.4 83.5L404.8 84.3L404.1 85.0L403.3 85.7L402.5 86.4L401.6 87.2L400.7 87.9L399.7 88.6L398.6 89.4L397.4 90.1L396.1 90.8L395.3 91.2L381.1 90.8L376.4 90.7L375.2 90.1L373.8 89.4L372.5 88.6L371.3 87.9L370.1 87.2L369.1 86.4L368.0 85.7L367.1 85.0L366.2 84.3L365.4 83.5L364.6 82.8L363.8 82.1L363.1 81.3L362.5 80.6L361.8 79.9L361.3 79.2L360.7 78.4L360.2 77.7L359.7 77.0L359.3 76.3L358.9 75.5L358.5 74.8L358.1 74.1L357.8 73.3L357.6 73.0L357.5 72.6L357.4 71.9L357.2 71.2L357.0 70.4L356.9 69.7L356.8 69.0L356.7 68.2L356.5 67.5L356.4 66.8L356.3 66.1L356.3 65.3L356.2 64.6L356.1 63.9L356.0 63.2L356.0 62.4L355.9 61.7L355.9 61.0L355.8 60.2L355.8 59.5L355.8 58.8L355.8 58.1L355.8 57.3L355.7 56.6L355.7 55.9L355.7 55.1L355.7 54.4L355.8 53.7L355.8 53.0L355.8 52.2L355.8 51.5L355.8 50.8L355.9 50.1L355.9 49.3L355.9 48.6L355.9 47.9L356.0 47.1L356.0 46.4L356.0 45.7L356.1 45.0L356.1 44.2L356.1 43.5L356.1 42.8L356.1 42.0L356.1 41.3L356.0 40.6L356.0 39.9L355.9 39.1L355.7 38.4L355.5 37.7L355.3 37.0L355.1 36.2L354.9 35.5L354.7 34.8L354.5 34.0L354.4 33.3L354.3 32.6L354.2 31.9L354.1 31.1L354.0 30.4L353.9 29.7L353.9 28.9L353.8 28.2L353.8 27.5L353.7 26.8L353.7 26.0L353.6 25.3L353.6 24.6L353.6 23.9L353.6 23.1L353.6 22.4L348.1 22.4L348.1 23.1L348.1 23.9L348.1 24.6L348.1 25.3L348.1 26.0L348.2 26.8L348.2 27.5L348.3 28.2L348.3 28.9L348.4 29.7L348.4 30.4L348.5 31.1L348.6 31.9L348.7 32.6L348.7 33.3L348.8 34.0L348.9 34.8L349.0 35.5L349.1 36.2L349.2 37.0L349.3 37.7L349.4 38.4L349.5 39.1L349.6 39.9L349.6 40.6L349.6 41.3L349.5 42.0L349.5 42.8L349.5 43.5L349.4 44.2L349.4 45.0L349.3 45.7L349.3 46.4L349.2 47.1L349.2 47.9L349.1 48.6L349.1 49.3L349.0 50.1L349.0 50.8L349.0 51.5L348.9 52.2L348.9 53.0L348.8 53.7L348.8 54.4L348.8 55.1L348.8 55.9L348.7 56.6L348.7 57.3L348.7 58.1L348.7 58.8L348.7 59.5L348.7 60.2L348.7 61.0L348.7 61.7L348.7 62.4L348.8 63.2L348.8 63.9L348.8 64.6L348.9 65.3L348.9 66.1L348.9 66.8L349.0 67.5L349.1 68.2L349.1 69.0L349.2 69.7L349.3 70.4L349.4 71.2L349.5 71.9L349.6 72.6L349.7 73.3L349.8 74.1L349.9 74.8L350.1 75.5L350.2 76.3L350.4 77.0L350.5 77.7L350.7 78.4L350.9 79.2L351.1 79.9L351.3 80.6L351.5 81.3L351.8 82.1L352.0 82.8L352.3 83.5L352.6 84.3L352.8 85.0L353.2 85.7L353.5 86.4L353.8 87.2L354.2 87.9L354.6 88.6L355.0 89.4L355.4 90.1L355.8 90.8L356.3 91.5L356.8 92.3L357.3 93.0L357.6 93.4L358.2 93.7L359.4 94.5L360.8 95.2L362.4 95.9L364.0 96.6L365.8 97.4L367.7 98.1L369.8 98.8L372.1 99.5L374.7 100.3L376.4 100.7L381.2 101.0L393.9 101.7Z" fill="#ef8a8d" stroke="#ef8a8d" stroke-width="0.3"/>
<path d="M395.3 91.2L396.1 90.8L397.4 90.1L398.6 89.4L399.7 88.6L400.7 87.9L401.6 87.2L402.5 86.4L403.3 85.7L404.1 85.0L404.8 84.3L405.4 83.5L406.0 82.8L406.6 82.1L407.1 81.3L407.6 80.6L408.0 79.9L408.4 79.2L408.8 78.4L409.1 77.7L409.4 77.0L409.7 76.3L410.0 75.5L410.2 74.8L410.5 74.1L410.7 73.3L410.8 72.6L411.0 71.9L411.2 71.2L411.3 70.4L411.4 69.7L411.5 69.0L411.6 68.2L411.7 67.5L411.7 66.8L411.8 66.1L411.8 65.3L411.8 64.6L411.8 63.9L411.8 63.2L411.8 62.4L411.8 61.7L411.8 61.0L411.7 60.2L411.7 59.5L411.6 58.8L411.6 58.1L411.5 57.3L411.4 56.6L411.4 55.9L411.3 55.1L411.2 54.4L411.1 53.7L411.0 53.0L410.9 52.2L410.8 51.5L410.6 50.8L410.5 50.1L410.4 49.3L410.3 48.6L410.2 47.9L410.1 47.1L409.9 46.4L409.8 45.7L409.7 45.0L409.6 44.2L409.5 43.5L409.4 42.8L409.4 42.0L409.3 41.3L409.3 40.6L409.2 39.9L409.3 39.1L409.3 38.4L409.4 37.7L409.4 37.0L409.5 36.2L409.6 35.5L409.7 34.8L409.8 34.0L409.9 33.3L410.0 32.6L410.2 31.9L410.3 31.1L410.4 30.4L410.5 29.7L410.6 28.9L410.6 28.2L410.7 27.5L410.7 26.8L410.8 26.0L410.8 25.3L410.8 24.6L410.8 23.9L410.9 23.1L410.9 22.4L405.1 22.4L405.1 23.1L405.1 23.9L405.0 24.6L405.0 25.3L405.0 26.0L404.9 26.8L404.9 27.5L404.8 28.2L404.7 28.9L404.6 29.7L404.5 30.4L404.4 31.1L404.3 31.9L404.1 32.6L404.0 33.3L403.8 34.0L403.7 34.8L403.5 35.5L403.4 36.2L403.2 37.0L403.0 37.7L402.8 38.4L402.6 39.1L402.3 39.9L402.1 40.6L402.0 41.3L402.0 42.0L401.9 42.8L401.9 43.5L401.9 44.2L401.9 45.0L401.9 45.7L401.9 46.4L402.0 47.1L402.0 47.9L402.0 48.6L402.1 49.3L402.1 50.1L402.1 50.8L402.1 51.5L402.2 52.2L402.2 53.0L402.2 53.7L402.2 54.4L402.2 55.1L402.2 55.9L402.2 56.6L402.2 57.3L402.1 58.1L402.1 58.8L402.0 59.5L402.0 60.2L401.9 61.0L401.8 61.7L401.7 62.4L401.6 63.2L401.5 63.9L401.3 64.6L401.2 65.3L401.0 66.1L400.8 66.8L400.6 67.5L400.4 68.2L400.1 69.0L399.9 69.7L399.6 70.4L399.3 71.2L398.9 71.9L398.6 72.6L398.2 73.3L397.8 74.1L397.3 74.8L396.9 75.5L396.3 76.3L395.8 77.0L395.3 77.7L393.9 77.7L376.4 78.3L375.8 77.7L375.0 77.0L374.3 76.3L373.7 75.5L373.1 74.8L372.5 74.1L371.9 73.3L371.4 72.6L370.9 71.9L370.5 71.2L370.0 70.4L369.6 69.7L369.3 69.0L368.9 68.2L368.6 67.5L368.3 66.8L368.0 66.1L367.7 65.3L367.4 64.6L367.2 63.9L367.0 63.2L366.8 62.4L366.6 61.7L366.4 61.0L366.3 60.2L366.1 59.5L366.0 58.8L365.9 58.1L365.7 57.3L365.7 56.6L365.6 55.9L365.5 55.1L365.4 54.4L365.4 53.7L365.3 53.0L365.2 52.2L365.2 51.5L365.2 50.8L365.1 50.1L365.1 49.3L365.1 48.6L365.0 47.9L365.0 47.1L364.9 46.4L364.9 45.7L364.8 45.0L364.8 44.2L364.7 43.5L364.6 42.8L364.4 42.0L364.3 41.3L364.0 40.6L363.7 39.9L363.3 39.1L363.0 38.4L362.6 37.7L362.3 37.0L362.0 36.2L361.7 35.5L361.4 34.8L361.1 34.0L360.9 33.3L360.7 32.6L360.6 31.9L360.4 31.1L360.3 30.4L360.2 29.7L360.1 28.9L360.0 28.2L359.9 27.5L359.8 26.8L359.7 26.0L359.7 25.3L359.6 24.6L359.6 23.9L359.6 23.1L359.6 22.4L357.6 22.4L353.6 22.4L353.6 23.1L353.6 23.9L353.6 24.6L353.6 25.3L353.7 26.0L353.7 26.8L353.8 27.5L353.8 28.2L353.9 28.9L353.9 29.7L354.0 30.4L354.1 31.1L354.2 31.9L354.3 32.6L354.4 33.3L354.5 34.0L354.7 34.8L354.9 35.5L355.1 36.2L355.3 37.0L355.5 37.7L355.7 38.4L355.9 39.1L356.0 39.9L356.0 40.6L356.1 41.3L356.1 42.0L356.1 42.8L356.1 43.5L356.1 44.2L356.1 45.0L356.0 45.7L356.0 46.4L356.0 47.1L355.9 47.9L355.9 48.6L355.9 49.3L355.9 50.1L355.8 50.8L355.8 51.5L355.8 52.2L355.8 53.0L355.8 53.7L355.7 54.4L355.7 55.1L355.7 55.9L355.7 56.6L355.8 57.3L355.8 58.1L355.8 58.8L355.8 59.5L355.8 60.2L355.9 61.0L355.9 61.7L356.0 62.4L356.0 63.2L356.1 63.9L356.2 64.6L356.3 65.3L356.3 66.1L356.4 66.8L356.5 67.5L356.7 68.2L356.8 69.0L356.9 69.7L357.0 70.4L357.2 71.2L357.4 71.9L357.5 72.6L357.6 73.0L357.8 73.3L358.1 74.1L358.5 74.8L358.9 75.5L359.3 76.3L359.7 77.0L360.2 77.7L360.7 78.4L361.3 79.2L361.8 79.9L362.5 80.6L363.1 81.3L363.8 82.1L364.6 82.8L365.4 83.5L366.2 84.3L367.1 85.0L368.0 85.7L369.1 86.4L370.1 87.2L371.3 87.9L372.5 88.6L373.8 89.4L375.2 90.1L376.4 90.7L381.1 90.8Z" fill="#ec6e70" stroke="#ec6e70" stroke-width="0.3"/>
<path d="M376.4 78.3L393.9 77.7L395.3 77.7L395.8 77.0L396.3 76.3L396.9 75.5L397.3 74.8L397.8 74.1L398.2 73.3L398.6 72.6L398.9 71.9L399.3 71.2L399.6 70.4L399.9 69.7L400.1 69.0L400.4 68.2L400.6 67.5L400.8 66.8L401.0 66.1L401.2 65.3L401.3 64.6L401.5 63.9L401.6 63.2L401.7 62.4L401.8 61.7L401.9 61.0L402.0 60.2L402.0 59.5L402.1 58.8L402.1 58.1L402.2 57.3L402.2 56.6L402.2 55.9L402.2 55.1L402.2 54.4L402.2 53.7L402.2 53.0L402.2 52.2L402.1 51.5L402.1 50.8L402.1 50.1L402.1 49.3L402.0 48.6L402.0 47.9L402.0 47.1L401.9 46.4L401.9 45.7L401.9 45.0L401.9 44.2L401.9 43.5L401.9 42.8L402.0 42.0L402.0 41.3L402.1 40.6L402.3 39.9L402.6 39.1L402.8 38.4L403.0 37.7L403.2 37.0L403.4 36.2L403.5 35.5L403.7 34.8L403.8 34.0L404.0 33.3L404.1 32.6L404.3 31.9L404.4 31.1L404.5 30.4L404.6 29.7L404.7 28.9L404.8 28.2L404.9 27.5L404.9 26.8L405.0 26.0L405.0 25.3L405.0 24.6L405.1 23.9L405.1 23.1L405.1 22.4L399.3 22.4L399.3 23.1L399.3 23.9L399.2 24.6L399.2 25.3L399.2 26.0L399.1 26.8L399.0 27.5L398.9 28.2L398.9 28.9L398.7 29.7L398.6 30.4L398.5 31.1L398.4 31.9L398.2 32.6L398.0 33.3L397.9 34.0L397.7 34.8L397.5 35.5L397.3 36.2L397.0 37.0L396.7 37.7L396.3 38.4L395.8 39.1L395.3 39.9L395.3 40.0L393.9 40.6L392.5 41.3L391.3 42.0L390.3 42.8L389.4 43.5L388.6 44.2L387.9 45.0L387.2 45.7L386.6 46.4L386.0 47.1L385.4 47.9L384.8 48.6L384.2 49.3L383.6 50.1L383.0 50.8L382.3 51.5L381.5 52.2L380.7 53.0L379.8 53.7L378.8 54.4L377.8 55.1L376.5 55.9L376.4 55.9L376.4 55.9L376.2 55.1L376.1 54.4L375.9 53.7L375.8 53.0L375.6 52.2L375.5 51.5L375.4 50.8L375.2 50.1L375.1 49.3L375.0 48.6L374.8 47.9L374.7 47.1L374.6 46.4L374.4 45.7L374.2 45.0L374.0 44.2L373.8 43.5L373.6 42.8L373.3 42.0L373.0 41.3L372.5 40.6L371.9 39.9L371.1 39.1L370.7 38.4L370.3 37.7L370.0 37.0L369.7 36.2L369.4 35.5L369.1 34.8L368.8 34.0L368.6 33.3L368.4 32.6L368.2 31.9L368.0 31.1L367.8 30.4L367.7 29.7L367.5 28.9L367.4 28.2L367.3 27.5L367.2 26.8L367.2 26.0L367.1 25.3L367.1 24.6L367.0 23.9L367.0 23.1L367.0 22.4L359.6 22.4L359.6 23.1L359.6 23.9L359.6 24.6L359.7 25.3L359.7 26.0L359.8 26.8L359.9 27.5L360.0 28.2L360.1 28.9L360.2 29.7L360.3 30.4L360.4 31.1L360.6 31.9L360.7 32.6L360.9 33.3L361.1 34.0L361.4 34.8L361.7 35.5L362.0 36.2L362.3 37.0L362.6 37.7L363.0 38.4L363.3 39.1L363.7 39.9L364.0 40.6L364.3 41.3L364.4 42.0L364.6 42.8L364.7 43.5L364.8 44.2L364.8 45.0L364.9 45.7L364.9 46.4L365.0 47.1L365.0 47.9L365.1 48.6L365.1 49.3L365.1 50.1L365.2 50.8L365.2 51.5L365.2 52.2L365.3 53.0L365.4 53.7L365.4 54.4L365.5 55.1L365.6 55.9L365.7 56.6L365.7 57.3L365.9 58.1L366.0 58.8L366.1 59.5L366.3 60.2L366.4 61.0L366.6 61.7L366.8 62.4L367.0 63.2L367.2 63.9L367.4 64.6L367.7 65.3L368.0 66.1L368.3 66.8L368.6 67.5L368.9 68.2L369.3 69.0L369.6 69.7L370.0 70.4L370.5 71.2L370.9 71.9L371.4 72.6L371.9 73.3L372.5 74.1L373.1 74.8L373.7 75.5L374.3 76.3L375.0 77.0L375.8 77.7Z" fill="#e85356" stroke="#e85356" stroke-width="0.3"/>
<path d="M376.4 55.9L376.5 55.9L377.8 55.1L378.8 54.4L379.8 53.7L380.7 53.0L381.5 52.2L382.3 51.5L383.0 50.8L383.6 50.1L384.2 49.3L384.8 48.6L385.4 47.9L386.0 47.1L386.6 46.4L387.2 45.7L387.9 45.0L388.6 44.2L389.4 43.5L390.3 42.8L391.3 42.0L392.5 41.3L393.9 40.6L395.3 40.0L395.3 39.9L395.8 39.1L396.3 38.4L396.7 37.7L397.0 37.0L397.3 36.2L397.5 35.5L397.7 34.8L397.9 34.0L398.0 33.3L398.2 32.6L398.4 31.9L398.5 31.1L398.6 30.4L398.7 29.7L398.9 28.9L398.9 28.2L399.0 27.5L399.1 26.8L399.2 26.0L399.2 25.3L399.2 24.6L399.3 23.9L399.3 23.1L399.3 22.4L395.3 22.4L385.4 22.4L385.4 23.1L385.3 23.9L385.1 24.6L384.9 25.3L384.5 26.0L384.2 26.8L383.7 27.5L383.2 28.2L382.6 28.9L381.9 29.7L381.2 30.4L380.3 31.1L379.4 31.9L378.4 32.6L377.4 33.3L376.4 33.9L376.2 33.3L376.0 32.6L375.8 31.9L375.5 31.1L375.4 30.4L375.2 29.7L375.0 28.9L374.9 28.2L374.8 27.5L374.7 26.8L374.6 26.0L374.5 25.3L374.5 24.6L374.4 23.9L374.4 23.1L374.4 22.4L367.0 22.4L367.0 23.1L367.0 23.9L367.1 24.6L367.1 25.3L367.2 26.0L367.2 26.8L367.3 27.5L367.4 28.2L367.5 28.9L367.7 29.7L367.8 30.4L368.0 31.1L368.2 31.9L368.4 32.6L368.6 33.3L368.8 34.0L369.1 34.8L369.4 35.5L369.7 36.2L370.0 37.0L370.3 37.7L370.7 38.4L371.1 39.1L371.9 39.9L372.5 40.6L373.0 41.3L373.3 42.0L373.6 42.8L373.8 43.5L374.0 44.2L374.2 45.0L374.4 45.7L374.6 46.4L374.7 47.1L374.8 47.9L375.0 48.6L375.1 49.3L375.2 50.1L375.4 50.8L375.5 51.5L375.6 52.2L375.8 53.0L375.9 53.7L376.1 54.4L376.2 55.2L376.4 55.9Z" fill="#e5393b" stroke="#e5393b" stroke-width="0.3"/>
<path d="M376.4 33.9L377.4 33.3L378.4 32.6L379.4 31.9L380.3 31.1L381.2 30.4L381.9 29.7L382.6 28.9L383.2 28.2L383.7 27.5L384.2 26.8L384.5 26.0L384.9 25.3L385.1 24.6L385.3 23.9L385.4 23.1L385.4 22.4L376.4 22.4L374.4 22.4L374.4 23.1L374.4 23.9L374.5 24.6L374.5 25.3L374.6 26.0L374.7 26.8L374.8 27.5L374.9 28.2L375.0 28.9L375.2 29.7L375.4 30.4L375.5 31.1L375.8 31.9L376.0 32.6L376.2 33.3Z" fill="#e31e22" stroke="#e31e22" stroke-width="0.3"/>
<path d="M485.7 153.4L485.7 152.7L485.7 151.9L485.7 151.2L485.8 150.5L485.8 149.8L485.9 149.0L486.0 148.3L486.0 147.6L486.1 146.8L486.2 146.1L486.3 145.4L486.5 144.7L486.6 143.9L486.8 143.2L486.9 142.5L487.1 141.8L487.3 141.0L487.4 140.3L487.6 139.6L487.9 138.8L488.1 138.1L488.3 137.4L488.3 136.7L487.7 135.9L487.1 135.2L486.6 134.5L486.2 133.8L485.8 133.0L485.4 132.3L485.0 131.6L484.7 130.8L484.3 130.1L484.0 129.4L483.6 128.7L483.3 127.9L483.0 127.2L482.6 126.5L482.3 125.7L482.0 125.0L481.7 124.3L481.4 123.6L481.1 122.8L480.9 122.1L480.6 121.4L480.4 120.7L480.1 119.9L479.9 119.2L479.7 118.5L479.5 117.7L479.3 117.0L479.1 116.3L478.9 115.6L478.7 114.8L478.6 114.1L478.4 113.4L478.3 112.6L478.2 111.9L478.1 111.2L478.0 110.5L477.9 109.7L477.8 109.0L477.8 108.3L477.7 107.6L477.7 106.8L477.7 106.1L477.7 105.4L477.7 104.6L477.7 103.9L477.8 103.2L477.8 102.5L477.9 101.7L478.0 101.0L478.1 100.3L478.3 99.5L478.4 98.8L478.6 98.1L478.8 97.4L479.0 96.6L479.2 95.9L479.4 95.2L479.7 94.5L480.0 93.7L480.4 93.0L480.7 92.3L481.1 91.5L481.5 90.8L481.9 90.1L482.4 89.4L482.9 88.6L483.5 87.9L484.1 87.2L484.7 86.4L485.3 85.7L486.1 85.0L486.8 84.3L487.6 83.5L488.5 82.8L489.4 82.1M282.3 82.5L282.6 82.8L283.4 83.5L284.0 84.3L284.7 85.0L285.3 85.7L285.8 86.4L286.3 87.2L286.8 87.9L287.2 88.6L287.6 89.4L288.0 90.1L288.4 90.8L288.7 91.5L289.0 92.3L289.3 93.0L289.5 93.7L289.8 94.5L290.0 95.2L290.1 95.9L290.3 96.6L290.5 97.4L290.6 98.1L290.7 98.8L290.8 99.5L290.9 100.3L290.9 101.0L291.0 101.7L291.0 102.5L291.0 103.2L291.0 103.9L291.0 104.6L291.0 105.4L291.0 106.1L290.9 106.8L290.9 107.6L290.8 108.3L290.7 109.0L290.6 109.7L290.5 110.5L290.4 111.2L290.3 111.9L290.1 112.6L290.0 113.4L289.8 114.1L289.6 114.8L289.4 115.6L289.3 116.3L289.1 117.0L288.8 117.7L288.6 118.5L288.4 119.2L288.1 119.9L287.9 120.7L287.6 121.4L287.4 122.1L287.1 122.8L286.8 123.6L286.5 124.3L286.2 125.0L285.9 125.7L285.6 126.5L285.2 127.2L284.9 127.9L284.6 128.7L284.2 129.4L283.9 130.1L283.5 130.8L283.1 131.6L282.8 132.3L282.4 133.0L282.3 133.2" fill="none" stroke="#000" stroke-opacity="0.16" stroke-width="0.55"/>
<path d="M476.7 153.4L476.7 152.7L476.7 151.9L476.7 151.2L476.8 150.5L476.8 149.8L476.9 149.0L476.9 148.3L477.0 147.6L477.0 146.8L477.1 146.1L477.2 145.4L477.3 144.7L477.4 143.9L477.5 143.2L477.6 142.5L477.7 141.8L477.7 141.0L477.7 140.3L477.6 139.6L477.5 138.8L477.3 138.1L477.1 137.4L476.8 136.7L476.2 135.9L475.7 135.2L475.3 134.5L474.9 133.8L474.5 133.0L474.1 132.3L473.7 131.6L473.3 130.8L472.9 130.1L472.5 129.4L472.2 128.7L471.8 127.9L471.5 127.2L471.1 126.5L470.8 125.7L470.6 125.3L470.5 125.0L470.3 124.3L470.0 123.6L469.8 122.8L469.6 122.1L469.4 121.4L469.2 120.7L469.0 119.9L468.9 119.2L468.7 118.5L468.6 117.7L468.4 117.0L468.3 116.3L468.1 115.6L468.0 114.8L467.9 114.1L467.8 113.4L467.7 112.6L467.6 111.9L467.5 111.2L467.4 110.5L467.3 109.7L467.2 109.0L467.2 108.3L467.1 107.6L467.0 106.8L467.0 106.1L467.0 105.4L466.9 104.6L466.9 103.9L466.9 103.2L466.9 102.5L466.9 101.7L466.9 101.0L466.9 100.3L466.9 99.5L466.9 98.8L467.0 98.1L467.0 97.4L467.0 96.6L467.1 95.9L467.2 95.2L467.2 94.5L467.3 93.7L467.4 93.0L467.5 92.3L467.6 91.5L467.7 90.8L467.8 90.1L468.0 89.4L468.1 88.6L468.3 87.9L468.4 87.2L468.6 86.4L468.8 85.7L469.0 85.0L469.2 84.3L469.4 83.5L469.7 82.8L469.9 82.1L470.2 81.3L470.5 80.6L470.6 80.3L471.0 79.9L471.6 79.2L472.4 78.4L473.2 77.7L474.0 77.0L475.0 76.3L476.0 75.5L477.0 74.8L478.2 74.1L479.5 73.3L480.9 72.6L482.4 71.9L484.0 71.2L485.8 70.4L487.7 69.7L489.4 69.1M282.3 68.5L283.5 69.0L285.3 69.7L286.9 70.4L288.4 71.2L289.8 71.9L291.0 72.6L292.2 73.3L293.2 74.1L294.2 74.8L295.1 75.5L295.9 76.3L296.6 77.0L297.3 77.7L297.9 78.4L298.5 79.2L299.0 79.9L299.5 80.6L300.0 81.3L300.4 82.1L300.8 82.8L301.1 83.5L301.1 83.6L301.3 84.3L301.4 85.0L301.6 85.7L301.7 86.4L301.8 87.2L302.0 87.9L302.1 88.6L302.2 89.4L302.3 90.1L302.3 90.8L302.4 91.5L302.5 92.3L302.5 93.0L302.6 93.7L302.6 94.5L302.6 95.2L302.7 95.9L302.7 96.6L302.7 97.4L302.7 98.1L302.7 98.8L302.7 99.5L302.7 100.3L302.6 101.0L302.6 101.7L302.6 102.5L302.5 103.2L302.5 103.9L302.4 104.6L302.3 105.4L302.2 106.1L302.2 106.8L302.1 107.6L302.0 108.3L301.8 109.0L301.7 109.7L301.6 110.5L301.5 111.2L301.3 111.9L301.2 112.6L301.1 112.9L301.0 113.4L300.8 114.1L300.6 114.8L300.3 115.6L300.1 116.3L299.8 117.0L299.6 117.7L299.3 118.5L299.1 119.2L298.8 119.9L298.5 120.7L298.2 121.4L297.9 122.1L297.6 122.8L297.3 123.6L297.0 124.3L296.7 125.0L296.4 125.7L296.0 126.5L295.7 127.2L295.3 127.9L295.0 128.7L294.6 129.4L294.2 130.1L293.9 130.8L293.5 131.6L293.1 132.3L292.7 133.0L292.3 133.8L291.9 134.5L291.5 135.2L291.1 135.9L290.6 136.7L290.1 137.4L289.8 138.1L289.6 138.8L289.4 139.6L289.3 140.3L289.3 141.0L289.2 141.8L289.2 142.5L289.2 143.2L289.2 143.9L289.2 144.7L289.2 145.4L289.3 146.1L289.3 146.8L289.4 147.6L289.4 148.3L289.5 149.0L289.5 149.8L289.5 150.5L289.6 151.2L289.6 151.9L289.6 152.7L289.6 153.4" fill="none" stroke="#000" stroke-opacity="0.16" stroke-width="0.55"/>
<path d="M467.9 153.4L467.9 152.7L467.9 151.9L467.9 151.2L467.9 150.5L467.9 149.8L468.0 149.0L468.0 148.3L468.0 147.6L468.0 146.8L468.1 146.1L468.1 145.4L468.1 144.7L468.2 143.9L468.2 143.2L468.2 142.5L468.1 141.8L468.0 141.0L467.9 140.3L467.6 139.6L467.3 138.8L467.0 138.1L466.5 137.4L466.2 136.7L465.8 135.9L465.5 135.2L465.2 134.5L464.9 133.8L464.6 133.0L464.4 132.3L464.1 131.6L463.9 130.8L463.6 130.1L463.4 129.4L463.1 128.7L462.9 127.9L462.7 127.2L462.5 126.5L462.3 125.7L462.1 125.0L461.9 124.3L461.7 123.6L461.6 122.8L461.4 122.1L461.2 121.4L461.1 120.7L460.9 119.9L460.8 119.2L460.7 118.5L460.5 117.7L460.4 117.0L460.3 116.3L460.2 115.6L460.1 114.8L459.9 114.1L459.8 113.4L459.7 112.6L459.7 111.9L459.6 111.2L459.5 110.5L459.4 109.7L459.3 109.0L459.3 108.3L459.2 107.6L459.1 106.8L459.1 106.1L459.0 105.4L459.0 104.6L458.9 103.9L458.9 103.2L458.9 102.5L458.8 101.7L458.8 101.0L458.8 100.3L458.8 99.5L458.8 98.8L458.8 98.1L458.8 97.4L458.8 96.6L458.8 95.9L458.8 95.2L458.8 94.5L458.8 93.7L458.9 93.0L458.9 92.3L458.9 91.5L459.0 90.8L459.0 90.1L459.1 89.4L459.2 88.6L459.2 87.9L459.3 87.2L459.4 86.4L459.5 85.7L459.6 85.0L459.7 84.3L459.8 83.5L459.9 82.8L460.1 82.1L460.2 81.3L460.4 80.6L460.5 79.9L460.7 79.2L460.9 78.4L461.1 77.7L461.3 77.0L461.5 76.3L461.7 75.5L462.0 74.8L462.2 74.1L462.5 73.3L462.8 72.6L463.1 71.9L463.5 71.2L463.8 70.4L464.2 69.7L464.6 69.0L465.1 68.2L465.5 67.5L466.0 66.8L466.6 66.1L467.1 65.3L467.7 64.6L468.4 63.9L469.1 63.2L469.8 62.4L470.6 61.8L470.8 61.7L473.8 61.0L477.4 60.2L481.7 59.5L486.7 58.8L489.4 58.5M282.3 57.5L287.8 58.1L293.1 58.8L297.2 59.5L300.5 60.2L301.1 60.4L301.6 61.0L302.2 61.7L302.8 62.4L303.3 63.2L303.8 63.9L304.3 64.6L304.7 65.3L305.1 66.1L305.5 66.8L305.9 67.5L306.2 68.2L306.5 69.0L306.9 69.7L307.1 70.4L307.4 71.2L307.7 71.9L307.9 72.6L308.2 73.3L308.4 74.1L308.6 74.8L308.8 75.5L309.0 76.3L309.1 77.0L309.3 77.7L309.5 78.4L309.6 79.2L309.8 79.9L309.9 80.6L310.0 81.3L310.1 82.1L310.2 82.8L310.3 83.5L310.4 84.3L310.5 85.0L310.6 85.7L310.6 86.4L310.7 87.2L310.8 87.9L310.8 88.6L310.9 89.4L310.9 90.1L311.0 90.8L311.0 91.5L311.0 92.3L311.0 93.0L311.0 93.7L311.1 94.5L311.1 95.2L311.1 95.9L311.1 96.6L311.1 97.4L311.0 98.1L311.0 98.8L311.0 99.5L311.0 100.3L310.9 101.0L310.9 101.7L310.8 102.5L310.8 103.2L310.7 103.9L310.7 104.6L310.6 105.4L310.6 106.1L310.5 106.8L310.4 107.6L310.3 108.3L310.2 109.0L310.1 109.7L310.0 110.5L309.9 111.2L309.8 111.9L309.7 112.6L309.6 113.4L309.4 114.1L309.3 114.8L309.2 115.6L309.0 116.3L308.9 117.0L308.7 117.7L308.5 118.5L308.4 119.2L308.2 119.9L308.0 120.7L307.8 121.4L307.6 122.1L307.4 122.8L307.1 123.6L306.9 124.3L306.6 125.0L306.4 125.7L306.1 126.5L305.8 127.2L305.6 127.9L305.3 128.7L304.9 129.4L304.6 130.1L304.3 130.8L303.9 131.6L303.5 132.3L303.2 133.0L302.8 133.8L302.3 134.5L301.9 135.2L301.5 135.9L301.1 136.4L301.0 136.7L300.6 137.4L300.1 138.1L299.7 138.8L299.3 139.6L298.9 140.3L298.5 141.0L298.2 141.8L298.0 142.5L297.8 143.2L297.6 143.9L297.5 144.7L297.4 145.4L297.4 146.1L297.4 146.8L297.4 147.6L297.4 148.3L297.5 149.0L297.5 149.8L297.5 150.5L297.5 151.2L297.5 151.9L297.5 152.7L297.5 153.4" fill="none" stroke="#000" stroke-opacity="0.16" stroke-width="0.55"/>
<path d="M459.4 153.4L459.4 152.7L459.4 151.9L459.4 151.2L459.4 150.5L459.4 149.8L459.4 149.0L459.3 148.3L459.3 147.6L459.2 146.8L459.1 146.1L459.0 145.4L458.9 144.7L458.8 143.9L458.7 143.2L458.5 142.5L458.3 141.8L458.1 141.0L457.9 140.3L457.7 139.6L457.5 138.8L457.2 138.1L456.9 137.4L456.7 136.7L456.5 135.9L456.2 135.2L456.0 134.5L455.8 133.8L455.6 133.0L455.4 132.3L455.2 131.6L455.0 130.8L454.9 130.1L454.7 129.4L454.5 128.7L454.3 127.9L454.2 127.2L454.0 126.5L453.9 125.7L453.7 125.0L453.6 124.3L453.5 123.6L453.3 122.8L453.2 122.1L453.1 121.4L453.0 120.7L452.8 119.9L452.7 119.2L452.6 118.5L452.5 117.7L452.4 117.0L452.3 116.3L452.2 115.6L452.1 114.8L452.0 114.1L451.9 113.4L451.8 112.6L451.7 111.9L451.7 111.9L451.7 111.2L451.6 110.5L451.5 109.7L451.4 109.0L451.3 108.3L451.2 107.6L451.2 106.8L451.1 106.1L451.0 105.4L451.0 104.6L450.9 103.9L450.9 103.2L450.8 102.5L450.8 101.7L450.7 101.0L450.7 100.3L450.7 99.5L450.6 98.8L450.6 98.1L450.6 97.4L450.6 96.6L450.5 95.9L450.5 95.2L450.5 94.5L450.5 93.7L450.5 93.0L450.5 92.3L450.5 91.5L450.5 90.8L450.5 90.1L450.5 89.4L450.5 88.6L450.5 87.9L450.5 87.2L450.5 86.4L450.5 85.7L450.5 85.0L450.5 84.3L450.5 83.5L450.6 82.8L450.6 82.1L450.6 81.3L450.6 80.6L450.7 79.9L450.7 79.2L450.7 78.4L450.8 77.7L450.8 77.0L450.8 76.3L450.9 75.5L450.9 74.8L451.0 74.1L451.0 73.3L451.1 72.6L451.2 71.9L451.2 71.2L451.3 70.4L451.4 69.7L451.4 69.0L451.5 68.2L451.6 67.5L451.7 66.8L451.7 66.2L451.8 66.1L451.9 65.3L452.1 64.6L452.3 63.9L452.5 63.2L452.8 62.4L453.0 61.7L453.3 61.0L453.6 60.2L453.9 59.5L454.3 58.8L454.6 58.1L455.1 57.3L455.6 56.6L456.1 55.9L456.7 55.1L457.3 54.4L458.1 53.7L458.9 53.0L459.8 52.2L460.9 51.5L462.2 50.8L463.6 50.1L465.3 49.3L467.3 48.6L469.7 47.9L470.6 47.6L475.1 47.9L489.4 48.5M282.3 47.2L282.9 47.1L290.4 46.4L296.3 45.7L301.1 45.0L302.9 45.7L304.5 46.4L305.8 47.1L307.0 47.9L308.1 48.6L309.1 49.3L309.9 50.1L310.7 50.8L311.4 51.5L312.0 52.2L312.6 53.0L313.1 53.7L313.6 54.4L314.0 55.1L314.4 55.9L314.8 56.6L315.2 57.3L315.5 58.1L315.8 58.8L316.1 59.5L316.3 60.2L316.6 61.0L316.8 61.7L317.0 62.4L317.2 63.2L317.4 63.9L317.5 64.6L317.7 65.3L317.9 66.1L318.0 66.8L318.1 67.5L318.3 68.2L318.4 69.0L318.5 69.7L318.6 70.4L318.7 71.2L318.8 71.9L318.8 72.6L318.9 73.3L319.0 74.1L319.1 74.8L319.1 75.5L319.2 76.3L319.2 77.0L319.3 77.7L319.3 78.4L319.4 79.2L319.4 79.9L319.4 80.6L319.5 81.3L319.5 82.1L319.5 82.8L319.5 83.5L319.5 84.3L319.6 85.0L319.6 85.7L319.6 86.4L319.6 87.2L319.6 87.9L319.6 88.6L319.6 89.4L319.6 90.1L319.6 90.8L319.6 91.5L319.6 92.3L319.5 93.0L319.5 93.7L319.5 94.5L319.5 95.2L319.5 95.9L319.4 96.6L319.4 97.4L319.4 98.1L319.3 98.8L319.3 99.5L319.3 100.3L319.2 101.0L319.2 101.7L319.1 102.5L319.1 103.2L319.0 103.9L319.0 104.6L318.9 105.4L318.9 106.1L318.8 106.8L318.7 107.6L318.7 108.3L318.6 109.0L318.5 109.7L318.5 110.5L318.4 111.2L318.3 111.9L318.2 112.6L318.1 113.4L318.0 114.1L318.0 114.8L317.9 115.6L317.8 116.3L317.7 117.0L317.5 117.7L317.4 118.5L317.3 119.2L317.2 119.9L317.1 120.7L316.9 121.4L316.8 122.1L316.7 122.8L316.5 123.6L316.4 124.3L316.2 125.0L316.1 125.7L315.9 126.5L315.7 127.2L315.5 127.9L315.3 128.7L315.1 129.4L314.9 130.1L314.7 130.8L314.5 131.6L314.3 132.3L314.1 133.0L313.8 133.8L313.6 134.5L313.3 135.2L313.0 135.9L312.7 136.7L312.4 137.4L312.1 138.1L311.8 138.8L311.4 139.6L311.0 140.3L310.6 141.0L310.2 141.8L309.8 142.5L309.5 143.2L309.2 143.9L308.9 144.7L308.7 145.4L308.5 146.1L308.4 146.8L308.3 147.6L308.2 148.3L308.1 149.0L308.1 149.8L308.0 150.5L307.9 151.2L307.9 151.9L307.9 152.7L307.9 153.4" fill="none" stroke="#000" stroke-opacity="0.16" stroke-width="0.55"/>
<path d="M434.1 153.4L434.2 152.7L434.4 151.9L434.8 151.2L435.5 150.5L436.2 149.8L436.8 149.0L437.2 148.3L437.5 147.6L437.7 146.8L438.1 146.1L438.5 145.4L438.8 144.7L439.0 143.9L439.2 143.2L439.3 142.5L439.5 141.8L439.7 141.0L439.9 140.3L440.0 139.6L440.2 138.8L440.3 138.1L440.5 137.4L440.6 136.7L440.7 135.9L440.8 135.2L440.9 134.5L441.0 133.8L441.1 133.0L441.1 132.3L441.2 131.6L441.3 130.8L441.3 130.1L441.4 129.4L441.5 128.7L441.5 127.9L441.6 127.2L441.6 126.5L441.7 125.7L441.7 125.0L441.8 124.3L441.8 123.6L441.8 122.8L441.9 122.1L441.9 121.4L441.9 120.7L442.0 119.9L442.0 119.2L442.0 118.5L442.1 117.7L442.1 117.0L442.1 116.3L442.2 115.6L442.2 114.8L442.2 114.1L442.2 113.4L442.3 112.6L442.3 111.9L442.3 111.2L442.3 110.5L442.4 109.7L442.4 109.0L442.4 108.3L442.4 107.6L442.5 106.8L442.5 106.1L442.5 105.4L442.5 104.6L442.5 103.9L442.6 103.2L442.6 102.5L442.6 101.7L442.6 101.0L442.6 100.3L442.6 99.5L442.7 98.8L442.7 98.1L442.7 97.4L442.7 96.6L442.7 95.9L442.7 95.2L442.8 94.5L442.8 93.7L442.8 93.0L442.8 92.3L442.8 91.5L442.8 90.8L442.9 90.1L442.9 89.4L442.9 88.6L442.9 87.9L442.9 87.2L442.9 86.4L443.0 85.7L443.0 85.0L443.0 84.3L443.0 83.5L443.0 82.8L443.0 82.1L443.0 81.3L443.1 80.6L443.1 79.9L443.1 79.2L443.1 78.4L443.1 77.7L443.1 77.0L443.2 76.3L443.2 75.5L443.2 74.8L443.2 74.1L443.2 73.3L443.2 72.6L443.2 71.9L443.3 71.2L443.3 70.4L443.3 69.7L443.3 69.0L443.3 68.2L443.4 67.5L443.4 66.8L443.4 66.1L443.4 65.3L443.4 64.6L443.4 63.9L443.5 63.2L443.5 62.4L443.5 61.7L443.5 61.0L443.5 60.2L443.6 59.5L443.6 58.8L443.6 58.1L443.6 57.3L443.7 56.6L443.7 55.9L443.7 55.1L443.7 54.4L443.8 53.7L443.8 53.0L443.8 52.2L443.9 51.5L443.9 50.8L443.9 50.1L444.0 49.3L444.0 48.6L444.1 47.9L444.1 47.1L444.1 46.4L444.2 45.7L444.2 45.0L444.3 44.2L444.4 43.5L444.4 42.8L444.5 42.0L444.6 41.3L444.6 40.6L444.7 39.9L444.8 39.1L444.9 38.4L445.0 37.7L445.1 37.0L445.3 36.2L445.4 35.5L445.6 34.8L445.8 34.0L446.1 33.3L446.5 32.6L446.9 31.9L447.3 31.1L447.8 30.4L448.2 29.7L448.7 28.9L449.1 28.2L449.5 27.5L449.9 26.8L450.2 26.0L450.4 25.3L450.5 24.6L450.5 23.9L450.5 23.1L450.5 22.4M320.3 22.4L320.4 23.1L320.5 23.9L320.6 24.6L320.8 25.3L321.0 26.0L321.2 26.8L321.5 27.5L321.8 28.2L322.0 28.9L322.2 29.7L322.5 30.4L322.7 31.1L322.9 31.9L323.1 32.6L323.2 33.3L323.4 34.0L323.6 34.8L323.7 35.5L323.8 36.2L324.0 37.0L324.1 37.7L324.2 38.4L324.3 39.1L324.4 39.9L324.5 40.6L324.6 41.3L324.6 42.0L324.7 42.8L324.8 43.5L324.9 44.2L324.9 45.0L325.0 45.7L325.1 46.4L325.1 47.1L325.2 47.9L325.2 48.6L325.3 49.3L325.4 50.1L325.4 50.8L325.5 51.5L325.5 52.2L325.6 53.0L325.6 53.7L325.7 54.4L325.7 55.1L325.8 55.9L325.8 56.6L325.8 57.3L325.9 58.1L325.9 58.8L326.0 59.5L326.0 60.2L326.0 61.0L326.1 61.7L326.1 62.4L326.2 63.2L326.2 63.9L326.2 64.6L326.3 65.3L326.3 66.1L326.3 66.8L326.4 67.5L326.4 68.2L326.4 69.0L326.5 69.7L326.5 70.4L326.6 71.2L326.6 71.9L326.6 72.6L326.7 73.3L326.7 74.1L326.7 74.8L326.8 75.5L326.8 76.3L326.8 77.0L326.8 77.7L326.9 78.4L326.9 79.2L326.9 79.9L327.0 80.6L327.0 81.3L327.0 82.1L327.1 82.8L327.1 83.5L327.1 84.3L327.2 85.0L327.2 85.7L327.3 86.4L327.3 87.2L327.3 87.9L327.4 88.6L327.4 89.4L327.4 90.1L327.5 90.8L327.5 91.5L327.5 92.3L327.6 93.0L327.6 93.7L327.6 94.5L327.7 95.2L327.7 95.9L327.8 96.6L327.8 97.4L327.9 98.1L327.9 98.8L327.9 99.5L328.0 100.3L328.0 101.0L328.1 101.7L328.1 102.5L328.2 103.2L328.2 103.9L328.3 104.6L328.3 105.4L328.4 106.1L328.4 106.8L328.5 107.6L328.5 108.3L328.6 109.0L328.7 109.7L328.7 110.5L328.8 111.2L328.8 111.9L328.9 112.6L329.0 113.4L329.1 114.1L329.1 114.8L329.2 115.6L329.3 116.3L329.4 117.0L329.5 117.7L329.6 118.5L329.7 119.2L329.8 119.9L329.9 120.7L330.0 121.4L330.1 122.1L330.2 122.8L330.4 123.6L330.5 124.3L330.7 125.0L330.8 125.7L331.0 126.5L331.2 127.2L331.4 127.9L331.6 128.7L331.8 129.4L332.1 130.1L332.4 130.8L332.7 131.6L333.0 132.3L333.3 133.0L333.7 133.8L334.2 134.5L334.6 135.2L335.2 135.9L335.8 136.7L336.5 137.4L337.3 138.1L338.1 138.8L338.8 139.3L341.1 138.8L343.4 138.1L344.8 137.4L346.3 136.7L348.2 135.9L350.4 135.2L353.1 134.5L356.4 133.8L357.6 133.5L360.6 133.0L364.7 132.3L368.9 131.6L373.3 130.8L376.4 130.4L381.4 130.8L389.2 131.6L395.3 132.1L395.9 132.3L397.9 133.0L399.9 133.8L401.7 134.5L403.4 135.2L404.8 135.9L405.4 136.7L406.6 137.4L409.3 138.1L414.1 138.6L414.7 138.8L416.2 139.6L417.0 140.3L417.6 141.0L418.2 141.8L418.7 142.5L419.2 143.2L419.6 143.9L419.9 144.7L420.2 145.4L420.5 146.1L421.0 146.8L421.7 147.6L422.6 148.3L423.7 149.0L425.0 149.8L426.4 150.5L428.0 151.2L429.0 151.9L429.5 152.7L429.7 153.4" fill="none" stroke="#000" stroke-opacity="0.16" stroke-width="0.55"/>
<path d="M334.4 22.4L334.4 23.1L334.4 23.9L334.5 24.6L334.5 25.3L334.6 26.0L334.7 26.8L334.9 27.5L335.0 28.2L335.1 28.9L335.2 29.7L335.3 30.4L335.4 31.1L335.6 31.9L335.7 32.6L335.8 33.3L335.8 34.0L335.8 34.8L335.7 35.5L335.7 36.2L335.6 37.0L335.5 37.7L335.4 38.4L335.4 39.1L335.3 39.9L335.2 40.6L335.1 41.3L335.0 42.0L335.0 42.8L334.9 43.5L334.8 44.2L334.7 45.0L334.7 45.7L334.6 46.4L334.6 47.1L334.5 47.9L334.4 48.6L334.4 49.3L334.3 50.1L334.3 50.8L334.3 51.5L334.2 52.2L334.2 53.0L334.1 53.7L334.1 54.4L334.1 55.1L334.1 55.9L334.0 56.6L334.0 57.3L334.0 58.1L334.0 58.8L334.0 59.5L333.9 60.2L333.9 61.0L333.9 61.7L333.9 62.4L333.9 63.2L333.9 63.9L333.9 64.6L333.9 65.3L333.9 66.1L333.9 66.8L333.9 67.5L333.9 68.2L333.9 69.0L334.0 69.7L334.0 70.4L334.0 71.2L334.0 71.9L334.0 72.6L334.1 73.3L334.1 74.1L334.1 74.8L334.1 75.5L334.2 76.3L334.2 77.0L334.2 77.7L334.3 78.4L334.3 79.2L334.4 79.9L334.4 80.6L334.5 81.3L334.5 82.1L334.6 82.8L334.6 83.5L334.7 84.3L334.7 85.0L334.8 85.7L334.9 86.4L334.9 87.2L335.0 87.9L335.1 88.6L335.2 89.4L335.2 90.1L335.3 90.8L335.4 91.5L335.5 92.3L335.6 93.0L335.7 93.7L335.8 94.5L335.9 95.2L336.0 95.9L336.1 96.6L336.2 97.4L336.3 98.1L336.5 98.8L336.6 99.5L336.7 100.3L336.9 101.0L337.0 101.7L337.2 102.5L337.3 103.2L337.5 103.9L337.7 104.6L337.9 105.4L338.0 106.1L338.2 106.8L338.4 107.6L338.7 108.3L338.8 108.7L339.0 109.0L339.5 109.7L340.1 110.5L340.7 111.2L341.4 111.9L342.2 112.6L343.1 113.4L344.1 114.1L345.2 114.8L346.5 115.6L347.9 116.3L349.6 117.0L351.6 117.7L353.9 118.5L356.6 119.2L357.6 119.4L376.4 119.2L385.3 119.9L394.2 120.7L395.3 120.7L400.3 121.4L405.3 122.1L409.6 122.8L413.4 123.6L414.1 123.7L414.7 123.6L417.8 122.8L420.2 122.1L422.2 121.4L423.9 120.7L425.3 119.9L426.5 119.2L427.5 118.5L428.4 117.7L429.2 117.0L429.9 116.3L430.5 115.6L431.1 114.8L431.6 114.1L432.0 113.4L432.4 112.6L432.8 111.9L432.9 111.6L433.0 111.2L433.1 110.5L433.3 109.7L433.4 109.0L433.5 108.3L433.6 107.6L433.7 106.8L433.9 106.1L434.0 105.4L434.1 104.6L434.1 103.9L434.2 103.2L434.3 102.5L434.4 101.7L434.5 101.0L434.6 100.3L434.6 99.5L434.7 98.8L434.8 98.1L434.8 97.4L434.9 96.6L434.9 95.9L435.0 95.2L435.0 94.5L435.1 93.7L435.1 93.0L435.2 92.3L435.2 91.5L435.2 90.8L435.3 90.1L435.3 89.4L435.3 88.6L435.4 87.9L435.4 87.2L435.4 86.4L435.4 85.7L435.4 85.0L435.4 84.3L435.5 83.5L435.5 82.8L435.5 82.1L435.5 81.3L435.5 80.6L435.5 79.9L435.5 79.2L435.5 78.4L435.5 77.7L435.5 77.0L435.5 76.3L435.4 75.5L435.4 74.8L435.4 74.1L435.4 73.3L435.4 72.6L435.3 71.9L435.3 71.2L435.3 70.4L435.2 69.7L435.2 69.0L435.2 68.2L435.1 67.5L435.1 66.8L435.0 66.1L435.0 65.3L434.9 64.6L434.8 63.9L434.8 63.2L434.7 62.4L434.6 61.7L434.6 61.0L434.5 60.2L434.4 59.5L434.3 58.8L434.2 58.1L434.1 57.3L434.0 56.6L433.9 55.9L433.8 55.1L433.6 54.4L433.5 53.7L433.4 53.0L433.2 52.2L433.0 51.5L432.9 50.9L432.9 50.8L432.8 50.1L432.7 49.3L432.5 48.6L432.4 47.9L432.3 47.1L432.2 46.4L432.1 45.7L431.9 45.0L431.8 44.2L431.7 43.5L431.5 42.8L431.4 42.0L431.3 41.3L431.1 40.6L431.0 39.9L430.9 39.1L430.7 38.4L430.6 37.7L430.5 37.0L430.3 36.2L430.2 35.5L430.1 34.8L430.0 34.0L429.9 33.3L429.8 32.6L429.8 31.9L429.7 31.1L429.6 30.4L429.6 29.7L429.5 28.9L429.5 28.2L429.5 27.5L429.4 26.8L429.4 26.0L429.4 25.3L429.4 24.6L429.4 23.9L429.4 23.1L429.4 22.4" fill="none" stroke="#000" stroke-opacity="0.16" stroke-width="0.55"/>
<path d="M342.6 22.4L342.6 23.1L342.6 23.9L342.6 24.6L342.6 25.3L342.6 26.0L342.7 26.8L342.7 27.5L342.7 28.2L342.8 28.9L342.8 29.7L342.9 30.4L342.9 31.1L343.0 31.9L343.0 32.6L343.1 33.3L343.1 34.0L343.1 34.8L343.1 35.5L343.2 36.2L343.2 37.0L343.2 37.7L343.2 38.4L343.2 39.1L343.1 39.9L343.1 40.6L343.0 41.3L343.0 42.0L342.9 42.8L342.8 43.5L342.8 44.2L342.7 45.0L342.6 45.7L342.6 46.4L342.5 47.1L342.4 47.9L342.4 48.6L342.3 49.3L342.2 50.1L342.2 50.8L342.1 51.5L342.0 52.2L342.0 53.0L341.9 53.7L341.9 54.4L341.8 55.1L341.8 55.9L341.7 56.6L341.7 57.3L341.7 58.1L341.6 58.8L341.6 59.5L341.6 60.2L341.5 61.0L341.5 61.7L341.5 62.4L341.5 63.2L341.5 63.9L341.5 64.6L341.5 65.3L341.5 66.1L341.5 66.8L341.5 67.5L341.5 68.2L341.5 69.0L341.5 69.7L341.5 70.4L341.6 71.2L341.6 71.9L341.6 72.6L341.7 73.3L341.7 74.1L341.8 74.8L341.9 75.5L341.9 76.3L342.0 77.0L342.1 77.7L342.2 78.4L342.2 79.2L342.3 79.9L342.4 80.6L342.6 81.3L342.7 82.1L342.8 82.8L342.9 83.5L343.1 84.3L343.2 85.0L343.4 85.7L343.6 86.4L343.8 87.2L344.0 87.9L344.2 88.6L344.4 89.4L344.6 90.1L344.9 90.8L345.1 91.5L345.4 92.3L345.7 93.0L346.0 93.7L346.4 94.5L346.7 95.2L347.1 95.9L347.5 96.6L348.0 97.4L348.4 98.1L348.9 98.8L349.4 99.5L350.0 100.3L350.6 101.0L351.2 101.7L351.9 102.5L352.6 103.2L353.4 103.9L354.2 104.6L355.1 105.4L356.1 106.1L357.2 106.8L357.6 107.1L359.8 107.6L363.9 108.3L368.7 109.0L374.4 109.7L376.4 110.0L383.4 110.5L393.5 111.2L395.3 111.3L399.0 111.2L413.3 110.5L414.1 110.4L415.0 109.7L415.9 109.0L416.7 108.3L417.5 107.6L418.2 106.8L418.8 106.1L419.4 105.4L420.0 104.6L420.5 103.9L421.0 103.2L421.5 102.5L421.9 101.7L422.3 101.0L422.7 100.3L423.1 99.5L423.4 98.8L423.7 98.1L424.0 97.4L424.3 96.6L424.5 95.9L424.8 95.2L425.0 94.5L425.2 93.7L425.4 93.0L425.6 92.3L425.8 91.5L425.9 90.8L426.1 90.1L426.2 89.4L426.4 88.6L426.5 87.9L426.6 87.2L426.7 86.4L426.8 85.7L426.9 85.0L427.0 84.3L427.1 83.5L427.2 82.8L427.2 82.1L427.3 81.3L427.3 80.6L427.4 79.9L427.4 79.2L427.5 78.4L427.5 77.7L427.5 77.0L427.5 76.3L427.5 75.5L427.6 74.8L427.6 74.1L427.6 73.3L427.6 72.6L427.6 71.9L427.5 71.2L427.5 70.4L427.5 69.7L427.5 69.0L427.5 68.2L427.4 67.5L427.4 66.8L427.3 66.1L427.3 65.3L427.3 64.6L427.2 63.9L427.1 63.2L427.1 62.4L427.0 61.7L427.0 61.0L426.9 60.2L426.8 59.5L426.7 58.8L426.7 58.1L426.6 57.3L426.5 56.6L426.4 55.9L426.3 55.1L426.2 54.4L426.1 53.7L426.0 53.0L425.9 52.2L425.8 51.5L425.7 50.8L425.5 50.1L425.4 49.3L425.3 48.6L425.2 47.9L425.0 47.1L424.9 46.4L424.8 45.7L424.6 45.0L424.5 44.2L424.3 43.5L424.2 42.8L424.1 42.0L423.9 41.3L423.8 40.6L423.7 39.9L423.5 39.1L423.4 38.4L423.3 37.7L423.2 37.0L423.1 36.2L423.1 35.5L423.1 34.8L423.1 34.0L423.1 33.3L423.0 32.6L423.0 31.9L423.1 31.1L423.1 30.4L423.1 29.7L423.1 28.9L423.1 28.2L423.1 27.5L423.1 26.8L423.1 26.0L423.1 25.3L423.1 24.6L423.1 23.9L423.1 23.1L423.1 22.4" fill="none" stroke="#000" stroke-opacity="0.16" stroke-width="0.55"/>
<path d="M348.1 22.4L348.1 23.1L348.1 23.9L348.1 24.6L348.1 25.3L348.1 26.0L348.2 26.8L348.2 27.5L348.3 28.2L348.3 28.9L348.4 29.7L348.4 30.4L348.5 31.1L348.6 31.9L348.7 32.6L348.7 33.3L348.8 34.0L348.9 34.8L349.0 35.5L349.1 36.2L349.2 37.0L349.3 37.7L349.4 38.4L349.5 39.1L349.6 39.9L349.6 40.6L349.6 41.3L349.5 42.0L349.5 42.8L349.5 43.5L349.4 44.2L349.4 45.0L349.3 45.7L349.3 46.4L349.2 47.1L349.2 47.9L349.1 48.6L349.1 49.3L349.0 50.1L349.0 50.8L349.0 51.5L348.9 52.2L348.9 53.0L348.8 53.7L348.8 54.4L348.8 55.1L348.8 55.9L348.7 56.6L348.7 57.3L348.7 58.1L348.7 58.8L348.7 59.5L348.7 60.2L348.7 61.0L348.7 61.7L348.7 62.4L348.8 63.2L348.8 63.9L348.8 64.6L348.9 65.3L348.9 66.1L348.9 66.8L349.0 67.5L349.1 68.2L349.1 69.0L349.2 69.7L349.3 70.4L349.4 71.2L349.5 71.9L349.6 72.6L349.7 73.3L349.8 74.1L349.9 74.8L350.1 75.5L350.2 76.3L350.4 77.0L350.5 77.7L350.7 78.4L350.9 79.2L351.1 79.9L351.3 80.6L351.5 81.3L351.8 82.1L352.0 82.8L352.3 83.5L352.6 84.3L352.8 85.0L353.2 85.7L353.5 86.4L353.8 87.2L354.2 87.9L354.6 88.6L355.0 89.4L355.4 90.1L355.8 90.8L356.3 91.5L356.8 92.3L357.3 93.0L357.6 93.4L358.2 93.7L359.4 94.5L360.8 95.2L362.4 95.9L364.0 96.6L365.8 97.4L367.7 98.1L369.8 98.8L372.1 99.5L374.7 100.3L376.4 100.7L381.2 101.0L393.9 101.7L395.3 101.8L395.6 101.7L398.7 101.0L401.3 100.3L403.6 99.5L405.7 98.8L407.5 98.1L409.2 97.4L410.6 96.6L411.9 95.9L413.1 95.2L414.1 94.5L414.1 94.5L414.5 93.7L414.9 93.0L415.3 92.3L415.6 91.5L415.9 90.8L416.2 90.1L416.5 89.4L416.8 88.6L417.0 87.9L417.3 87.2L417.5 86.4L417.7 85.7L417.9 85.0L418.1 84.3L418.3 83.5L418.4 82.8L418.6 82.1L418.7 81.3L418.9 80.6L419.0 79.9L419.1 79.2L419.2 78.4L419.3 77.7L419.4 77.0L419.5 76.3L419.6 75.5L419.6 74.8L419.7 74.1L419.8 73.3L419.8 72.6L419.8 71.9L419.9 71.2L419.9 70.4L419.9 69.7L419.9 69.0L419.9 68.2L419.9 67.5L419.9 66.8L419.9 66.1L419.9 65.3L419.9 64.6L419.8 63.9L419.8 63.2L419.8 62.4L419.7 61.7L419.7 61.0L419.6 60.2L419.5 59.5L419.5 58.8L419.4 58.1L419.3 57.3L419.2 56.6L419.2 55.9L419.1 55.1L419.0 54.4L418.9 53.7L418.8 53.0L418.6 52.2L418.5 51.5L418.4 50.8L418.3 50.1L418.2 49.3L418.0 48.6L417.9 47.9L417.8 47.1L417.6 46.4L417.5 45.7L417.3 45.0L417.2 44.2L417.0 43.5L416.9 42.8L416.7 42.0L416.6 41.3L416.5 40.6L416.3 39.9L416.2 39.1L416.1 38.4L416.0 37.7L415.9 37.0L415.9 36.2L416.0 35.5L416.0 34.8L416.1 34.0L416.2 33.3L416.2 32.6L416.3 31.9L416.4 31.1L416.5 30.4L416.6 29.7L416.7 28.9L416.7 28.2L416.7 27.5L416.8 26.8L416.8 26.0L416.8 25.3L416.8 24.6L416.8 23.9L416.8 23.1L416.8 22.4" fill="none" stroke="#000" stroke-opacity="0.16" stroke-width="0.55"/>
<path d="M353.6 22.4L353.6 23.1L353.6 23.9L353.6 24.6L353.6 25.3L353.7 26.0L353.7 26.8L353.8 27.5L353.8 28.2L353.9 28.9L353.9 29.7L354.0 30.4L354.1 31.1L354.2 31.9L354.3 32.6L354.4 33.3L354.5 34.0L354.7 34.8L354.9 35.5L355.1 36.2L355.3 37.0L355.5 37.7L355.7 38.4L355.9 39.1L356.0 39.9L356.0 40.6L356.1 41.3L356.1 42.0L356.1 42.8L356.1 43.5L356.1 44.2L356.1 45.0L356.0 45.7L356.0 46.4L356.0 47.1L355.9 47.9L355.9 48.6L355.9 49.3L355.9 50.1L355.8 50.8L355.8 51.5L355.8 52.2L355.8 53.0L355.8 53.7L355.7 54.4L355.7 55.1L355.7 55.9L355.7 56.6L355.8 57.3L355.8 58.1L355.8 58.8L355.8 59.5L355.8 60.2L355.9 61.0L355.9 61.7L356.0 62.4L356.0 63.2L356.1 63.9L356.2 64.6L356.3 65.3L356.3 66.1L356.4 66.8L356.5 67.5L356.7 68.2L356.8 69.0L356.9 69.7L357.0 70.4L357.2 71.2L357.4 71.9L357.5 72.6L357.6 73.0L357.8 73.3L358.1 74.1L358.5 74.8L358.9 75.5L359.3 76.3L359.7 77.0L360.2 77.7L360.7 78.4L361.3 79.2L361.8 79.9L362.5 80.6L363.1 81.3L363.8 82.1L364.6 82.8L365.4 83.5L366.2 84.3L367.1 85.0L368.0 85.7L369.1 86.4L370.1 87.2L371.3 87.9L372.5 88.6L373.8 89.4L375.2 90.1L376.4 90.7L381.1 90.8L395.3 91.2L396.1 90.8L397.4 90.1L398.6 89.4L399.7 88.6L400.7 87.9L401.6 87.2L402.5 86.4L403.3 85.7L404.1 85.0L404.8 84.3L405.4 83.5L406.0 82.8L406.6 82.1L407.1 81.3L407.6 80.6L408.0 79.9L408.4 79.2L408.8 78.4L409.1 77.7L409.4 77.0L409.7 76.3L410.0 75.5L410.2 74.8L410.5 74.1L410.7 73.3L410.8 72.6L411.0 71.9L411.2 71.2L411.3 70.4L411.4 69.7L411.5 69.0L411.6 68.2L411.7 67.5L411.7 66.8L411.8 66.1L411.8 65.3L411.8 64.6L411.8 63.9L411.8 63.2L411.8 62.4L411.8 61.7L411.8 61.0L411.7 60.2L411.7 59.5L411.6 58.8L411.6 58.1L411.5 57.3L411.4 56.6L411.4 55.9L411.3 55.1L411.2 54.4L411.1 53.7L411.0 53.0L410.9 52.2L410.8 51.5L410.6 50.8L410.5 50.1L410.4 49.3L410.3 48.6L410.2 47.9L410.1 47.1L409.9 46.4L409.8 45.7L409.7 45.0L409.6 44.2L409.5 43.5L409.4 42.8L409.4 42.0L409.3 41.3L409.3 40.6L409.2 39.9L409.3 39.1L409.3 38.4L409.4 37.7L409.4 37.0L409.5 36.2L409.6 35.5L409.7 34.8L409.8 34.0L409.9 33.3L410.0 32.6L410.2 31.9L410.3 31.1L410.4 30.4L410.5 29.7L410.6 28.9L410.6 28.2L410.7 27.5L410.7 26.8L410.8 26.0L410.8 25.3L410.8 24.6L410.8 23.9L410.9 23.1L410.9 22.4" fill="none" stroke="#000" stroke-opacity="0.16" stroke-width="0.55"/>
<path d="M359.6 22.4L359.6 23.1L359.6 23.9L359.6 24.6L359.7 25.3L359.7 26.0L359.8 26.8L359.9 27.5L360.0 28.2L360.1 28.9L360.2 29.7L360.3 30.4L360.4 31.1L360.6 31.9L360.7 32.6L360.9 33.3L361.1 34.0L361.4 34.8L361.7 35.5L362.0 36.2L362.3 37.0L362.6 37.7L363.0 38.4L363.3 39.1L363.7 39.9L364.0 40.6L364.3 41.3L364.4 42.0L364.6 42.8L364.7 43.5L364.8 44.2L364.8 45.0L364.9 45.7L364.9 46.4L365.0 47.1L365.0 47.9L365.1 48.6L365.1 49.3L365.1 50.1L365.2 50.8L365.2 51.5L365.2 52.2L365.3 53.0L365.4 53.7L365.4 54.4L365.5 55.1L365.6 55.9L365.7 56.6L365.7 57.3L365.9 58.1L366.0 58.8L366.1 59.5L366.3 60.2L366.4 61.0L366.6 61.7L366.8 62.4L367.0 63.2L367.2 63.9L367.4 64.6L367.7 65.3L368.0 66.1L368.3 66.8L368.6 67.5L368.9 68.2L369.3 69.0L369.6 69.7L370.0 70.4L370.5 71.2L370.9 71.9L371.4 72.6L371.9 73.3L372.5 74.1L373.1 74.8L373.7 75.5L374.3 76.3L375.0 77.0L375.8 77.7L376.4 78.3L393.9 77.7L395.3 77.7L395.8 77.0L396.3 76.3L396.9 75.5L397.3 74.8L397.8 74.1L398.2 73.3L398.6 72.6L398.9 71.9L399.3 71.2L399.6 70.4L399.9 69.7L400.1 69.0L400.4 68.2L400.6 67.5L400.8 66.8L401.0 66.1L401.2 65.3L401.3 64.6L401.5 63.9L401.6 63.2L401.7 62.4L401.8 61.7L401.9 61.0L402.0 60.2L402.0 59.5L402.1 58.8L402.1 58.1L402.2 57.3L402.2 56.6L402.2 55.9L402.2 55.1L402.2 54.4L402.2 53.7L402.2 53.0L402.2 52.2L402.1 51.5L402.1 50.8L402.1 50.1L402.1 49.3L402.0 48.6L402.0 47.9L402.0 47.1L401.9 46.4L401.9 45.7L401.9 45.0L401.9 44.2L401.9 43.5L401.9 42.8L402.0 42.0L402.0 41.3L402.1 40.6L402.3 39.9L402.6 39.1L402.8 38.4L403.0 37.7L403.2 37.0L403.4 36.2L403.5 35.5L403.7 34.8L403.8 34.0L404.0 33.3L404.1 32.6L404.3 31.9L404.4 31.1L404.5 30.4L404.6 29.7L404.7 28.9L404.8 28.2L404.9 27.5L404.9 26.8L405.0 26.0L405.0 25.3L405.0 24.6L405.1 23.9L405.1 23.1L405.1 22.4" fill="none" stroke="#000" stroke-opacity="0.16" stroke-width="0.55"/>
<path d="M367.0 22.4L367.0 23.1L367.0 23.9L367.1 24.6L367.1 25.3L367.2 26.0L367.2 26.8L367.3 27.5L367.4 28.2L367.5 28.9L367.7 29.7L367.8 30.4L368.0 31.1L368.2 31.9L368.4 32.6L368.6 33.3L368.8 34.0L369.1 34.8L369.4 35.5L369.7 36.2L370.0 37.0L370.3 37.7L370.7 38.4L371.1 39.1L371.9 39.9L372.5 40.6L373.0 41.3L373.3 42.0L373.6 42.8L373.8 43.5L374.0 44.2L374.2 45.0L374.4 45.7L374.6 46.4L374.7 47.1L374.8 47.9L375.0 48.6L375.1 49.3L375.2 50.1L375.4 50.8L375.5 51.5L375.6 52.2L375.8 53.0L375.9 53.7L376.1 54.4L376.2 55.2L376.4 55.9L376.4 55.9L376.5 55.9L377.8 55.1L378.8 54.4L379.8 53.7L380.7 53.0L381.5 52.2L382.3 51.5L383.0 50.8L383.6 50.1L384.2 49.3L384.8 48.6L385.4 47.9L386.0 47.1L386.6 46.4L387.2 45.7L387.9 45.0L388.6 44.2L389.4 43.5L390.3 42.8L391.3 42.0L392.5 41.3L393.9 40.6L395.3 40.0L395.3 39.9L395.8 39.1L396.3 38.4L396.7 37.7L397.0 37.0L397.3 36.2L397.5 35.5L397.7 34.8L397.9 34.0L398.0 33.3L398.2 32.6L398.4 31.9L398.5 31.1L398.6 30.4L398.7 29.7L398.9 28.9L398.9 28.2L399.0 27.5L399.1 26.8L399.2 26.0L399.2 25.3L399.2 24.6L399.3 23.9L399.3 23.1L399.3 22.4" fill="none" stroke="#000" stroke-opacity="0.16" stroke-width="0.55"/>
<path d="M374.4 22.4L374.4 23.1L374.4 23.9L374.5 24.6L374.5 25.3L374.6 26.0L374.7 26.8L374.8 27.5L374.9 28.2L375.0 28.9L375.2 29.7L375.4 30.4L375.5 31.1L375.8 31.9L376.0 32.6L376.2 33.3L376.4 33.9L377.4 33.3L378.4 32.6L379.4 31.9L380.3 31.1L381.2 30.4L381.9 29.7L382.6 28.9L383.2 28.2L383.7 27.5L384.2 26.8L384.5 26.0L384.9 25.3L385.1 24.6L385.3 23.9L385.4 23.1L385.4 22.4" fill="none" stroke="#000" stroke-opacity="0.16" stroke-width="0.55"/>
<path d="M278.0 27.9C280.0 27.7 295.4 27.9 298.0 28.0C300.6 28.1 303.7 28.7 303.7 28.9C303.7 29.1 300.6 29.7 298.0 29.8C295.4 29.9 280.0 30.1 278.0 29.9C276.0 29.7 276.0 28.1 278.0 27.9Z" fill="#fdeaea"/>
<path d="M301.0 18.0C301.0 18.0 321.0 18.0 321.0 18.0C321.0 18.0 320.0 24.0 320.0 24.0C320.0 24.0 301.0 24.0 301.0 24.0C301.0 24.0 301.0 18.0 301.0 18.0Z" fill="#fdeaea"/>
<path d="M451.5 27.9C453.1 27.7 466.1 27.9 468.0 28.0C469.9 28.1 471.0 28.8 471.0 29.0C471.0 29.2 469.9 29.9 468.0 30.0C466.1 30.1 453.1 30.3 451.5 30.1C449.9 29.9 449.9 28.1 451.5 27.9Z" fill="#fdeaea"/>
<path d="M325.0 137.5C326.4 135.4 331.9 136.9 334.0 137.0C336.1 137.1 343.8 138.7 346.0 138.5C348.2 138.3 353.0 136.0 356.0 135.5C359.0 135.0 372.0 133.7 376.0 133.5C380.0 133.3 393.4 133.3 396.0 133.5C398.6 133.7 400.9 134.9 401.5 135.5C402.1 136.1 402.1 138.9 401.5 139.5C400.9 140.1 396.6 140.2 396.0 141.0C395.4 141.8 393.8 146.8 395.7 147.5C397.6 148.2 412.6 147.1 414.5 148.2C416.4 149.2 423.9 157.0 414.5 158.0C405.1 159.0 328.9 160.1 320.0 158.0C311.1 155.9 323.6 139.6 325.0 137.5Z" fill="#ecebf6"/>
<path d="M441.5 158.0C441.5 158.0 441.5 141.0 441.5 141.0C441.5 141.0 443.0 138.0 443.0 138.0C443.0 138.0 450.0 120.0 450.0 120.0C450.0 120.0 460.0 120.0 460.0 120.0C460.0 120.0 460.0 158.0 460.0 158.0C460.0 158.0 441.5 158.0 441.5 158.0Z" fill="#ecebf6"/>
<path d="M414.5 158.0C411.8 157.0 413.9 149.5 414.5 148.2C415.1 146.9 419.1 145.6 421.0 145.0C422.9 144.4 431.9 142.7 434.0 142.3C436.1 141.9 440.8 139.4 441.6 141.0C442.4 142.6 444.3 156.3 441.6 158.0C438.9 159.7 417.2 159.0 414.5 158.0Z" fill="#fdeaea"/>
<path d="M434.0 147.5C434.4 147.1 436.3 145.4 438.0 145.0C439.7 144.6 449.6 143.5 451.0 143.6C452.4 143.7 452.3 145.8 452.2 146.2C452.1 146.6 450.6 147.2 449.6 147.5C448.6 147.8 443.4 148.7 441.8 148.8C440.2 148.9 434.8 148.9 434.0 148.8C433.2 148.7 433.6 147.9 434.0 147.5Z" fill="#fdeaea"/>
<path d="M332.0 147.3C332.0 147.0 338.3 145.2 340.0 145.0C341.7 144.8 356.8 144.7 358.0 145.0C359.2 145.3 359.2 149.7 358.0 150.0C356.8 150.3 341.7 150.2 340.0 150.0C338.3 149.8 332.0 147.6 332.0 147.3Z" fill="#fdeaea"/>
<path d="M353.0 141.6C355.4 141.3 374.6 140.4 377.0 140.6C379.4 140.8 379.4 143.1 377.0 143.4C374.6 143.7 355.4 143.6 353.0 143.4C350.6 143.2 350.6 141.9 353.0 141.6Z" fill="#fdeaea"/>
</g>
<g clip-path="url(#clipc)">
<rect x="44.2" y="221.3" width="208.20" height="131.60" fill="#b8b9df"/>
<path d="M55.5 215.0C47.6 216.2 56.0 218.6 56.4 221.9C56.8 225.2 56.6 231.5 57.8 234.8C59.0 238.2 61.1 240.6 63.6 242.0C66.1 243.4 69.6 243.2 73.0 243.3C76.4 243.4 80.8 243.7 83.8 242.8C86.8 241.9 88.6 239.8 91.0 237.7C93.4 235.6 96.3 232.7 98.2 230.5C100.1 228.3 101.5 227.4 102.5 224.8C103.5 222.2 111.8 216.6 104.0 215.0C96.2 213.4 63.4 213.8 55.5 215.0Z" fill="#858bc9" stroke="#000" stroke-opacity="0.13" stroke-width="0.55"/>
<path d="M65.5 215.0C60.2 216.2 65.5 219.3 65.8 221.9C66.1 224.5 65.7 228.1 67.2 230.5C68.8 232.9 72.3 235.2 75.1 236.3C77.9 237.4 80.9 237.7 83.8 237.0C86.7 236.3 90.2 234.0 92.4 232.0C94.6 230.0 95.8 227.6 96.7 224.8C97.6 222.0 102.8 216.6 97.6 215.0C92.4 213.4 70.8 213.8 65.5 215.0Z" fill="#5866b7" stroke="#000" stroke-opacity="0.13" stroke-width="0.55"/>
<path d="M73.5 215.0C70.8 216.2 73.2 219.9 73.7 221.9C74.2 223.9 75.3 225.2 76.6 226.9C77.9 228.6 79.9 231.9 81.6 232.0C83.3 232.1 85.3 229.3 86.6 227.6C87.9 225.9 88.9 224.0 89.5 221.9C90.1 219.8 92.7 216.2 90.0 215.0C87.3 213.8 76.2 213.8 73.5 215.0Z" fill="#3c54ad" stroke="#000" stroke-opacity="0.13" stroke-width="0.55"/>
<path d="M107.5 215.0C82.1 216.2 107.8 219.3 107.5 221.9C107.2 224.5 107.2 227.4 105.4 230.5C103.6 233.6 100.1 237.7 96.7 240.6C93.3 243.5 87.8 245.4 85.2 247.8C82.6 250.2 81.1 252.6 80.9 255.0C80.7 257.4 83.1 259.6 83.8 262.2C84.5 264.8 85.2 268.0 85.2 270.6C85.2 273.2 85.0 275.4 83.8 277.8C82.6 280.2 79.1 283.3 78.0 285.0C76.9 286.7 76.8 286.6 77.3 287.9C77.8 289.2 79.8 291.1 80.9 293.0C82.0 294.9 82.8 296.9 83.8 299.4C84.8 301.9 85.4 305.6 86.6 308.0C87.8 310.4 89.8 311.2 91.0 313.6C92.2 316.0 92.6 319.4 93.8 322.3C95.0 325.2 96.5 328.5 98.2 330.9C99.9 333.3 102.5 334.5 103.9 336.7C105.3 338.9 106.2 341.3 106.8 343.9C107.4 346.5 107.4 349.8 107.5 352.5C107.6 355.2 82.1 358.8 107.5 360.0C132.9 361.2 234.6 384.2 260.0 360.0C285.4 335.8 285.4 239.2 260.0 215.0C234.6 190.8 132.9 213.8 107.5 215.0Z" fill="#e6e6f3" stroke="#000" stroke-opacity="0.13" stroke-width="0.55"/>
<path d="M38.0 215.0C40.8 211.7 52.1 213.8 55.0 215.0C57.9 216.2 55.5 219.5 55.5 222.0C55.5 224.5 55.6 228.0 55.0 230.0C54.4 232.0 53.8 233.2 52.0 234.0C50.2 234.8 46.5 234.8 44.2 235.0C41.9 235.2 39.0 238.3 38.0 235.0C37.0 231.7 35.2 218.3 38.0 215.0Z" fill="#e6e6f3" stroke="#000" stroke-opacity="0.13" stroke-width="0.55"/>
<path d="M38.0 257.5C39.0 255.4 42.7 257.5 44.2 258.0C45.7 258.5 46.3 259.5 47.0 260.5C47.7 261.5 48.4 262.8 48.5 264.0C48.6 265.2 48.2 266.5 47.5 267.5C46.8 268.5 45.8 269.5 44.2 270.0C42.6 270.5 39.0 272.6 38.0 270.5C37.0 268.4 37.0 259.6 38.0 257.5Z" fill="#e6e6f3" stroke="#000" stroke-opacity="0.13" stroke-width="0.55"/>
<path d="M38.0 315.0C39.0 307.8 42.5 314.8 44.2 316.5C46.0 318.2 47.4 322.3 48.5 325.2C49.6 328.1 50.0 330.7 50.6 333.8C51.2 336.9 51.7 340.8 52.1 343.9C52.5 347.0 52.7 349.8 52.8 352.5C52.9 355.2 55.3 358.8 52.8 360.0C50.3 361.2 40.5 367.5 38.0 360.0C35.5 352.5 37.0 322.2 38.0 315.0Z" fill="#e6e6f3" stroke="#000" stroke-opacity="0.13" stroke-width="0.55"/>
<path d="M112.6 215.0C88.0 216.2 112.8 218.8 112.6 221.9C112.3 225.0 111.8 229.8 111.1 233.4C110.4 237.0 109.2 240.4 108.2 243.5C107.2 246.6 105.5 249.2 105.4 252.1C105.3 255.0 107.4 256.8 107.5 260.8C107.6 264.9 106.4 271.4 106.1 276.4C105.8 281.4 105.9 287.0 105.4 290.8C104.9 294.6 103.2 296.5 103.2 299.4C103.2 302.3 104.6 305.9 105.4 308.0C106.2 310.1 107.1 310.9 108.2 312.2C109.3 313.4 110.1 314.1 112.0 315.5C113.9 316.9 117.1 319.3 119.6 320.8C122.1 322.3 124.8 323.4 127.0 324.4C129.2 325.4 131.1 326.1 133.0 327.0C134.9 327.9 137.3 327.9 138.5 329.5C139.7 331.1 140.3 334.4 140.2 336.5C140.1 338.6 139.7 340.5 138.0 342.0C136.3 343.5 131.8 344.6 130.0 345.5C128.2 346.4 127.0 346.8 127.0 347.5C127.0 348.2 128.5 349.3 130.0 350.0C131.5 350.7 134.5 351.0 136.0 351.5C137.5 352.0 138.5 351.6 139.0 353.0C139.5 354.4 118.8 358.8 139.0 360.0C159.2 361.2 239.8 384.2 260.0 360.0C280.2 335.8 284.6 239.2 260.0 215.0C235.4 190.8 137.2 213.8 112.6 215.0Z" fill="#fce4e4" stroke="#000" stroke-opacity="0.13" stroke-width="0.55"/>
<path d="M117.5 215.0C93.8 216.2 117.6 218.3 117.5 221.9C117.4 225.5 116.7 232.0 116.8 236.3C116.9 240.6 117.4 244.5 118.2 247.8C119.0 251.2 121.0 254.0 121.8 256.4C122.6 258.8 123.2 259.6 123.2 262.0C123.2 264.4 122.0 267.2 121.8 270.6C121.6 274.0 121.9 278.4 121.8 282.2C121.7 286.0 121.3 289.9 121.1 293.7C120.9 297.5 119.7 302.1 120.4 305.0C121.1 307.9 123.4 308.9 125.4 310.8C127.4 312.7 130.2 314.6 132.6 316.5C135.0 318.4 137.1 320.6 140.0 322.0C142.9 323.4 146.7 324.0 150.0 325.0C153.3 326.0 156.7 326.7 160.0 328.0C163.3 329.3 166.7 331.3 170.0 333.0C173.3 334.7 175.8 336.5 180.0 338.0C184.2 339.5 191.2 341.0 195.0 342.0C198.8 343.0 201.2 342.8 203.0 344.0C204.8 345.2 205.3 347.5 206.0 349.0C206.7 350.5 206.8 351.2 207.0 353.0C207.2 354.8 199.8 358.8 207.0 360.0C214.2 361.2 242.9 361.3 250.0 360.0C257.1 358.7 250.0 355.6 249.8 352.0C249.6 348.4 249.7 342.4 249.0 338.5C248.3 334.6 247.6 331.5 245.6 328.4C243.6 325.3 239.5 322.7 237.2 320.0C234.9 317.3 232.4 314.7 231.8 312.4C231.2 310.1 233.2 309.0 233.5 306.0C233.8 303.0 233.5 298.7 233.3 294.6C233.1 290.5 232.0 285.1 232.5 281.2C233.0 277.2 235.0 274.1 236.2 270.9C237.4 267.7 238.9 264.2 239.9 262.0C240.9 259.8 241.3 260.2 242.2 257.5C243.1 254.8 244.1 249.5 245.1 245.6C246.1 241.7 247.1 236.7 248.1 233.8C249.1 230.9 250.2 229.2 251.0 228.0C251.8 226.8 251.5 226.8 253.0 226.5C254.5 226.2 258.8 227.9 260.0 226.0C261.2 224.1 283.8 216.8 260.0 215.0C236.2 213.2 141.2 213.8 117.5 215.0Z" fill="#f5babc" stroke="#000" stroke-opacity="0.13" stroke-width="0.55"/>
<path d="M142.0 356.0C137.7 354.7 142.7 350.2 144.0 348.0C145.3 345.8 147.7 344.2 150.0 343.0C152.3 341.8 155.5 341.0 158.0 341.0C160.5 341.0 163.3 341.8 165.0 343.0C166.7 344.2 167.2 345.8 168.0 348.0C168.8 350.2 174.3 354.7 170.0 356.0C165.7 357.3 146.3 357.3 142.0 356.0Z" fill="#f5babc" stroke="#000" stroke-opacity="0.13" stroke-width="0.55"/>
<path d="M127.6 215.0C114.0 216.2 127.5 218.8 127.6 221.9C127.7 225.0 127.6 229.6 128.3 233.4C129.0 237.2 130.7 241.5 131.9 244.9C133.1 248.3 134.7 250.8 135.5 253.6C136.3 256.4 136.7 258.7 136.9 262.0C137.1 265.3 136.5 269.7 136.9 273.5C137.3 277.3 139.2 281.1 139.1 285.0C139.0 288.9 137.0 293.3 136.2 296.6C135.3 299.9 133.4 302.4 134.0 305.0C134.6 307.6 137.0 309.9 139.8 312.2C142.6 314.4 147.2 316.7 150.8 318.5C154.4 320.3 158.4 321.5 161.6 323.0C164.8 324.5 166.9 325.8 170.0 327.5C173.1 329.2 177.2 331.2 180.0 333.0C182.8 334.8 183.4 336.6 186.8 338.0C190.2 339.4 196.9 340.0 200.3 341.5C203.7 343.0 205.5 345.1 207.0 347.0C208.5 348.9 209.1 350.8 209.5 353.0C209.9 355.2 203.8 358.8 209.5 360.0C215.2 361.2 238.2 361.3 244.0 360.0C249.8 358.7 244.3 355.6 244.0 352.0C243.7 348.4 243.7 342.4 242.3 338.5C240.9 334.6 238.6 331.5 235.5 328.4C232.4 325.3 226.6 322.7 223.8 320.0C221.0 317.3 219.3 314.7 218.5 312.4C217.7 310.1 218.9 308.5 219.2 306.0C219.4 303.5 220.0 300.9 220.0 297.5C220.0 294.1 218.7 289.6 219.2 285.7C219.7 281.8 222.0 277.6 222.9 273.8C223.8 270.0 224.7 266.0 224.4 263.0C224.2 260.0 221.7 258.4 221.4 256.0C221.2 253.6 220.9 250.8 222.9 248.6C224.9 246.4 231.7 244.7 233.3 242.7C234.9 240.7 235.7 237.7 232.5 236.8C229.3 235.9 217.8 240.0 214.0 237.5C210.2 235.0 210.4 225.8 209.6 222.0C208.8 218.2 222.7 216.2 209.0 215.0C195.3 213.8 141.2 213.8 127.6 215.0Z" fill="#f08f92" stroke="#000" stroke-opacity="0.13" stroke-width="0.55"/>
<path d="M141.0 215.0C131.6 216.2 140.9 218.8 141.2 221.9C141.5 225.0 141.8 230.1 142.7 233.4C143.5 236.8 144.8 239.1 146.3 242.0C147.9 244.9 150.7 247.8 152.0 250.7C153.3 253.6 153.9 257.4 154.2 259.3C154.4 261.2 153.7 259.6 153.5 262.0C153.3 264.4 152.9 269.2 152.8 273.5C152.7 277.8 153.1 283.6 152.8 287.9C152.6 292.2 151.8 296.5 151.3 299.4C150.8 302.2 149.4 303.5 149.9 305.0C150.4 306.5 152.2 307.2 154.4 308.6C156.7 310.0 160.8 311.7 163.4 313.1C166.0 314.5 167.9 315.5 170.0 317.0C172.1 318.5 174.0 319.8 176.0 322.0C178.0 324.2 179.4 327.5 182.0 330.0C184.6 332.5 188.2 335.2 191.8 337.0C195.4 338.8 200.5 338.9 203.6 340.5C206.7 342.1 208.9 344.4 210.3 346.5C211.7 348.6 211.7 350.8 212.0 353.0C212.3 355.2 207.6 358.8 212.0 360.0C216.4 361.2 234.2 361.3 238.5 360.0C242.8 358.7 238.4 354.8 238.1 352.0C237.8 349.2 237.7 346.3 236.4 343.5C235.1 340.7 233.2 337.9 230.5 335.1C227.8 332.3 223.9 329.0 220.4 326.7C216.9 324.4 212.4 323.7 209.6 321.3C206.8 318.9 204.8 315.1 203.7 312.4C202.6 309.7 203.2 307.7 202.9 305.0C202.7 302.3 202.4 299.2 202.2 296.0C202.0 292.8 200.8 288.6 201.5 285.7C202.2 282.8 205.1 281.0 206.6 278.3C208.1 275.6 210.5 272.1 210.3 269.4C210.1 266.7 206.5 264.0 205.2 262.0C203.8 260.0 203.1 259.7 202.2 257.5C201.3 255.3 200.1 252.5 200.0 248.6C199.9 244.7 201.9 238.2 201.5 233.8C201.1 229.4 198.5 225.1 197.8 222.0C197.1 218.9 207.0 216.2 197.5 215.0C188.0 213.8 150.4 213.8 141.0 215.0Z" fill="#eb6a6c" stroke="#000" stroke-opacity="0.13" stroke-width="0.55"/>
<path d="M191.8 322.8C192.4 321.6 193.6 320.9 194.8 321.3C196.0 321.7 197.9 323.6 199.2 325.2C200.5 326.8 202.5 329.7 202.5 331.0C202.5 332.3 200.5 333.0 199.0 333.2C197.5 333.4 194.8 332.8 193.5 332.0C192.2 331.2 191.3 330.0 191.0 328.5C190.7 327.0 191.2 324.0 191.8 322.8Z" fill="#e64648" stroke="#000" stroke-opacity="0.13" stroke-width="0.55"/>
<path d="M212.6 335.3C212.9 334.9 214.1 335.1 214.6 335.8C215.1 336.5 215.6 338.7 215.5 339.5C215.4 340.3 214.7 341.0 214.3 340.8C213.9 340.6 213.3 339.4 213.0 338.5C212.7 337.6 212.3 335.8 212.6 335.3Z" fill="#e64648" stroke="#000" stroke-opacity="0.13" stroke-width="0.55"/>
<path d="M176.0 356.0C171.5 354.7 176.7 349.9 178.0 348.0C179.3 346.1 181.7 345.3 184.0 344.5C186.3 343.7 189.3 343.2 192.0 343.3C194.7 343.4 198.0 344.1 200.0 345.0C202.0 345.9 203.2 347.2 204.0 349.0C204.8 350.8 209.7 354.8 205.0 356.0C200.3 357.2 180.5 357.3 176.0 356.0Z" fill="#e6e6f3" stroke="#000" stroke-opacity="0.13" stroke-width="0.55"/>
<path d="M183.0 356.0C180.5 354.9 184.5 351.0 186.0 349.5C187.5 348.0 190.0 347.2 192.0 347.0C194.0 346.8 196.5 347.7 198.0 348.5C199.5 349.3 200.5 350.8 201.0 352.0C201.5 353.2 204.0 355.3 201.0 356.0C198.0 356.7 185.5 357.1 183.0 356.0Z" fill="#b8b9df" stroke="#000" stroke-opacity="0.13" stroke-width="0.55"/>
<path d="M188.0 356.0C186.5 355.2 189.0 352.5 190.0 351.5C191.0 350.5 192.7 350.0 194.0 350.0C195.3 350.0 197.2 350.5 198.0 351.5C198.8 352.5 200.7 355.2 199.0 356.0C197.3 356.8 189.5 356.8 188.0 356.0Z" fill="#858bc9" stroke="#000" stroke-opacity="0.13" stroke-width="0.55"/>
<path d="M191.0 356.0C190.3 355.4 192.2 353.1 193.0 352.5C193.8 351.9 195.3 351.9 196.0 352.5C196.7 353.1 197.8 355.4 197.0 356.0C196.2 356.6 191.7 356.6 191.0 356.0Z" fill="#5866b7" stroke="#000" stroke-opacity="0.13" stroke-width="0.55"/>
<path d="M256.0 270.0C255.4 264.6 253.8 271.0 252.5 272.4C251.2 273.8 249.1 275.8 248.1 278.3C247.1 280.8 246.3 283.8 246.6 287.2C246.8 290.6 248.6 296.3 249.6 299.0C250.6 301.7 251.4 302.4 252.5 303.4C253.6 304.4 255.4 310.6 256.0 305.0C256.6 299.4 256.6 275.4 256.0 270.0Z" fill="#e6e6f3" stroke="#000" stroke-opacity="0.13" stroke-width="0.55"/>
<path d="M44.5 221.5C44.5 221.5 63.0 221.5 63.0 221.5C63.0 221.5 63.0 234.0 63.0 234.0C63.0 234.0 44.5 234.0 44.5 234.0C44.5 234.0 44.5 221.5 44.5 221.5Z" fill="url(#stip)"/>
<path d="M101.0 243.5C101.0 243.5 120.0 243.5 120.0 243.5C120.0 243.5 120.0 254.3 120.0 254.3C120.0 254.3 101.0 254.3 101.0 254.3C101.0 254.3 101.0 243.5 101.0 243.5Z" fill="url(#stip)"/>
<path d="M119.3 320.0C119.3 320.0 139.1 320.0 139.1 320.0C139.1 320.0 139.1 324.4 139.1 324.4C139.1 324.4 119.3 324.4 119.3 324.4C119.3 324.4 119.3 320.0 119.3 320.0Z" fill="url(#stip)"/>
<path d="M138.5 326.2C138.5 326.2 177.0 326.2 177.0 326.2C177.0 326.2 177.0 332.3 177.0 332.3C177.0 332.3 138.5 332.3 138.5 332.3C138.5 332.3 138.5 326.2 138.5 326.2Z" fill="url(#stip)"/>
<path d="M138.5 332.3C138.5 332.3 158.5 332.3 158.5 332.3C158.5 332.3 158.5 346.2 158.5 346.2C158.5 346.2 138.5 346.2 138.5 346.2C138.5 346.2 138.5 332.3 138.5 332.3Z" fill="url(#stip)"/>
<path d="M118.5 346.2C118.5 346.2 158.5 346.2 158.5 346.2C158.5 346.2 158.5 352.5 158.5 352.5C158.5 352.5 118.5 352.5 118.5 352.5C118.5 352.5 118.5 346.2 118.5 346.2Z" fill="url(#stip)"/>
<path d="M175.5 341.6C175.5 341.6 207.8 341.6 207.8 341.6C207.8 341.6 207.8 352.5 207.8 352.5C207.8 352.5 175.5 352.5 175.5 352.5C175.5 352.5 175.5 341.6 175.5 341.6Z" fill="url(#stip)"/>
</g>
<g clip-path="url(#clipd)">
<rect x="283.1" y="221.3" width="207.80" height="131.80" fill="#3c54ad"/>
<path d="M289.0 215.0C282.2 216.2 288.9 218.5 289.0 222.0C289.1 225.5 288.8 232.6 289.5 236.0C290.2 239.4 291.1 241.0 293.0 242.5C294.9 244.0 298.2 244.6 301.0 245.0C303.8 245.4 307.2 245.1 310.0 244.7C312.8 244.2 315.7 243.4 318.0 242.3C320.3 241.2 322.0 239.8 323.6 238.3C325.2 236.8 326.8 234.8 327.7 233.1C328.6 231.4 328.7 230.0 329.0 228.0C329.3 226.0 329.3 223.5 329.5 221.3C329.7 219.1 336.8 216.1 330.0 215.0C323.2 213.9 295.8 213.8 289.0 215.0Z" fill="#2c48a4" stroke="#000" stroke-opacity="0.13" stroke-width="0.55"/>
<path d="M292.5 215.0C286.8 216.2 292.4 219.0 292.5 222.0C292.6 225.0 292.2 230.2 293.0 233.0C293.8 235.8 295.0 237.6 297.0 239.0C299.0 240.4 302.3 241.2 305.0 241.5C307.7 241.8 310.5 241.5 313.0 241.0C315.5 240.5 318.1 239.6 320.0 238.3C321.9 237.0 323.4 234.9 324.5 233.0C325.6 231.1 326.1 228.8 326.5 227.0C326.9 225.2 326.9 224.0 327.0 222.0C327.1 220.0 332.8 216.2 327.0 215.0C321.2 213.8 298.2 213.8 292.5 215.0Z" fill="#1c4a9c" stroke="#000" stroke-opacity="0.13" stroke-width="0.55"/>
<path d="M278.0 215.0C279.2 212.1 284.2 212.8 285.5 215.0C286.8 217.2 285.6 225.3 285.5 228.0C285.4 230.7 285.4 230.2 285.0 231.0C284.6 231.8 284.3 232.2 283.1 232.5C281.9 232.8 278.9 235.4 278.0 232.5C277.1 229.6 276.8 217.9 278.0 215.0Z" fill="#5866b7" stroke="#000" stroke-opacity="0.13" stroke-width="0.55"/>
<path d="M331.5 215.0C303.3 216.1 331.2 219.0 331.0 221.3C330.8 223.6 330.4 226.2 330.0 228.6C329.6 231.0 329.1 234.1 328.5 236.0C327.9 237.9 327.7 239.0 326.7 240.0C325.7 241.0 324.6 241.1 322.5 242.1C320.4 243.1 317.3 244.8 314.2 246.2C311.1 247.6 307.4 249.2 303.8 250.4C300.2 251.6 295.1 251.8 292.4 253.5C289.7 255.2 288.5 258.7 287.7 260.8C286.9 262.9 287.6 264.3 287.5 266.0C287.4 267.7 286.9 268.9 287.2 271.2C287.5 273.5 289.3 277.2 289.5 279.9C289.7 282.6 288.6 284.8 288.5 287.2C288.4 289.6 288.8 292.1 289.0 294.5C289.2 296.9 289.4 300.1 289.5 301.8C289.6 303.6 289.7 301.6 289.9 305.0C290.1 308.4 289.8 316.5 290.7 322.2C291.6 327.9 293.4 334.2 295.0 339.4C296.6 344.6 299.2 349.8 300.2 353.2C301.2 356.6 270.4 358.9 301.0 360.0C331.6 361.1 453.7 361.9 484.0 360.0C514.3 358.1 482.8 355.5 483.0 348.8C483.2 342.1 485.3 327.5 485.3 319.8C485.3 312.1 483.8 308.0 483.0 302.4C482.2 296.8 480.7 290.1 480.5 286.0C480.3 281.9 480.9 280.4 481.6 277.7C482.4 275.0 483.5 272.4 485.0 269.8C486.5 267.2 488.1 263.9 490.6 261.9C493.1 259.9 498.4 265.8 500.0 258.0C501.6 250.2 528.1 222.2 500.0 215.0C471.9 207.8 359.7 213.9 331.5 215.0Z" fill="#5866b7" stroke="#000" stroke-opacity="0.13" stroke-width="0.55"/>
<path d="M333.0 215.0C305.1 216.1 332.9 218.8 332.7 221.3C332.4 223.8 332.0 227.4 331.5 230.0C331.0 232.6 330.1 235.3 329.5 237.0C328.9 238.7 328.3 239.2 327.7 240.0C327.1 240.8 327.0 240.9 325.6 242.1C324.2 243.3 321.6 245.8 319.4 247.3C317.1 248.9 314.7 249.8 312.1 251.4C309.5 253.0 305.7 254.7 303.8 256.6C301.9 258.5 301.1 260.5 300.7 262.9C300.3 265.3 302.1 268.4 301.7 271.2C301.3 274.0 298.8 277.2 298.5 279.9C298.2 282.6 299.4 284.8 300.0 287.2C300.6 289.6 301.8 292.1 302.0 294.5C302.2 296.9 301.5 300.1 301.5 301.8C301.5 303.6 301.4 301.6 301.9 305.0C302.4 308.4 303.4 316.5 304.5 322.2C305.6 327.9 306.9 334.2 308.8 339.4C310.7 344.6 314.3 349.8 315.7 353.2C317.1 356.6 290.9 358.9 317.0 360.0C343.1 361.1 446.6 361.9 472.5 360.0C498.4 358.1 471.9 355.5 472.5 348.8C473.1 342.1 476.0 327.5 476.0 319.8C476.0 312.1 473.3 308.2 472.5 302.4C471.7 296.6 471.1 289.9 471.3 285.0C471.5 280.1 472.7 276.7 473.7 273.2C474.7 269.7 475.6 267.1 477.1 264.1C478.6 261.1 480.4 257.7 482.7 255.1C484.9 252.5 487.7 249.8 490.6 248.3C493.5 246.8 498.4 251.6 500.0 246.0C501.6 240.4 527.8 220.2 500.0 215.0C472.2 209.8 360.9 213.9 333.0 215.0Z" fill="#858bc9" stroke="#000" stroke-opacity="0.13" stroke-width="0.55"/>
<path d="M335.0 215.0C307.5 216.1 335.1 218.8 334.8 221.3C334.6 223.8 334.1 227.4 333.5 230.0C332.9 232.6 332.1 235.3 331.5 237.0C330.9 238.7 330.2 239.2 329.8 240.0C329.4 240.8 329.8 240.9 328.8 242.1C327.8 243.3 325.5 245.8 323.6 247.3C321.7 248.9 319.4 249.8 317.3 251.4C315.2 253.0 312.5 254.7 311.1 256.6C309.7 258.5 309.2 260.5 309.0 262.9C308.8 265.3 310.3 268.4 310.0 271.2C309.7 274.0 307.3 277.2 307.1 279.9C306.9 282.6 308.2 284.8 309.0 287.2C309.8 289.6 311.8 292.1 312.0 294.5C312.2 296.9 310.1 300.1 310.0 301.8C309.9 303.6 310.9 301.6 311.4 305.0C311.9 308.4 311.8 317.0 313.1 322.2C314.4 327.4 316.4 332.0 319.1 336.0C321.8 340.0 327.1 343.4 329.4 346.3C331.7 349.2 332.1 350.9 332.9 353.2C333.7 355.5 311.7 358.9 334.0 360.0C356.3 361.1 444.6 361.9 466.7 360.0C488.8 358.1 466.5 355.5 466.7 348.8C466.9 342.1 468.2 327.5 467.9 319.8C467.6 312.1 465.8 308.2 465.0 302.4C464.2 296.6 462.9 289.9 463.2 285.0C463.5 280.1 465.9 277.1 466.9 273.2C467.9 269.3 468.4 265.3 469.2 261.9C469.9 258.5 469.9 255.7 471.4 252.9C472.9 250.1 475.0 247.4 478.2 245.0C481.4 242.6 487.0 239.7 490.6 238.2C494.2 236.7 498.4 239.9 500.0 236.0C501.6 232.1 527.5 218.5 500.0 215.0C472.5 211.5 362.5 213.9 335.0 215.0Z" fill="#b8b9df" stroke="#000" stroke-opacity="0.13" stroke-width="0.55"/>
<path d="M337.0 215.0C309.8 216.1 336.9 218.8 336.7 221.3C336.4 223.8 336.0 227.4 335.5 230.0C335.0 232.6 334.1 235.3 333.5 237.0C332.9 238.7 332.3 239.2 331.9 240.0C331.4 240.8 331.7 240.9 330.8 242.1C329.9 243.3 328.1 245.8 326.7 247.3C325.3 248.9 323.9 249.8 322.5 251.4C321.1 253.0 319.3 254.7 318.4 256.6C317.5 258.5 317.3 260.5 317.3 262.9C317.3 265.3 318.5 268.4 318.4 271.2C318.3 274.0 316.6 277.2 316.5 279.9C316.4 282.6 317.2 284.8 318.0 287.2C318.8 289.6 320.8 292.1 321.0 294.5C321.2 296.9 319.2 300.1 319.0 301.8C318.8 303.6 319.3 301.6 320.0 305.0C320.7 308.4 322.1 317.9 323.4 322.2C324.7 326.5 325.2 327.5 327.7 330.8C330.2 334.1 335.2 339.2 338.4 342.0C341.6 344.8 345.2 345.7 346.8 347.6C348.4 349.5 347.9 351.1 348.2 353.2C348.5 355.3 329.7 358.9 348.5 360.0C367.3 361.1 442.2 361.9 460.9 360.0C479.6 358.1 460.7 355.5 460.9 348.8C461.1 342.1 462.4 327.5 462.0 319.8C461.6 312.1 459.6 308.2 458.6 302.4C457.7 296.6 456.4 288.9 456.3 285.0C456.2 281.1 457.4 281.9 457.9 278.8C458.3 275.7 458.6 270.3 459.0 266.4C459.4 262.4 459.6 258.1 460.2 255.1C460.8 252.1 460.3 250.4 462.4 248.3C464.5 246.2 469.0 244.8 472.6 242.7C476.2 240.6 480.9 238.2 483.9 235.9C486.9 233.7 487.9 230.7 490.6 229.2C493.3 227.7 498.4 229.4 500.0 227.0C501.6 224.6 527.2 217.0 500.0 215.0C472.8 213.0 364.2 213.9 337.0 215.0Z" fill="#e6e6f3" stroke="#000" stroke-opacity="0.13" stroke-width="0.55"/>
<path d="M338.5 215.0C316.1 216.1 338.6 218.8 338.3 221.3C338.1 223.8 337.5 227.4 337.0 230.0C336.5 232.6 336.0 235.3 335.5 237.0C335.0 238.7 334.8 238.6 334.0 240.0C333.2 241.4 331.9 243.5 330.8 245.2C329.8 246.9 328.6 248.5 327.7 250.4C326.8 252.3 325.5 254.5 325.1 256.6C324.8 258.7 325.3 260.5 325.6 262.9C325.9 265.3 327.1 268.4 326.7 271.2C326.3 274.0 323.7 277.2 323.4 279.9C323.1 282.6 324.2 284.8 325.0 287.2C325.8 289.6 327.8 292.1 328.0 294.5C328.2 296.9 326.2 300.1 326.0 301.8C325.8 303.6 326.1 302.5 327.0 305.0C327.9 307.5 329.5 313.2 331.4 316.8C333.3 320.4 335.1 323.9 338.4 326.6C341.7 329.3 347.7 331.4 351.0 333.0C354.3 334.6 356.6 334.9 358.0 336.4C359.4 337.9 359.2 339.2 359.4 342.0C359.6 344.8 359.4 350.2 359.4 353.2C359.4 356.2 344.3 358.9 359.4 360.0C374.5 361.1 434.9 361.4 450.0 360.0C465.1 358.6 449.7 355.8 450.0 351.6C450.3 347.4 451.3 340.3 452.0 335.0C452.7 329.7 454.2 325.1 454.0 320.0C453.8 314.9 451.2 310.1 450.5 304.6C449.8 299.1 449.4 291.1 449.5 287.0C449.6 282.9 450.3 282.9 451.0 280.0C451.7 277.1 453.8 273.2 453.9 269.6C454.0 266.0 452.6 261.7 451.8 258.4C451.0 255.1 448.9 252.8 449.0 250.0C449.1 247.2 450.2 243.9 452.3 241.6C454.4 239.2 458.0 237.8 461.3 235.9C464.6 234.0 470.1 232.7 472.0 230.3C473.9 227.9 472.5 223.9 472.6 221.3C472.7 218.8 495.0 216.1 472.6 215.0C450.2 213.9 360.9 213.9 338.5 215.0Z" fill="#fce4e4" stroke="#000" stroke-opacity="0.13" stroke-width="0.55"/>
<path d="M340.5 215.0C322.2 216.1 340.6 218.8 340.3 221.3C340.1 223.8 339.5 227.4 339.0 230.0C338.5 232.6 338.0 235.3 337.5 237.0C337.0 238.7 336.9 238.1 336.2 240.0C335.5 241.9 333.4 245.7 333.1 248.3C332.8 250.9 333.7 253.2 334.2 255.6C334.7 258.0 336.2 260.2 336.2 262.9C336.2 265.6 335.2 269.2 334.2 272.0C333.2 274.8 330.8 277.4 330.3 279.9C329.8 282.4 330.6 284.5 331.0 287.0C331.4 289.5 332.4 292.0 333.0 295.0C333.6 298.0 334.0 301.8 334.5 305.0C335.0 308.2 334.7 310.7 336.0 314.0C337.3 317.3 338.4 321.8 342.2 325.0C346.0 328.2 353.4 330.9 359.0 333.4C364.6 335.9 372.5 337.9 375.8 340.0C379.1 342.1 378.3 343.8 379.0 346.0C379.7 348.2 379.8 350.9 380.0 353.2C380.2 355.5 374.9 358.9 380.0 360.0C385.1 361.1 405.3 361.4 410.4 360.0C415.5 358.6 410.2 353.9 410.4 351.6C410.6 349.3 409.7 347.5 411.8 346.0C413.9 344.5 418.8 343.4 423.0 342.5C427.2 341.6 433.0 341.9 437.0 340.4C441.0 338.9 445.0 336.1 446.8 333.4C448.6 330.7 448.2 329.0 447.6 324.2C447.0 319.4 443.9 310.8 443.4 304.6C442.9 298.4 443.7 292.8 444.5 287.0C445.3 281.2 448.5 274.4 448.3 269.6C448.1 264.8 444.1 260.9 443.3 258.0C442.5 255.1 443.0 253.8 443.5 252.0C444.0 250.2 445.2 249.7 446.1 247.0C447.0 244.3 448.3 240.2 448.9 236.0C449.5 231.8 449.6 225.3 449.8 221.8C450.0 218.3 468.0 216.1 449.8 215.0C431.6 213.9 358.8 213.9 340.5 215.0Z" fill="#f5babc" stroke="#000" stroke-opacity="0.13" stroke-width="0.55"/>
<path d="M343.5 215.0C327.5 216.1 343.7 218.5 343.5 221.3C343.3 224.1 342.9 228.9 342.5 232.0C342.1 235.1 341.9 237.6 341.4 240.0C340.9 242.4 339.4 243.6 339.4 246.2C339.4 248.8 340.7 252.8 341.4 255.6C342.1 258.4 343.5 260.2 343.5 262.9C343.5 265.6 342.3 269.2 341.4 272.0C340.5 274.8 338.6 277.4 338.0 279.9C337.4 282.4 338.1 284.5 338.0 287.0C337.9 289.5 337.3 291.3 337.4 295.0C337.5 298.7 336.6 304.8 338.6 309.4C340.6 314.0 344.8 318.8 349.4 322.6C354.0 326.4 360.2 329.8 366.2 332.2C372.2 334.6 381.9 335.4 385.4 337.0C388.9 338.6 386.7 339.3 387.0 342.0C387.3 344.7 387.2 350.2 387.2 353.2C387.2 356.2 383.8 358.9 387.2 360.0C390.6 361.1 404.2 361.4 407.6 360.0C411.0 358.6 407.4 354.2 407.6 351.6C407.8 349.0 407.6 346.5 409.0 344.6C410.4 342.7 412.5 341.3 416.0 340.4C419.5 339.5 426.0 340.2 430.0 339.0C434.0 337.8 437.9 335.4 439.8 333.4C441.7 331.4 441.4 328.9 441.5 327.0C441.6 325.1 441.3 325.7 440.6 322.0C439.9 318.3 437.6 310.8 437.1 304.6C436.6 298.4 437.2 290.8 437.8 285.0C438.4 279.2 441.0 274.1 440.6 269.6C440.2 265.1 436.4 260.9 435.6 258.0C434.8 255.1 435.4 253.8 435.7 252.0C436.0 250.2 436.8 249.7 437.7 247.0C438.6 244.3 440.9 240.2 441.2 236.0C441.5 231.8 439.9 225.3 439.6 221.8C439.3 218.3 455.6 216.1 439.6 215.0C423.6 213.9 359.5 213.9 343.5 215.0Z" fill="#f08f92" stroke="#000" stroke-opacity="0.13" stroke-width="0.55"/>
<path d="M346.5 215.0C332.4 216.1 346.4 218.5 346.5 221.3C346.6 224.1 346.7 228.9 346.8 232.0C346.9 235.1 347.4 237.6 347.2 240.0C347.0 242.4 345.4 243.6 345.6 246.2C345.9 248.8 347.8 252.8 348.7 255.6C349.6 258.4 351.2 260.2 351.3 262.9C351.4 265.6 350.2 269.1 349.2 272.0C348.2 274.9 346.2 277.3 345.5 280.0C344.8 282.7 344.9 285.5 345.0 288.0C345.1 290.5 345.5 291.6 345.8 295.0C346.1 298.4 345.4 304.2 347.0 308.2C348.6 312.2 351.4 315.8 355.4 319.0C359.4 322.2 364.4 325.1 371.0 327.4C377.6 329.7 388.7 331.4 395.0 332.6C401.3 333.8 404.3 334.8 409.0 334.8C413.7 334.8 419.3 333.4 423.0 332.7C426.7 332.0 429.6 331.6 431.4 330.6C433.1 329.7 433.1 328.4 433.5 327.0C433.9 325.6 434.2 325.7 433.6 322.0C433.0 318.3 430.5 310.8 430.1 304.6C429.8 298.4 431.1 290.8 431.5 285.0C431.9 279.2 432.9 274.1 432.2 269.6C431.5 265.1 428.0 260.9 427.2 258.0C426.4 255.1 426.9 253.8 427.3 252.0C427.7 250.2 428.4 249.7 429.3 247.0C430.2 244.3 432.5 240.2 432.8 236.0C433.1 231.8 431.5 225.3 431.2 221.8C430.9 218.3 445.3 216.1 431.2 215.0C417.1 213.9 360.6 213.9 346.5 215.0Z" fill="#eb6a6c" stroke="#000" stroke-opacity="0.13" stroke-width="0.55"/>
<path d="M352.5 215.0C340.6 216.1 352.5 218.5 352.5 221.3C352.5 224.1 352.4 228.9 352.5 232.0C352.6 235.1 353.0 237.6 352.9 240.0C352.8 242.4 351.3 243.4 351.8 246.2C352.3 249.0 354.7 253.8 356.0 256.6C357.3 259.4 359.3 260.4 359.6 263.0C359.9 265.6 358.8 269.2 358.0 272.0C357.2 274.8 355.7 277.0 355.0 280.0C354.3 283.0 354.1 287.5 354.0 290.0C353.9 292.5 354.0 292.2 354.2 295.0C354.4 297.8 354.0 303.4 355.4 307.0C356.8 310.6 359.0 313.8 362.6 316.6C366.2 319.4 371.6 322.1 377.0 323.8C382.4 325.5 388.5 326.0 395.0 327.0C401.5 328.0 411.2 329.9 416.0 330.0C420.8 330.1 422.2 328.5 424.0 327.5C425.8 326.5 426.0 325.9 426.5 324.0C427.0 322.1 427.6 318.7 427.2 316.0C426.8 313.3 425.2 309.9 424.4 308.0C423.6 306.1 422.5 308.4 422.4 304.6C422.3 300.8 423.7 290.8 423.8 285.0C423.9 279.2 424.1 274.1 423.1 269.6C422.2 265.1 418.9 260.9 418.1 258.0C417.3 255.1 417.7 253.8 418.2 252.0C418.7 250.2 419.8 249.7 420.9 247.0C422.0 244.3 424.6 240.2 425.1 236.0C425.6 231.8 424.2 225.3 424.0 221.8C423.8 218.3 435.9 216.1 424.0 215.0C412.1 213.9 364.4 213.9 352.5 215.0Z" fill="#e64648" stroke="#000" stroke-opacity="0.13" stroke-width="0.55"/>
<path d="M357.5 215.0C347.6 216.1 357.4 218.5 357.5 221.3C357.6 224.1 357.7 228.9 358.0 232.0C358.3 235.1 358.6 237.3 359.1 240.0C359.6 242.7 359.8 245.7 361.2 248.3C362.6 250.9 365.8 253.2 367.4 255.6C369.0 258.0 370.6 260.2 371.1 262.9C371.6 265.6 371.2 269.1 370.6 272.0C370.0 274.9 368.4 277.5 367.6 280.0C366.8 282.5 366.5 284.5 366.0 287.0C365.5 289.5 364.8 291.9 364.4 295.0C364.0 298.1 362.7 302.6 363.8 305.8C364.9 309.0 367.8 312.0 371.0 314.2C374.2 316.4 379.0 318.0 383.0 319.0C387.0 320.0 390.9 319.6 395.0 320.2C399.1 320.8 404.1 321.5 407.6 322.5C411.1 323.5 414.4 325.9 416.0 326.0C417.6 326.1 417.3 324.7 417.5 323.0C417.7 321.3 417.9 319.1 417.4 316.0C416.9 312.9 414.8 309.8 414.7 304.6C414.6 299.4 416.9 290.8 416.8 285.0C416.7 279.2 415.7 274.1 414.0 269.6C412.3 265.1 407.7 260.9 406.5 258.0C405.3 255.1 406.4 253.8 407.0 252.0C407.6 250.2 409.4 248.5 410.4 247.0C411.4 245.5 411.9 244.8 413.0 243.0C414.1 241.2 416.1 239.5 416.7 236.0C417.3 232.5 416.8 225.3 416.8 221.8C416.9 218.3 426.9 216.1 417.0 215.0C407.1 213.9 367.4 213.9 357.5 215.0Z" fill="#e32226" stroke="#000" stroke-opacity="0.13" stroke-width="0.55"/>
<path d="M366.0 215.0C358.7 216.1 365.7 218.1 366.0 221.4C366.3 224.7 366.0 230.6 367.6 235.0C369.2 239.4 371.9 245.5 375.6 247.8C379.3 250.1 385.7 249.2 390.0 248.6C394.3 248.0 399.0 245.8 401.5 244.0C404.0 242.2 404.2 240.3 405.0 238.0C405.8 235.7 405.7 232.5 406.5 230.0C407.3 227.5 409.0 225.5 409.6 223.0C410.2 220.5 417.3 216.3 410.0 215.0C402.7 213.7 373.3 213.9 366.0 215.0Z" fill="#e8141c" stroke="#000" stroke-opacity="0.13" stroke-width="0.55"/>
<path d="M391.6 278.2C394.9 278.1 400.4 278.9 402.8 280.5C405.2 282.1 405.8 285.2 406.0 288.0C406.2 290.8 404.8 294.0 404.0 297.0C403.2 300.0 402.3 303.5 401.0 306.0C399.7 308.5 399.3 310.9 396.4 311.8C393.5 312.7 387.3 312.0 383.8 311.1C380.3 310.2 377.0 308.6 375.4 306.2C373.8 303.8 373.7 300.2 374.0 297.0C374.3 293.8 375.5 289.7 377.0 287.0C378.5 284.3 380.6 282.5 383.0 281.0C385.4 279.5 388.3 278.3 391.6 278.2Z" fill="#e8141c" stroke="#000" stroke-opacity="0.13" stroke-width="0.55"/>
<path d="M392.5 356.0C391.6 354.8 392.9 350.7 393.5 349.0C394.1 347.3 395.1 346.0 395.8 346.0C396.6 346.0 397.5 347.3 398.0 349.0C398.5 350.7 399.9 354.8 399.0 356.0C398.1 357.2 393.4 357.2 392.5 356.0Z" fill="#eb6a6c" stroke="#000" stroke-opacity="0.13" stroke-width="0.55"/>
<path d="M354.0 356.0C353.3 354.2 354.5 347.5 355.0 345.0C355.5 342.5 356.3 341.5 357.0 341.0C357.7 340.5 359.0 339.5 359.4 342.0C359.8 344.5 360.3 353.7 359.4 356.0C358.5 358.3 354.7 357.8 354.0 356.0Z" fill="#e6e6f3" stroke="#000" stroke-opacity="0.13" stroke-width="0.55"/>
<path d="M339.6 221.6C339.6 221.6 359.3 221.6 359.3 221.6C359.3 221.6 359.3 233.6 359.3 233.6C359.3 233.6 339.6 233.6 339.6 233.6C339.6 233.6 339.6 221.6 339.6 221.6Z" fill="url(#stip)"/>
<path d="M320.8 281.3C320.8 281.3 339.8 281.3 339.8 281.3C339.8 281.3 339.8 291.7 339.8 291.7C339.8 291.7 320.8 291.7 320.8 291.7C320.8 291.7 320.8 281.3 320.8 281.3Z" fill="url(#stip)"/>
<path d="M339.8 331.7C339.8 331.7 358.7 331.7 358.7 331.7C358.7 331.7 358.7 335.1 358.7 335.1C358.7 335.1 339.8 335.1 339.8 335.1C339.8 335.1 339.8 331.7 339.8 331.7Z" fill="url(#stip)"/>
<path d="M358.7 338.5C358.7 338.5 369.0 338.5 369.0 338.5C369.0 338.5 369.0 353.0 369.0 353.0C369.0 353.0 358.7 353.0 358.7 353.0C358.7 353.0 358.7 338.5 358.7 338.5Z" fill="url(#stip)"/>
<path d="M415.4 342.4C415.4 342.4 434.6 342.4 434.6 342.4C434.6 342.4 434.6 352.5 434.6 352.5C434.6 352.5 415.4 352.5 415.4 352.5C415.4 352.5 415.4 342.4 415.4 342.4Z" fill="url(#stip)"/>
<path d="M453.7 308.5C453.7 308.5 471.1 308.5 471.1 308.5C471.1 308.5 471.1 320.7 471.1 320.7C471.1 320.7 453.7 320.7 453.7 320.7C453.7 320.7 453.7 308.5 453.7 308.5Z" fill="url(#stip)"/>
<path d="M453.7 335.5C453.7 335.5 471.1 335.5 471.1 335.5C471.1 335.5 471.1 351.1 471.1 351.1C471.1 351.1 453.7 351.1 453.7 351.1C453.7 351.1 453.7 335.5 453.7 335.5Z" fill="url(#stip)"/>
<path d="M472.6 221.3C472.6 221.3 490.6 221.3 490.6 221.3C490.6 221.3 490.6 233.7 490.6 233.7C490.6 233.7 472.6 233.7 472.6 233.7C472.6 233.7 472.6 221.3 472.6 221.3Z" fill="url(#stip)"/>
<path d="M453.4 236.0C453.4 236.0 490.6 236.0 490.6 236.0C490.6 236.0 490.6 243.8 490.6 243.8C490.6 243.8 453.4 243.8 453.4 243.8C453.4 243.8 453.4 236.0 453.4 236.0Z" fill="url(#stip)"/>
<path d="M453.4 260.8C453.4 260.8 471.4 260.8 471.4 260.8C471.4 260.8 471.4 264.1 471.4 264.1C471.4 264.1 453.4 264.1 453.4 264.1C453.4 264.1 453.4 260.8 453.4 260.8Z" fill="url(#stip)"/>
<path d="M453.4 274.3C453.4 274.3 471.4 274.3 471.4 274.3C471.4 274.3 471.4 277.1 471.4 277.1C471.4 277.1 453.4 277.1 453.4 277.1C453.4 277.1 453.4 274.3 453.4 274.3Z" fill="url(#stip)"/>
</g>
<g clip-path="url(#clipe)">
<rect x="44.2" y="419.6" width="208.10" height="131.80" fill="#d6d6ec"/>
<path d="M139.0 415.0C155.8 415.9 138.8 418.3 139.0 420.3C139.2 422.3 140.3 423.8 140.1 426.9C139.9 430.0 139.4 434.6 137.9 439.0C136.4 443.4 132.6 449.6 131.3 453.3C130.0 457.0 130.4 458.2 130.2 461.0C130.0 463.8 129.8 467.8 130.2 470.0C130.6 472.2 132.2 471.3 132.6 474.4C133.0 477.5 132.1 484.5 132.6 488.8C133.1 493.1 134.5 497.5 135.5 500.0C136.5 502.5 137.6 502.2 138.4 504.0C139.2 505.8 137.9 509.6 140.5 511.0C143.1 512.4 148.3 511.6 154.2 512.4C160.1 513.2 171.7 514.7 175.8 516.0C179.9 517.3 178.9 518.9 178.7 520.3C178.5 521.7 178.5 523.5 174.4 524.6C170.3 525.7 159.7 526.1 154.2 526.8C148.7 527.5 143.2 527.7 141.2 528.9C139.2 530.1 141.5 531.8 142.0 534.0C142.5 536.2 143.3 539.1 144.0 542.0C144.7 544.9 145.7 549.1 146.0 551.4C146.3 553.7 164.0 555.2 146.0 556.0C128.0 556.8 56.0 579.5 38.0 556.0C20.0 532.5 21.2 438.5 38.0 415.0C54.8 391.5 122.2 414.1 139.0 415.0Z" fill="#efeff9" stroke="#000" stroke-opacity="0.13" stroke-width="0.55"/>
<path d="M256.0 449.0C255.2 431.5 253.1 449.9 251.0 451.0C248.9 452.1 246.1 454.0 243.6 455.5C241.1 457.0 238.2 457.3 236.2 460.0C234.2 462.7 233.3 467.4 231.8 471.8C230.3 476.2 229.1 482.2 227.4 486.6C225.7 491.1 222.6 495.8 221.4 498.5C220.2 501.2 219.5 500.8 220.0 503.0C220.5 505.2 221.7 508.4 224.4 511.9C227.1 515.4 233.2 520.2 236.2 523.7C239.2 527.2 241.4 529.6 242.2 532.6C242.9 535.6 240.7 538.5 240.7 541.5C240.7 544.5 241.9 548.0 242.2 550.4C242.4 552.8 239.9 555.1 242.2 556.0C244.5 556.9 253.7 573.8 256.0 556.0C258.3 538.2 256.8 466.5 256.0 449.0Z" fill="#efeff9" stroke="#000" stroke-opacity="0.13" stroke-width="0.55"/>
<path d="M126.9 415.0C141.7 415.9 126.9 418.1 126.9 420.3C126.9 422.5 128.0 424.9 126.9 428.0C125.8 431.1 121.6 436.2 120.3 439.0C119.0 441.8 119.9 442.1 119.2 444.5C118.5 446.9 116.6 450.6 115.9 453.3C115.2 456.1 114.9 457.5 114.8 461.0C114.7 464.5 115.0 469.8 115.3 474.4C115.6 479.0 116.3 484.0 116.8 488.8C117.3 493.6 116.5 498.9 118.2 503.0C119.9 507.1 124.4 510.5 126.8 513.1C129.2 515.7 132.3 516.6 132.6 518.8C132.8 520.9 128.3 523.4 128.3 526.0C128.3 528.6 131.2 532.3 132.6 534.7C134.0 537.1 135.8 538.5 137.0 540.4C138.2 542.3 139.3 543.4 140.0 546.0C140.7 548.6 158.0 554.3 141.0 556.0C124.0 557.7 55.2 579.5 38.0 556.0C20.8 532.5 23.2 438.5 38.0 415.0C52.8 391.5 112.1 414.1 126.9 415.0Z" fill="#fdf0ef" stroke="#000" stroke-opacity="0.13" stroke-width="0.55"/>
<path d="M256.0 470.0C255.2 459.7 252.8 471.3 251.0 473.3C249.2 475.3 246.6 479.5 245.1 482.2C243.6 484.9 243.4 486.9 242.2 489.6C241.0 492.3 238.6 496.1 237.7 498.5C236.8 500.9 236.3 502.2 236.5 504.0C236.7 505.8 238.1 507.7 239.0 509.0C239.9 510.3 240.7 509.9 242.2 511.9C243.7 513.9 246.6 517.3 248.1 520.8C249.6 524.2 249.7 530.2 251.0 532.6C252.3 535.0 255.2 545.4 256.0 535.0C256.8 524.6 256.8 480.3 256.0 470.0Z" fill="#fdf0ef" stroke="#000" stroke-opacity="0.13" stroke-width="0.55"/>
<path d="M63.6 415.0C54.7 415.8 63.4 417.2 63.6 419.9C63.8 422.6 65.0 427.8 65.0 431.4C65.0 435.0 65.0 438.9 63.6 441.5C62.2 444.1 58.2 445.5 56.4 447.2C54.6 448.9 53.3 449.9 52.8 451.6C52.3 453.3 52.9 455.6 53.5 457.3C54.1 459.0 56.2 460.4 56.5 462.0C56.8 463.6 56.7 465.4 55.0 467.2C53.3 469.0 48.1 471.6 46.3 473.0C44.5 474.4 45.6 475.1 44.2 475.8C42.8 476.5 39.0 468.3 38.0 477.0C37.0 485.7 37.0 519.4 38.0 528.0C39.0 536.6 42.1 528.3 44.2 528.9C46.3 529.5 48.8 529.9 50.6 531.8C52.4 533.7 54.0 537.3 55.0 540.4C56.0 543.5 56.2 547.9 56.4 550.5C56.6 553.1 50.4 555.1 56.4 556.0C62.4 556.9 86.4 556.9 92.4 556.0C98.4 555.1 92.6 552.9 92.4 550.5C92.2 548.1 90.8 544.0 91.0 541.9C91.2 539.8 91.6 539.5 93.8 537.6C96.0 535.7 101.2 533.0 103.9 530.4C106.6 527.8 109.5 524.6 109.7 521.7C110.0 518.8 107.1 516.2 105.4 513.1C103.7 510.0 101.3 505.4 99.6 503.0C97.9 500.6 96.7 500.8 95.3 498.9C93.9 497.0 92.8 493.9 91.0 491.7C89.2 489.5 85.5 487.6 84.5 485.9C83.5 484.2 83.4 483.5 85.2 481.6C87.0 479.7 93.3 476.8 95.3 474.4C97.3 472.0 97.5 469.6 97.4 467.2C97.4 464.8 95.3 461.9 95.0 460.0C94.7 458.1 95.0 457.0 95.3 455.9C95.6 454.8 96.0 454.3 97.0 453.5C98.0 452.7 99.2 452.6 101.6 451.1C104.0 449.6 109.1 448.0 111.5 444.5C113.9 441.0 115.0 434.2 115.9 430.2C116.8 426.2 116.8 422.8 117.0 420.3C117.2 417.8 125.9 415.9 117.0 415.0C108.1 414.1 72.5 414.2 63.6 415.0Z" fill="#f8d3d4" stroke="#000" stroke-opacity="0.13" stroke-width="0.55"/>
<path d="M70.1 415.0C63.9 415.8 69.8 417.6 70.1 419.9C70.4 422.1 71.1 425.4 72.2 428.5C73.3 431.6 75.4 435.5 76.6 438.6C77.8 441.7 78.0 445.5 79.4 447.2C80.8 448.9 82.6 449.1 85.2 448.7C87.8 448.2 92.3 445.6 95.0 444.5C97.7 443.4 99.6 444.1 101.6 442.3C103.6 440.5 106.2 437.2 107.1 433.5C108.0 429.8 107.0 423.4 107.1 420.3C107.2 417.2 113.7 415.9 107.5 415.0C101.3 414.1 76.3 414.2 70.1 415.0Z" fill="#f5babc" stroke="#000" stroke-opacity="0.13" stroke-width="0.55"/>
<path d="M57.8 501.8C58.3 500.4 60.5 498.9 62.2 498.9C63.9 498.9 66.5 500.6 67.9 501.8C69.3 503.0 70.5 504.7 70.8 505.9C71.0 507.1 70.6 508.1 69.4 508.8C68.2 509.5 65.3 510.4 63.6 510.2C61.9 509.9 60.3 508.7 59.3 507.3C58.3 505.9 57.3 503.2 57.8 501.8Z" fill="#f5babc" stroke="#000" stroke-opacity="0.13" stroke-width="0.55"/>
<path d="M128.0 556.0C125.8 554.7 129.0 550.0 130.0 548.0C131.0 546.0 132.5 544.7 134.0 544.0C135.5 543.3 137.7 543.3 139.0 544.0C140.3 544.7 141.3 546.0 142.0 548.0C142.7 550.0 145.3 554.7 143.0 556.0C140.7 557.3 130.2 557.3 128.0 556.0Z" fill="#f8d3d4" stroke="#000" stroke-opacity="0.13" stroke-width="0.55"/>
<path d="M154.2 437.2C157.6 435.5 166.7 433.8 171.5 432.8C176.3 431.8 179.1 430.3 183.0 431.4C186.9 432.5 191.1 436.7 194.8 439.2C198.5 441.7 202.5 444.1 205.2 446.6C207.9 449.1 209.5 451.4 211.1 454.0C212.7 456.6 213.5 460.0 214.5 462.0C215.5 464.0 216.7 463.6 217.0 466.0C217.3 468.4 217.3 472.9 216.3 476.3C215.3 479.7 212.9 483.2 211.1 486.6C209.2 490.1 206.4 494.3 205.2 497.0C204.0 499.7 203.5 500.5 203.7 503.0C203.9 505.5 206.3 509.2 206.6 511.9C206.8 514.6 206.9 517.6 205.2 519.3C203.5 521.0 199.5 522.5 196.3 522.2C193.1 522.0 189.0 519.3 185.9 517.8C182.8 516.3 179.7 514.3 178.0 513.0C176.3 511.7 179.1 511.1 175.8 510.2C172.6 509.2 162.6 508.5 158.5 507.3C154.4 506.1 152.4 504.6 151.0 503.0C149.6 501.4 149.6 499.8 149.9 497.4C150.2 495.0 153.1 492.6 152.8 488.8C152.6 485.0 149.5 478.9 148.4 474.4C147.3 469.9 146.5 465.3 146.3 462.0C146.1 458.7 146.4 456.6 147.0 454.4C147.6 452.2 149.3 450.8 150.0 448.9C150.7 447.0 150.6 444.9 151.3 443.0C152.0 441.1 150.8 438.9 154.2 437.2Z" fill="#b8b9df" stroke="#000" stroke-opacity="0.13" stroke-width="0.55"/>
<path d="M193.2 428.2C191.6 426.4 194.5 422.2 194.8 420.0C195.1 417.8 187.9 415.8 194.8 415.0C201.7 414.2 229.1 413.2 236.0 415.0C242.9 416.8 235.7 421.8 236.2 425.9C236.7 429.9 239.4 436.4 239.1 439.3C238.8 442.2 235.8 442.8 234.2 443.0C232.5 443.2 230.9 442.5 229.2 440.6C227.5 438.8 227.5 433.4 224.2 431.9C220.9 430.4 212.9 432.0 209.6 431.8C206.3 431.6 207.1 431.2 204.4 430.6C201.7 430.0 194.8 430.0 193.2 428.2Z" fill="#b8b9df" stroke="#000" stroke-opacity="0.13" stroke-width="0.55"/>
<path d="M149.8 556.0C142.8 554.2 149.6 548.2 149.8 545.0C150.1 541.8 150.9 539.2 151.3 537.0C151.7 534.8 149.7 533.0 152.3 531.8C155.0 530.6 162.6 529.7 167.2 529.8C171.8 529.9 176.6 531.9 180.0 532.6C183.4 533.3 185.7 533.1 187.4 534.1C189.1 535.1 190.2 536.5 190.4 538.5C190.7 540.5 188.7 543.9 188.9 545.9C189.1 547.9 191.3 548.7 191.8 550.4C192.3 552.1 199.0 555.1 192.0 556.0C185.0 556.9 156.8 557.8 149.8 556.0Z" fill="#b8b9df" stroke="#000" stroke-opacity="0.13" stroke-width="0.55"/>
<path d="M209.6 530.0C209.8 529.0 210.9 527.7 212.0 527.4C213.1 527.1 215.1 527.3 216.0 528.0C216.9 528.7 218.0 530.4 217.7 531.5C217.4 532.6 215.2 534.5 214.0 534.8C212.8 535.1 211.2 534.3 210.5 533.5C209.8 532.7 209.3 531.0 209.6 530.0Z" fill="#b8b9df" stroke="#000" stroke-opacity="0.13" stroke-width="0.55"/>
<path d="M174.4 462.9C176.4 461.6 181.6 462.5 185.0 462.5C188.4 462.5 192.3 461.9 194.8 463.0C197.3 464.1 200.0 466.9 200.0 468.9C200.0 470.9 197.4 473.6 194.8 474.8C192.2 476.0 186.9 475.5 184.4 476.3C181.9 477.1 181.2 477.9 180.0 479.5C178.8 481.1 178.4 485.5 177.2 485.9C176.0 486.2 173.6 484.2 172.9 481.6C172.2 479.0 172.8 473.1 173.0 470.0C173.2 466.9 172.4 464.1 174.4 462.9Z" fill="#989cd1" stroke="#000" stroke-opacity="0.13" stroke-width="0.55"/>
<path d="M205.9 415.0C203.1 415.8 205.2 418.6 205.9 420.0C206.6 421.4 208.7 422.6 210.0 423.5C211.3 424.4 212.7 425.0 214.0 425.1C215.3 425.2 216.5 424.7 218.0 424.0C219.5 423.3 222.1 422.2 222.9 420.7C223.7 419.2 225.8 415.9 223.0 415.0C220.2 414.1 208.8 414.2 205.9 415.0Z" fill="#989cd1" stroke="#000" stroke-opacity="0.13" stroke-width="0.55"/>
<path d="M44.2 419.9C44.2 419.9 63.6 419.9 63.6 419.9C63.6 419.9 63.6 445.8 63.6 445.8C63.6 445.8 44.2 445.8 44.2 445.8C44.2 445.8 44.2 419.9 44.2 419.9Z" fill="url(#stip)"/>
<path d="M63.6 434.3C63.6 434.3 82.3 434.3 82.3 434.3C82.3 434.3 82.3 440.0 82.3 440.0C82.3 440.0 63.6 440.0 63.6 440.0C63.6 440.0 63.6 434.3 63.6 434.3Z" fill="url(#stip)"/>
<path d="M119.8 429.7C119.8 429.7 139.0 429.7 139.0 429.7C139.0 429.7 139.0 455.0 139.0 455.0C139.0 455.0 119.8 455.0 119.8 455.0C119.8 455.0 119.8 429.7 119.8 429.7Z" fill="url(#stip)"/>
<path d="M119.6 481.6C119.6 481.6 139.1 481.6 139.1 481.6C139.1 481.6 139.1 506.0 139.1 506.0C139.1 506.0 119.6 506.0 119.6 506.0C119.6 506.0 119.6 481.6 119.6 481.6Z" fill="url(#stip)"/>
<path d="M233.3 500.0C233.3 500.0 251.0 500.0 251.0 500.0C251.0 500.0 251.0 510.4 251.0 510.4C251.0 510.4 233.3 510.4 233.3 510.4C233.3 510.4 233.3 500.0 233.3 500.0Z" fill="url(#stip)"/>
<path d="M101.0 544.8C101.0 544.8 114.0 544.8 114.0 544.8C114.0 544.8 114.0 550.5 114.0 550.5C114.0 550.5 101.0 550.5 101.0 550.5C101.0 550.5 101.0 544.8 101.0 544.8Z" fill="url(#stip)"/>
<path d="M119.6 503.0C119.6 503.0 138.4 503.0 138.4 503.0C138.4 503.0 138.4 513.1 138.4 513.1C138.4 513.1 119.6 513.1 119.6 513.1C119.6 513.1 119.6 503.0 119.6 503.0Z" fill="url(#stip)"/>
<path d="M138.4 513.8C138.4 513.8 177.2 513.8 177.2 513.8C177.2 513.8 177.2 523.9 177.2 523.9C177.2 523.9 138.4 523.9 138.4 523.9C138.4 523.9 138.4 513.8 138.4 513.8Z" fill="url(#stip)"/>
<path d="M119.6 528.2C119.6 528.2 157.1 528.2 157.1 528.2C157.1 528.2 157.1 539.0 157.1 539.0C157.1 539.0 119.6 539.0 119.6 539.0C119.6 539.0 119.6 528.2 119.6 528.2Z" fill="url(#stip)"/>
<path d="M111.0 544.8C111.0 544.8 139.8 544.8 139.8 544.8C139.8 544.8 139.8 550.5 139.8 550.5C139.8 550.5 111.0 550.5 111.0 550.5C111.0 550.5 111.0 544.8 111.0 544.8Z" fill="url(#stip)"/>
<path d="M158.5 544.8C158.5 544.8 175.8 544.8 175.8 544.8C175.8 544.8 175.8 550.5 175.8 550.5C175.8 550.5 158.5 550.5 158.5 550.5C158.5 550.5 158.5 544.8 158.5 544.8Z" fill="url(#stip)"/>
</g>
<g clip-path="url(#clipf)">
<rect x="283.2" y="419.6" width="207.80" height="131.80" fill="#d6d6ec"/>
<path d="M361.9 415.0C375.9 416.1 362.0 419.2 361.9 421.4C361.8 423.6 362.3 425.1 361.3 428.0C360.3 430.9 358.2 435.7 355.8 439.0C353.4 442.3 349.0 445.1 347.0 447.8C345.0 450.6 344.3 452.6 343.7 455.5C343.1 458.4 343.3 462.2 343.5 465.0C343.7 467.8 345.1 468.7 345.0 472.0C344.9 475.3 343.3 481.0 343.0 485.0C342.7 489.0 342.8 492.8 343.0 496.0C343.2 499.2 343.2 501.3 344.4 504.0C345.6 506.7 347.4 509.5 350.0 512.0C352.6 514.5 357.2 517.2 360.0 519.0C362.8 520.8 366.3 521.2 367.0 523.0C367.7 524.8 365.5 527.8 364.0 530.0C362.5 532.2 359.0 533.5 358.0 536.0C357.0 538.5 357.7 542.4 358.0 545.0C358.3 547.6 359.7 549.6 360.0 551.4C360.3 553.2 373.7 555.2 360.0 556.0C346.3 556.8 291.7 579.5 278.0 556.0C264.3 532.5 264.0 438.5 278.0 415.0C292.0 391.5 347.9 413.9 361.9 415.0Z" fill="#efeff9" stroke="#000" stroke-opacity="0.13" stroke-width="0.55"/>
<path d="M354.7 415.0C367.5 416.1 354.7 418.9 354.7 421.4C354.7 423.9 355.6 426.9 354.7 430.2C353.8 433.5 351.4 438.3 349.2 441.2C347.0 444.1 343.7 445.8 341.5 447.8C339.3 449.8 337.1 451.3 336.0 453.3C334.9 455.3 334.8 457.0 334.9 460.0C335.0 463.0 336.4 467.2 336.4 471.5C336.4 475.8 335.1 481.6 335.0 485.9C334.9 490.2 335.5 494.5 335.7 497.4C335.9 500.2 335.2 500.6 336.4 503.0C337.6 505.4 340.6 508.5 342.9 511.6C345.2 514.7 348.7 519.1 350.1 521.7C351.6 524.4 351.8 525.1 351.6 527.5C351.4 529.9 349.4 532.3 348.7 536.1C348.0 539.9 347.5 547.2 347.2 550.5C346.9 553.8 358.5 555.1 347.0 556.0C335.5 556.9 289.5 579.5 278.0 556.0C266.5 532.5 265.2 438.5 278.0 415.0C290.8 391.5 341.9 413.9 354.7 415.0Z" fill="#fdf0ef" stroke="#000" stroke-opacity="0.13" stroke-width="0.55"/>
<path d="M347.0 415.0C358.5 416.1 346.9 418.3 347.0 421.4C347.1 424.5 348.2 429.6 347.6 433.5C347.1 437.4 345.8 441.6 343.7 444.5C341.6 447.4 337.9 448.9 335.0 451.0C332.1 453.1 327.7 455.5 326.0 457.0C324.3 458.5 324.7 457.6 324.9 460.0C325.1 462.4 327.2 467.2 327.1 471.5C327.0 475.8 324.0 481.6 324.2 485.9C324.4 490.2 327.5 494.4 328.5 497.4C329.5 500.4 328.8 501.1 330.0 504.0C331.2 506.9 334.3 511.1 335.7 514.5C337.1 517.9 338.6 521.7 338.6 524.6C338.6 527.5 336.9 529.2 335.7 531.8C334.5 534.4 332.3 537.3 331.4 540.4C330.4 543.5 330.2 547.9 330.0 550.5C329.8 553.1 338.7 555.1 330.0 556.0C321.3 556.9 286.7 579.5 278.0 556.0C269.3 532.5 266.5 438.5 278.0 415.0C289.5 391.5 335.5 413.9 347.0 415.0Z" fill="#f8d3d4" stroke="#000" stroke-opacity="0.13" stroke-width="0.55"/>
<path d="M342.6 415.0C353.4 416.1 342.5 418.3 342.6 421.4C342.7 424.5 343.9 429.8 343.2 433.5C342.5 437.2 340.4 440.6 338.2 443.4C336.0 446.1 332.8 448.2 330.0 450.0C327.2 451.8 324.0 452.9 321.3 454.4C318.6 455.9 315.3 457.4 314.0 459.0C312.7 460.6 312.4 462.2 313.4 464.3C314.4 466.4 319.1 468.6 319.9 471.5C320.7 474.4 317.9 478.0 318.4 481.6C318.9 485.2 321.8 489.0 322.8 493.1C323.8 497.2 324.0 501.9 324.2 506.0C324.4 510.1 324.7 513.1 324.2 517.4C323.7 521.7 322.5 527.7 321.3 531.8C320.1 535.9 317.7 538.8 317.0 541.9C316.3 545.0 317.0 548.1 317.0 550.5C317.0 552.9 323.5 555.1 317.0 556.0C310.5 556.9 284.5 579.5 278.0 556.0C271.5 532.5 267.2 438.5 278.0 415.0C288.8 391.5 331.8 413.9 342.6 415.0Z" fill="#f5babc" stroke="#000" stroke-opacity="0.13" stroke-width="0.55"/>
<path d="M337.4 415.0C347.3 415.8 337.4 417.6 337.4 420.0C337.4 422.4 337.8 426.4 337.4 429.6C337.0 432.8 336.4 436.4 335.0 439.2C333.6 442.0 332.0 444.4 329.0 446.4C326.0 448.4 321.2 449.6 317.0 451.2C312.8 452.8 306.8 454.4 304.0 456.0C301.2 457.6 300.8 459.6 300.0 461.0C299.2 462.4 298.1 462.6 299.0 464.3C299.9 466.1 304.2 468.9 305.5 471.5C306.8 474.1 305.9 476.6 306.9 480.2C307.8 483.8 310.2 488.8 311.2 493.1C312.2 497.4 312.4 501.9 312.7 506.0C312.9 510.1 313.7 513.1 312.7 517.4C311.7 521.7 309.3 528.7 306.9 531.8C304.5 534.9 300.3 534.4 298.3 536.1C296.3 537.8 295.3 539.5 294.7 541.9C294.1 544.3 294.7 548.1 294.7 550.5C294.7 552.9 297.5 555.1 294.7 556.0C291.9 556.9 280.8 579.5 278.0 556.0C275.2 532.5 268.1 438.5 278.0 415.0C287.9 391.5 327.5 414.2 337.4 415.0Z" fill="#f29fa2" stroke="#000" stroke-opacity="0.13" stroke-width="0.55"/>
<path d="M278.0 432.0C278.9 429.8 282.0 432.0 283.4 432.5C284.8 433.0 285.8 433.8 286.5 435.0C287.2 436.2 287.5 438.4 287.5 440.0C287.5 441.6 287.2 443.5 286.5 444.5C285.8 445.5 284.8 445.8 283.4 446.0C282.0 446.2 278.9 448.3 278.0 446.0C277.1 443.7 277.1 434.2 278.0 432.0Z" fill="#f5babc" stroke="#000" stroke-opacity="0.13" stroke-width="0.55"/>
<path d="M278.0 427.0C278.9 429.0 281.3 426.8 283.4 427.2C285.5 427.6 288.4 428.0 290.6 429.6C292.8 431.2 294.6 434.4 296.6 436.8C298.6 439.2 300.0 442.5 302.6 444.0C305.2 445.5 309.0 445.6 312.2 445.8C315.4 446.0 319.0 446.5 321.8 445.2C324.6 443.9 327.6 440.6 329.0 438.0C330.4 435.4 330.0 432.6 330.2 429.6C330.4 426.6 330.2 422.4 330.2 420.0C330.2 417.6 338.9 415.8 330.2 415.0C321.5 414.2 286.7 413.0 278.0 415.0C269.3 417.0 277.1 425.0 278.0 427.0Z" fill="#ef878a" stroke="#000" stroke-opacity="0.13" stroke-width="0.55"/>
<path d="M278.0 468.0C278.9 456.9 281.3 468.0 283.2 468.6C285.1 469.2 287.8 469.8 289.6 471.5C291.4 473.2 292.6 475.8 294.0 478.7C295.4 481.6 297.1 485.7 298.3 488.8C299.5 491.9 300.5 494.9 301.2 497.4C301.9 499.9 302.6 501.4 302.6 504.0C302.6 506.6 302.2 509.7 301.2 513.1C300.2 516.5 298.7 521.5 296.8 524.6C294.9 527.7 291.9 530.1 289.6 531.8C287.3 533.5 285.1 534.2 283.2 534.7C281.3 535.2 278.9 546.1 278.0 535.0C277.1 523.9 277.1 479.1 278.0 468.0Z" fill="#ef878a" stroke="#000" stroke-opacity="0.13" stroke-width="0.55"/>
<path d="M299.0 415.0C294.8 415.8 298.0 418.2 299.0 420.0C300.0 421.8 302.6 424.0 305.0 426.0C307.4 428.0 311.2 429.6 313.4 432.0C315.6 434.4 316.8 438.8 318.2 440.4C319.6 442.0 320.8 443.0 321.8 441.6C322.8 440.2 323.8 435.6 324.2 432.0C324.6 428.4 324.2 422.8 324.2 420.0C324.2 417.2 328.4 415.8 324.2 415.0C320.0 414.2 303.2 414.2 299.0 415.0Z" fill="#ec7173" stroke="#000" stroke-opacity="0.13" stroke-width="0.55"/>
<path d="M278.0 484.0C278.9 478.9 281.7 483.9 283.2 484.5C284.7 485.1 285.6 485.7 286.8 487.4C288.0 489.1 289.6 492.0 290.4 494.6C291.2 497.2 291.9 500.4 291.8 503.0C291.7 505.6 291.0 508.3 289.6 510.2C288.2 512.1 285.1 513.7 283.2 514.5C281.3 515.3 278.9 520.1 278.0 515.0C277.1 509.9 277.1 489.1 278.0 484.0Z" fill="#ec7173" stroke="#000" stroke-opacity="0.13" stroke-width="0.55"/>
<path d="M425.6 415.0C413.2 415.8 424.4 418.1 425.6 419.8C426.8 421.5 430.0 424.2 432.6 425.4C435.2 426.6 441.2 425.6 441.0 426.8C440.8 428.0 432.1 429.4 431.2 432.4C430.3 435.4 434.2 441.7 435.4 445.0C436.6 448.3 437.4 448.8 438.5 452.0C439.6 455.2 440.9 461.0 442.0 464.0C443.1 467.0 445.8 466.9 445.4 469.8C445.0 472.7 440.5 477.2 439.6 481.4C438.7 485.6 439.5 491.2 440.0 495.0C440.5 498.8 442.2 499.0 442.7 504.0C443.1 509.0 442.4 518.0 442.7 525.2C442.9 532.4 443.9 542.3 444.2 547.4C444.4 552.5 434.9 554.6 444.2 556.0C453.5 557.4 490.7 579.5 500.0 556.0C509.3 532.5 512.4 438.5 500.0 415.0C487.6 391.5 438.0 414.2 425.6 415.0Z" fill="#efeff9" stroke="#000" stroke-opacity="0.13" stroke-width="0.55"/>
<path d="M463.4 415.0C457.3 415.8 463.9 417.7 463.4 420.0C462.9 422.3 462.4 426.1 460.4 428.8C458.4 431.5 453.5 434.3 451.6 436.2C449.7 438.1 449.3 437.3 448.9 440.0C448.4 442.7 448.1 448.4 448.9 452.4C449.7 456.4 453.4 460.1 453.6 464.0C453.8 467.9 451.3 471.7 450.1 475.6C448.9 479.5 447.2 484.0 446.6 487.2C446.0 490.4 446.5 492.2 446.6 495.0C446.7 497.8 446.7 499.0 447.0 504.0C447.3 509.0 448.3 518.0 448.6 525.2C448.9 532.4 448.6 542.3 448.6 547.4C448.6 552.5 440.0 554.6 448.6 556.0C457.2 557.4 491.4 579.5 500.0 556.0C508.6 532.5 506.1 438.5 500.0 415.0C493.9 391.5 469.5 414.2 463.4 415.0Z" fill="#fdf0ef" stroke="#000" stroke-opacity="0.13" stroke-width="0.55"/>
<path d="M469.3 415.0C464.2 415.8 468.3 417.4 469.3 420.0C470.3 422.6 473.7 427.4 475.2 430.3C476.7 433.2 476.4 435.8 478.2 437.7C480.0 439.6 487.4 439.9 486.0 442.0C484.6 444.1 473.9 447.8 469.8 450.1C465.8 452.4 463.4 453.4 461.7 455.9C460.0 458.4 460.4 461.9 459.4 465.2C458.4 468.5 456.9 471.9 455.9 475.6C454.9 479.3 454.2 484.0 453.6 487.2C453.0 490.4 452.7 492.2 452.4 495.0C452.1 497.8 451.6 499.0 452.0 504.0C452.4 509.0 452.8 519.5 454.5 525.2C456.2 530.9 459.1 534.7 462.0 538.0C464.9 541.3 469.6 542.8 472.0 545.0C474.4 547.2 475.9 549.6 476.7 551.4C477.5 553.2 473.1 555.2 477.0 556.0C480.9 556.8 496.2 579.5 500.0 556.0C503.8 532.5 505.1 438.5 500.0 415.0C494.9 391.5 474.4 414.2 469.3 415.0Z" fill="#f8d3d4" stroke="#000" stroke-opacity="0.13" stroke-width="0.55"/>
<path d="M500.0 446.0C498.4 427.8 494.2 445.2 490.7 446.6C487.2 448.1 482.4 452.6 479.1 454.7C475.8 456.8 473.1 457.1 471.0 459.4C468.9 461.7 467.7 465.3 466.3 468.6C464.9 471.9 464.0 474.7 462.8 479.1C461.6 483.5 459.8 490.9 459.4 495.0C459.0 499.1 459.0 499.0 460.4 504.0C461.8 509.0 464.5 518.4 467.8 525.2C471.1 532.0 477.0 540.6 480.0 545.0C483.0 549.4 484.6 549.6 485.6 551.4C486.6 553.2 483.6 555.2 486.0 556.0C488.4 556.8 497.7 574.3 500.0 556.0C502.3 537.7 501.6 464.2 500.0 446.0Z" fill="#f5babc" stroke="#000" stroke-opacity="0.13" stroke-width="0.55"/>
<path d="M500.0 454.0C498.4 437.1 494.2 453.6 490.7 454.7C487.2 455.8 482.0 458.0 479.1 460.5C476.2 463.0 474.9 466.3 473.3 469.8C471.8 473.3 470.8 477.2 469.8 481.4C468.8 485.6 468.1 491.2 467.5 495.0C466.9 498.8 464.7 499.0 466.0 504.0C467.3 509.0 472.0 518.4 475.2 525.2C478.4 532.0 482.5 540.6 485.0 545.0C487.5 549.4 489.2 549.6 490.0 551.4C490.8 553.2 488.3 555.2 490.0 556.0C491.7 556.8 498.3 573.0 500.0 556.0C501.7 539.0 501.6 470.9 500.0 454.0Z" fill="#f29fa2" stroke="#000" stroke-opacity="0.13" stroke-width="0.55"/>
<path d="M500.0 467.0C498.4 454.1 493.6 466.4 490.7 467.5C487.8 468.6 484.7 470.6 482.6 473.3C480.5 476.0 479.1 480.1 477.9 483.7C476.7 487.3 476.2 491.6 475.6 495.0C475.0 498.4 473.1 499.0 474.0 504.0C474.9 509.0 478.9 519.2 481.2 525.2C483.5 531.2 486.2 536.7 488.0 540.0C489.8 543.3 490.0 544.2 492.0 545.0C494.0 545.8 498.7 558.0 500.0 545.0C501.3 532.0 501.6 479.9 500.0 467.0Z" fill="#ef878a" stroke="#000" stroke-opacity="0.13" stroke-width="0.55"/>
<path d="M500.0 483.0C498.4 475.3 493.0 482.6 490.7 483.7C488.4 484.8 487.0 487.6 486.0 489.5C485.0 491.4 485.0 492.6 484.9 495.0C484.8 497.4 485.0 499.0 485.6 504.0C486.2 509.0 487.7 520.9 488.6 525.2C489.5 529.5 489.1 529.2 491.0 530.0C492.9 530.8 498.5 537.8 500.0 530.0C501.5 522.2 501.6 490.7 500.0 483.0Z" fill="#ec7173" stroke="#000" stroke-opacity="0.13" stroke-width="0.55"/>
<path d="M373.4 415.0C366.6 416.1 373.6 418.9 373.4 421.4C373.2 423.9 373.4 427.3 372.3 430.2C371.2 433.1 369.2 436.4 366.8 439.0C364.4 441.6 360.4 443.2 358.0 445.6C355.6 448.0 353.6 449.2 352.5 453.3C351.4 457.4 351.4 465.6 351.4 470.0C351.4 474.4 352.0 475.7 352.4 480.0C352.8 484.3 352.6 491.2 353.5 495.9C354.4 500.6 355.4 505.1 358.0 508.0C360.6 510.9 362.8 511.7 368.8 513.0C374.8 514.3 386.8 515.1 394.0 515.7C401.2 516.3 407.7 516.2 412.0 516.6C416.3 517.0 420.0 516.5 420.0 518.0C420.0 519.5 417.8 524.0 412.0 525.6C406.2 527.2 391.0 526.5 385.0 527.4C379.0 528.3 377.2 529.4 376.0 531.0C374.8 532.6 375.7 535.3 378.0 537.0C380.3 538.7 385.5 540.0 390.0 541.0C394.5 542.0 400.8 541.8 405.0 543.0C409.2 544.2 412.5 546.6 415.0 548.0C417.5 549.4 419.2 550.1 420.0 551.4C420.8 552.7 416.8 555.2 420.0 556.0C423.2 556.8 436.0 557.4 439.0 556.0C442.0 554.6 438.6 552.5 438.2 547.4C437.8 542.3 437.5 532.4 436.8 525.2C436.1 518.0 435.0 510.3 433.8 504.4C432.6 498.5 429.1 494.5 429.4 489.6C429.6 484.7 435.2 479.7 435.3 474.8C435.4 469.9 431.0 463.8 429.8 460.0C428.6 456.2 429.6 454.5 428.4 452.0C427.2 449.5 424.4 448.0 422.8 445.0C421.2 442.0 421.1 436.6 418.6 433.8C416.2 431.0 409.7 429.6 408.1 428.2C406.5 426.8 407.8 426.8 408.8 425.4C409.9 424.0 413.5 421.5 414.4 419.8C415.3 418.1 421.2 415.8 414.4 415.0C407.6 414.2 380.2 413.9 373.4 415.0Z" fill="#b8b9df" stroke="#000" stroke-opacity="0.13" stroke-width="0.55"/>
<path d="M361.3 458.8C361.7 455.5 361.9 452.8 363.5 450.0C365.1 447.2 368.4 444.5 371.2 442.3C373.9 440.1 376.5 437.9 380.0 436.8C383.5 435.7 388.8 435.8 392.0 435.5C395.2 435.2 396.0 434.3 399.0 435.2C402.0 436.1 406.9 438.2 410.2 440.8C413.5 443.4 416.7 447.4 418.6 450.6C420.5 453.8 420.3 456.0 421.4 460.0C422.4 464.0 424.8 469.9 424.9 474.8C425.0 479.7 422.9 486.2 422.0 489.6C421.1 493.0 420.0 492.3 419.2 495.0C418.4 497.7 418.6 503.2 417.4 505.8C416.2 508.4 417.4 509.7 412.0 510.3C406.6 510.9 392.2 510.4 385.0 509.4C377.8 508.3 371.8 506.4 368.8 504.0C365.8 501.6 368.1 498.2 367.0 495.0C365.9 491.8 363.4 489.2 362.5 485.0C361.6 480.8 361.5 474.4 361.3 470.0C361.1 465.6 360.9 462.1 361.3 458.8Z" fill="#989cd1" stroke="#000" stroke-opacity="0.13" stroke-width="0.55"/>
<path d="M391.0 415.0C389.7 415.8 391.6 417.8 391.8 420.0C392.1 422.2 392.1 425.8 392.5 428.0C392.9 430.2 393.4 431.8 394.0 433.0C394.6 434.2 395.3 435.7 396.0 435.5C396.7 435.3 397.5 433.8 398.0 432.0C398.5 430.2 398.6 427.0 398.8 425.0C399.0 423.0 398.9 421.7 399.0 420.0C399.1 418.3 400.8 415.8 399.5 415.0C398.2 414.2 392.3 414.2 391.0 415.0Z" fill="#989cd1" stroke="#000" stroke-opacity="0.13" stroke-width="0.55"/>
<path d="M394.0 535.0C395.3 533.6 403.2 531.5 408.0 530.5C412.8 529.5 419.2 529.3 423.0 529.0C426.8 528.7 429.2 527.8 431.0 528.5C432.8 529.2 433.4 530.1 434.0 533.0C434.6 535.9 435.2 543.3 434.5 546.0C433.8 548.7 432.4 549.0 430.0 549.0C427.6 549.0 423.3 547.3 420.0 546.0C416.7 544.7 413.3 542.2 410.0 541.0C406.7 539.8 402.7 540.0 400.0 539.0C397.3 538.0 392.7 536.4 394.0 535.0Z" fill="#989cd1" stroke="#000" stroke-opacity="0.13" stroke-width="0.55"/>
<path d="M376.7 458.8C377.5 456.3 377.2 454.9 380.0 454.0C382.8 453.1 389.5 453.0 393.4 453.4C397.3 453.8 400.8 455.1 403.2 456.2C405.6 457.3 406.5 457.5 407.6 460.0C408.7 462.5 408.6 468.1 409.9 471.1C411.2 474.1 415.1 475.3 415.5 477.9C415.9 480.5 413.7 484.0 412.1 486.9C410.5 489.8 407.2 492.1 405.7 495.0C404.2 497.9 404.9 502.1 403.0 504.0C401.1 505.9 397.3 507.0 394.0 506.7C390.7 506.4 385.1 504.0 383.2 502.2C381.3 500.4 382.0 498.1 382.5 495.9C383.0 493.7 386.9 491.7 386.0 489.1C385.1 486.5 379.0 483.5 377.2 480.1C375.4 476.7 375.3 472.4 375.2 468.8C375.1 465.2 375.9 461.3 376.7 458.8Z" fill="#7b83c5" stroke="#000" stroke-opacity="0.13" stroke-width="0.55"/>
<path d="M394.2 482.8C394.2 482.1 395.7 480.6 396.4 480.6C397.1 480.6 398.6 482.1 398.6 482.8C398.6 483.5 397.1 485.0 396.4 485.0C395.7 485.0 394.2 483.5 394.2 482.8Z" fill="#5f6bb9" stroke="#000" stroke-opacity="0.13" stroke-width="0.55"/>
<path d="M339.3 449.5C339.3 449.5 358.0 449.5 358.0 449.5C358.0 449.5 358.0 453.3 358.0 453.3C358.0 453.3 339.3 453.3 339.3 453.3C339.3 453.3 339.3 449.5 339.3 449.5Z" fill="url(#stip)"/>
<path d="M338.6 507.3C338.6 507.3 353.0 507.3 353.0 507.3C353.0 507.3 353.0 513.1 353.0 513.1C353.0 513.1 338.6 513.1 338.6 513.1C338.6 513.1 338.6 507.3 338.6 507.3Z" fill="url(#stip)"/>
<path d="M340.0 540.4C340.0 540.4 358.0 540.4 358.0 540.4C358.0 540.4 358.0 550.5 358.0 550.5C358.0 550.5 340.0 550.5 340.0 550.5C340.0 550.5 340.0 540.4 340.0 540.4Z" fill="url(#stip)"/>
<path d="M377.8 541.0C377.8 541.0 395.8 541.0 395.8 541.0C395.8 541.0 395.8 550.5 395.8 550.5C395.8 550.5 377.8 550.5 377.8 550.5C377.8 550.5 377.8 541.0 377.8 541.0Z" fill="url(#stip)"/>
<path d="M433.8 420.7C433.8 420.7 453.0 420.7 453.0 420.7C453.0 420.7 453.0 423.7 453.0 423.7C453.0 423.7 433.8 423.7 433.8 423.7C433.8 423.7 433.8 420.7 433.8 420.7Z" fill="url(#stip)"/>
<path d="M453.0 425.9C453.0 425.9 472.3 425.9 472.3 425.9C472.3 425.9 472.3 436.2 472.3 436.2C472.3 436.2 453.0 436.2 453.0 436.2C453.0 436.2 453.0 425.9 453.0 425.9Z" fill="url(#stip)"/>
<path d="M472.3 434.8C472.3 434.8 490.0 434.8 490.0 434.8C490.0 434.8 490.0 440.7 490.0 440.7C490.0 440.7 472.3 440.7 472.3 440.7C472.3 440.7 472.3 434.8 472.3 434.8Z" fill="url(#stip)"/>
<path d="M453.6 462.8C453.6 462.8 472.1 462.8 472.1 462.8C472.1 462.8 472.1 472.1 472.1 472.1C472.1 472.1 453.6 472.1 453.6 472.1C453.6 472.1 453.6 462.8 453.6 462.8Z" fill="url(#stip)"/>
<path d="M453.0 517.8C453.0 517.8 472.3 517.8 472.3 517.8C472.3 517.8 472.3 544.4 472.3 544.4C472.3 544.4 453.0 544.4 453.0 544.4C453.0 544.4 453.0 517.8 453.0 517.8Z" fill="url(#stip)"/>
</g>
<rect x="42.9" y="22.4" width="208.40" height="131.00" fill="none" stroke="#222" stroke-width="1"/>
<text x="39.4" y="26.1" text-anchor="end" font-size="10.3" fill="#231f20">90</text>
<line x1="42.9" x2="45.4" y1="44.23" y2="44.23" stroke="#222" stroke-width="0.8"/>
<text x="39.4" y="47.9" text-anchor="end" font-size="10.3" fill="#231f20">60</text>
<line x1="42.9" x2="45.4" y1="66.07" y2="66.07" stroke="#222" stroke-width="0.8"/>
<text x="39.4" y="69.8" text-anchor="end" font-size="10.3" fill="#231f20">30</text>
<line x1="42.9" x2="45.4" y1="87.90" y2="87.90" stroke="#222" stroke-width="0.8"/>
<text x="39.4" y="91.6" text-anchor="end" font-size="10.3" fill="#231f20">0</text>
<line x1="42.9" x2="45.4" y1="109.73" y2="109.73" stroke="#222" stroke-width="0.8"/>
<text x="39.4" y="113.4" text-anchor="end" font-size="10.3" fill="#231f20">−30</text>
<line x1="42.9" x2="45.4" y1="131.57" y2="131.57" stroke="#222" stroke-width="0.8"/>
<text x="39.4" y="135.3" text-anchor="end" font-size="10.3" fill="#231f20">−60</text>
<text x="39.4" y="157.1" text-anchor="end" font-size="10.3" fill="#231f20">−90</text>
<text x="42.9" y="164.9" text-anchor="middle" font-size="10.3" fill="#231f20">J</text>
<line x1="61.85" x2="61.85" y1="153.4" y2="150.9" stroke="#222" stroke-width="0.8"/>
<text x="61.8" y="164.9" text-anchor="middle" font-size="10.3" fill="#231f20">F</text>
<line x1="80.79" x2="80.79" y1="153.4" y2="150.9" stroke="#222" stroke-width="0.8"/>
<text x="80.8" y="164.9" text-anchor="middle" font-size="10.3" fill="#231f20">M</text>
<line x1="99.74" x2="99.74" y1="153.4" y2="150.9" stroke="#222" stroke-width="0.8"/>
<text x="99.7" y="164.9" text-anchor="middle" font-size="10.3" fill="#231f20">A</text>
<line x1="118.68" x2="118.68" y1="153.4" y2="150.9" stroke="#222" stroke-width="0.8"/>
<text x="118.7" y="164.9" text-anchor="middle" font-size="10.3" fill="#231f20">M</text>
<line x1="137.63" x2="137.63" y1="153.4" y2="150.9" stroke="#222" stroke-width="0.8"/>
<text x="137.6" y="164.9" text-anchor="middle" font-size="10.3" fill="#231f20">J</text>
<line x1="156.57" x2="156.57" y1="153.4" y2="150.9" stroke="#222" stroke-width="0.8"/>
<text x="156.6" y="164.9" text-anchor="middle" font-size="10.3" fill="#231f20">J</text>
<line x1="175.52" x2="175.52" y1="153.4" y2="150.9" stroke="#222" stroke-width="0.8"/>
<text x="175.5" y="164.9" text-anchor="middle" font-size="10.3" fill="#231f20">A</text>
<line x1="194.46" x2="194.46" y1="153.4" y2="150.9" stroke="#222" stroke-width="0.8"/>
<text x="194.5" y="164.9" text-anchor="middle" font-size="10.3" fill="#231f20">S</text>
<line x1="213.41" x2="213.41" y1="153.4" y2="150.9" stroke="#222" stroke-width="0.8"/>
<text x="213.4" y="164.9" text-anchor="middle" font-size="10.3" fill="#231f20">O</text>
<line x1="232.35" x2="232.35" y1="153.4" y2="150.9" stroke="#222" stroke-width="0.8"/>
<text x="232.4" y="164.9" text-anchor="middle" font-size="10.3" fill="#231f20">N</text>
<text x="251.3" y="164.9" text-anchor="middle" font-size="10.3" fill="#231f20">D</text>
<rect x="282.3" y="22.4" width="207.10" height="131.00" fill="none" stroke="#222" stroke-width="1"/>
<text x="278.8" y="26.1" text-anchor="end" font-size="10.3" fill="#231f20">90</text>
<line x1="282.3" x2="284.8" y1="44.23" y2="44.23" stroke="#222" stroke-width="0.8"/>
<text x="278.8" y="47.9" text-anchor="end" font-size="10.3" fill="#231f20">60</text>
<line x1="282.3" x2="284.8" y1="66.07" y2="66.07" stroke="#222" stroke-width="0.8"/>
<text x="278.8" y="69.8" text-anchor="end" font-size="10.3" fill="#231f20">30</text>
<line x1="282.3" x2="284.8" y1="87.90" y2="87.90" stroke="#222" stroke-width="0.8"/>
<text x="278.8" y="91.6" text-anchor="end" font-size="10.3" fill="#231f20">0</text>
<line x1="282.3" x2="284.8" y1="109.73" y2="109.73" stroke="#222" stroke-width="0.8"/>
<text x="278.8" y="113.4" text-anchor="end" font-size="10.3" fill="#231f20">−30</text>
<line x1="282.3" x2="284.8" y1="131.57" y2="131.57" stroke="#222" stroke-width="0.8"/>
<text x="278.8" y="135.3" text-anchor="end" font-size="10.3" fill="#231f20">−60</text>
<text x="278.8" y="157.1" text-anchor="end" font-size="10.3" fill="#231f20">−90</text>
<text x="282.3" y="164.9" text-anchor="middle" font-size="10.3" fill="#231f20">J</text>
<line x1="301.13" x2="301.13" y1="153.4" y2="150.9" stroke="#222" stroke-width="0.8"/>
<text x="301.1" y="164.9" text-anchor="middle" font-size="10.3" fill="#231f20">F</text>
<line x1="319.95" x2="319.95" y1="153.4" y2="150.9" stroke="#222" stroke-width="0.8"/>
<text x="320.0" y="164.9" text-anchor="middle" font-size="10.3" fill="#231f20">M</text>
<line x1="338.78" x2="338.78" y1="153.4" y2="150.9" stroke="#222" stroke-width="0.8"/>
<text x="338.8" y="164.9" text-anchor="middle" font-size="10.3" fill="#231f20">A</text>
<line x1="357.61" x2="357.61" y1="153.4" y2="150.9" stroke="#222" stroke-width="0.8"/>
<text x="357.6" y="164.9" text-anchor="middle" font-size="10.3" fill="#231f20">M</text>
<line x1="376.44" x2="376.44" y1="153.4" y2="150.9" stroke="#222" stroke-width="0.8"/>
<text x="376.4" y="164.9" text-anchor="middle" font-size="10.3" fill="#231f20">J</text>
<line x1="395.26" x2="395.26" y1="153.4" y2="150.9" stroke="#222" stroke-width="0.8"/>
<text x="395.3" y="164.9" text-anchor="middle" font-size="10.3" fill="#231f20">J</text>
<line x1="414.09" x2="414.09" y1="153.4" y2="150.9" stroke="#222" stroke-width="0.8"/>
<text x="414.1" y="164.9" text-anchor="middle" font-size="10.3" fill="#231f20">A</text>
<line x1="432.92" x2="432.92" y1="153.4" y2="150.9" stroke="#222" stroke-width="0.8"/>
<text x="432.9" y="164.9" text-anchor="middle" font-size="10.3" fill="#231f20">S</text>
<line x1="451.75" x2="451.75" y1="153.4" y2="150.9" stroke="#222" stroke-width="0.8"/>
<text x="451.7" y="164.9" text-anchor="middle" font-size="10.3" fill="#231f20">O</text>
<line x1="470.57" x2="470.57" y1="153.4" y2="150.9" stroke="#222" stroke-width="0.8"/>
<text x="470.6" y="164.9" text-anchor="middle" font-size="10.3" fill="#231f20">N</text>
<text x="489.4" y="164.9" text-anchor="middle" font-size="10.3" fill="#231f20">D</text>
<rect x="44.2" y="221.3" width="208.20" height="131.60" fill="none" stroke="#222" stroke-width="1"/>
<text x="40.7" y="225.0" text-anchor="end" font-size="10.3" fill="#231f20">90</text>
<line x1="44.2" x2="46.7" y1="243.23" y2="243.23" stroke="#222" stroke-width="0.8"/>
<text x="40.7" y="246.9" text-anchor="end" font-size="10.3" fill="#231f20">60</text>
<line x1="44.2" x2="46.7" y1="265.17" y2="265.17" stroke="#222" stroke-width="0.8"/>
<text x="40.7" y="268.9" text-anchor="end" font-size="10.3" fill="#231f20">30</text>
<line x1="44.2" x2="46.7" y1="287.10" y2="287.10" stroke="#222" stroke-width="0.8"/>
<text x="40.7" y="290.8" text-anchor="end" font-size="10.3" fill="#231f20">0</text>
<line x1="44.2" x2="46.7" y1="309.03" y2="309.03" stroke="#222" stroke-width="0.8"/>
<text x="40.7" y="312.7" text-anchor="end" font-size="10.3" fill="#231f20">−30</text>
<line x1="44.2" x2="46.7" y1="330.97" y2="330.97" stroke="#222" stroke-width="0.8"/>
<text x="40.7" y="334.7" text-anchor="end" font-size="10.3" fill="#231f20">−60</text>
<text x="40.7" y="356.6" text-anchor="end" font-size="10.3" fill="#231f20">−90</text>
<text x="44.2" y="364.4" text-anchor="middle" font-size="10.3" fill="#231f20">J</text>
<line x1="63.13" x2="63.13" y1="352.9" y2="350.4" stroke="#222" stroke-width="0.8"/>
<text x="63.1" y="364.4" text-anchor="middle" font-size="10.3" fill="#231f20">F</text>
<line x1="82.05" x2="82.05" y1="352.9" y2="350.4" stroke="#222" stroke-width="0.8"/>
<text x="82.1" y="364.4" text-anchor="middle" font-size="10.3" fill="#231f20">M</text>
<line x1="100.98" x2="100.98" y1="352.9" y2="350.4" stroke="#222" stroke-width="0.8"/>
<text x="101.0" y="364.4" text-anchor="middle" font-size="10.3" fill="#231f20">A</text>
<line x1="119.91" x2="119.91" y1="352.9" y2="350.4" stroke="#222" stroke-width="0.8"/>
<text x="119.9" y="364.4" text-anchor="middle" font-size="10.3" fill="#231f20">M</text>
<line x1="138.84" x2="138.84" y1="352.9" y2="350.4" stroke="#222" stroke-width="0.8"/>
<text x="138.8" y="364.4" text-anchor="middle" font-size="10.3" fill="#231f20">J</text>
<line x1="157.76" x2="157.76" y1="352.9" y2="350.4" stroke="#222" stroke-width="0.8"/>
<text x="157.8" y="364.4" text-anchor="middle" font-size="10.3" fill="#231f20">J</text>
<line x1="176.69" x2="176.69" y1="352.9" y2="350.4" stroke="#222" stroke-width="0.8"/>
<text x="176.7" y="364.4" text-anchor="middle" font-size="10.3" fill="#231f20">A</text>
<line x1="195.62" x2="195.62" y1="352.9" y2="350.4" stroke="#222" stroke-width="0.8"/>
<text x="195.6" y="364.4" text-anchor="middle" font-size="10.3" fill="#231f20">S</text>
<line x1="214.55" x2="214.55" y1="352.9" y2="350.4" stroke="#222" stroke-width="0.8"/>
<text x="214.5" y="364.4" text-anchor="middle" font-size="10.3" fill="#231f20">O</text>
<line x1="233.47" x2="233.47" y1="352.9" y2="350.4" stroke="#222" stroke-width="0.8"/>
<text x="233.5" y="364.4" text-anchor="middle" font-size="10.3" fill="#231f20">N</text>
<text x="252.4" y="364.4" text-anchor="middle" font-size="10.3" fill="#231f20">D</text>
<rect x="283.1" y="221.3" width="207.80" height="131.80" fill="none" stroke="#222" stroke-width="1"/>
<text x="279.6" y="225.0" text-anchor="end" font-size="10.3" fill="#231f20">90</text>
<line x1="283.1" x2="285.6" y1="243.27" y2="243.27" stroke="#222" stroke-width="0.8"/>
<text x="279.6" y="247.0" text-anchor="end" font-size="10.3" fill="#231f20">60</text>
<line x1="283.1" x2="285.6" y1="265.23" y2="265.23" stroke="#222" stroke-width="0.8"/>
<text x="279.6" y="268.9" text-anchor="end" font-size="10.3" fill="#231f20">30</text>
<line x1="283.1" x2="285.6" y1="287.20" y2="287.20" stroke="#222" stroke-width="0.8"/>
<text x="279.6" y="290.9" text-anchor="end" font-size="10.3" fill="#231f20">0</text>
<line x1="283.1" x2="285.6" y1="309.17" y2="309.17" stroke="#222" stroke-width="0.8"/>
<text x="279.6" y="312.9" text-anchor="end" font-size="10.3" fill="#231f20">−30</text>
<line x1="283.1" x2="285.6" y1="331.13" y2="331.13" stroke="#222" stroke-width="0.8"/>
<text x="279.6" y="334.8" text-anchor="end" font-size="10.3" fill="#231f20">−60</text>
<text x="279.6" y="356.8" text-anchor="end" font-size="10.3" fill="#231f20">−90</text>
<text x="283.1" y="364.6" text-anchor="middle" font-size="10.3" fill="#231f20">J</text>
<line x1="301.99" x2="301.99" y1="353.1" y2="350.6" stroke="#222" stroke-width="0.8"/>
<text x="302.0" y="364.6" text-anchor="middle" font-size="10.3" fill="#231f20">F</text>
<line x1="320.88" x2="320.88" y1="353.1" y2="350.6" stroke="#222" stroke-width="0.8"/>
<text x="320.9" y="364.6" text-anchor="middle" font-size="10.3" fill="#231f20">M</text>
<line x1="339.77" x2="339.77" y1="353.1" y2="350.6" stroke="#222" stroke-width="0.8"/>
<text x="339.8" y="364.6" text-anchor="middle" font-size="10.3" fill="#231f20">A</text>
<line x1="358.66" x2="358.66" y1="353.1" y2="350.6" stroke="#222" stroke-width="0.8"/>
<text x="358.7" y="364.6" text-anchor="middle" font-size="10.3" fill="#231f20">M</text>
<line x1="377.55" x2="377.55" y1="353.1" y2="350.6" stroke="#222" stroke-width="0.8"/>
<text x="377.6" y="364.6" text-anchor="middle" font-size="10.3" fill="#231f20">J</text>
<line x1="396.45" x2="396.45" y1="353.1" y2="350.6" stroke="#222" stroke-width="0.8"/>
<text x="396.4" y="364.6" text-anchor="middle" font-size="10.3" fill="#231f20">J</text>
<line x1="415.34" x2="415.34" y1="353.1" y2="350.6" stroke="#222" stroke-width="0.8"/>
<text x="415.3" y="364.6" text-anchor="middle" font-size="10.3" fill="#231f20">A</text>
<line x1="434.23" x2="434.23" y1="353.1" y2="350.6" stroke="#222" stroke-width="0.8"/>
<text x="434.2" y="364.6" text-anchor="middle" font-size="10.3" fill="#231f20">S</text>
<line x1="453.12" x2="453.12" y1="353.1" y2="350.6" stroke="#222" stroke-width="0.8"/>
<text x="453.1" y="364.6" text-anchor="middle" font-size="10.3" fill="#231f20">O</text>
<line x1="472.01" x2="472.01" y1="353.1" y2="350.6" stroke="#222" stroke-width="0.8"/>
<text x="472.0" y="364.6" text-anchor="middle" font-size="10.3" fill="#231f20">N</text>
<text x="490.9" y="364.6" text-anchor="middle" font-size="10.3" fill="#231f20">D</text>
<rect x="44.2" y="419.6" width="208.10" height="131.80" fill="none" stroke="#222" stroke-width="1"/>
<text x="40.7" y="423.3" text-anchor="end" font-size="10.3" fill="#231f20">90</text>
<line x1="44.2" x2="46.7" y1="441.57" y2="441.57" stroke="#222" stroke-width="0.8"/>
<text x="40.7" y="445.3" text-anchor="end" font-size="10.3" fill="#231f20">60</text>
<line x1="44.2" x2="46.7" y1="463.53" y2="463.53" stroke="#222" stroke-width="0.8"/>
<text x="40.7" y="467.2" text-anchor="end" font-size="10.3" fill="#231f20">30</text>
<line x1="44.2" x2="46.7" y1="485.50" y2="485.50" stroke="#222" stroke-width="0.8"/>
<text x="40.7" y="489.2" text-anchor="end" font-size="10.3" fill="#231f20">0</text>
<line x1="44.2" x2="46.7" y1="507.47" y2="507.47" stroke="#222" stroke-width="0.8"/>
<text x="40.7" y="511.2" text-anchor="end" font-size="10.3" fill="#231f20">−30</text>
<line x1="44.2" x2="46.7" y1="529.43" y2="529.43" stroke="#222" stroke-width="0.8"/>
<text x="40.7" y="533.1" text-anchor="end" font-size="10.3" fill="#231f20">−60</text>
<text x="40.7" y="555.1" text-anchor="end" font-size="10.3" fill="#231f20">−90</text>
<text x="44.2" y="562.9" text-anchor="middle" font-size="10.3" fill="#231f20">J</text>
<line x1="63.12" x2="63.12" y1="551.4" y2="548.9" stroke="#222" stroke-width="0.8"/>
<text x="63.1" y="562.9" text-anchor="middle" font-size="10.3" fill="#231f20">F</text>
<line x1="82.04" x2="82.04" y1="551.4" y2="548.9" stroke="#222" stroke-width="0.8"/>
<text x="82.0" y="562.9" text-anchor="middle" font-size="10.3" fill="#231f20">M</text>
<line x1="100.95" x2="100.95" y1="551.4" y2="548.9" stroke="#222" stroke-width="0.8"/>
<text x="101.0" y="562.9" text-anchor="middle" font-size="10.3" fill="#231f20">A</text>
<line x1="119.87" x2="119.87" y1="551.4" y2="548.9" stroke="#222" stroke-width="0.8"/>
<text x="119.9" y="562.9" text-anchor="middle" font-size="10.3" fill="#231f20">M</text>
<line x1="138.79" x2="138.79" y1="551.4" y2="548.9" stroke="#222" stroke-width="0.8"/>
<text x="138.8" y="562.9" text-anchor="middle" font-size="10.3" fill="#231f20">J</text>
<line x1="157.71" x2="157.71" y1="551.4" y2="548.9" stroke="#222" stroke-width="0.8"/>
<text x="157.7" y="562.9" text-anchor="middle" font-size="10.3" fill="#231f20">J</text>
<line x1="176.63" x2="176.63" y1="551.4" y2="548.9" stroke="#222" stroke-width="0.8"/>
<text x="176.6" y="562.9" text-anchor="middle" font-size="10.3" fill="#231f20">A</text>
<line x1="195.55" x2="195.55" y1="551.4" y2="548.9" stroke="#222" stroke-width="0.8"/>
<text x="195.5" y="562.9" text-anchor="middle" font-size="10.3" fill="#231f20">S</text>
<line x1="214.46" x2="214.46" y1="551.4" y2="548.9" stroke="#222" stroke-width="0.8"/>
<text x="214.5" y="562.9" text-anchor="middle" font-size="10.3" fill="#231f20">O</text>
<line x1="233.38" x2="233.38" y1="551.4" y2="548.9" stroke="#222" stroke-width="0.8"/>
<text x="233.4" y="562.9" text-anchor="middle" font-size="10.3" fill="#231f20">N</text>
<text x="252.3" y="562.9" text-anchor="middle" font-size="10.3" fill="#231f20">D</text>
<rect x="283.2" y="419.6" width="207.80" height="131.80" fill="none" stroke="#222" stroke-width="1"/>
<text x="279.7" y="423.3" text-anchor="end" font-size="10.3" fill="#231f20">90</text>
<line x1="283.2" x2="285.7" y1="441.57" y2="441.57" stroke="#222" stroke-width="0.8"/>
<text x="279.7" y="445.3" text-anchor="end" font-size="10.3" fill="#231f20">60</text>
<line x1="283.2" x2="285.7" y1="463.53" y2="463.53" stroke="#222" stroke-width="0.8"/>
<text x="279.7" y="467.2" text-anchor="end" font-size="10.3" fill="#231f20">30</text>
<line x1="283.2" x2="285.7" y1="485.50" y2="485.50" stroke="#222" stroke-width="0.8"/>
<text x="279.7" y="489.2" text-anchor="end" font-size="10.3" fill="#231f20">0</text>
<line x1="283.2" x2="285.7" y1="507.47" y2="507.47" stroke="#222" stroke-width="0.8"/>
<text x="279.7" y="511.2" text-anchor="end" font-size="10.3" fill="#231f20">−30</text>
<line x1="283.2" x2="285.7" y1="529.43" y2="529.43" stroke="#222" stroke-width="0.8"/>
<text x="279.7" y="533.1" text-anchor="end" font-size="10.3" fill="#231f20">−60</text>
<text x="279.7" y="555.1" text-anchor="end" font-size="10.3" fill="#231f20">−90</text>
<text x="283.2" y="562.9" text-anchor="middle" font-size="10.3" fill="#231f20">J</text>
<line x1="302.09" x2="302.09" y1="551.4" y2="548.9" stroke="#222" stroke-width="0.8"/>
<text x="302.1" y="562.9" text-anchor="middle" font-size="10.3" fill="#231f20">F</text>
<line x1="320.98" x2="320.98" y1="551.4" y2="548.9" stroke="#222" stroke-width="0.8"/>
<text x="321.0" y="562.9" text-anchor="middle" font-size="10.3" fill="#231f20">M</text>
<line x1="339.87" x2="339.87" y1="551.4" y2="548.9" stroke="#222" stroke-width="0.8"/>
<text x="339.9" y="562.9" text-anchor="middle" font-size="10.3" fill="#231f20">A</text>
<line x1="358.76" x2="358.76" y1="551.4" y2="548.9" stroke="#222" stroke-width="0.8"/>
<text x="358.8" y="562.9" text-anchor="middle" font-size="10.3" fill="#231f20">M</text>
<line x1="377.65" x2="377.65" y1="551.4" y2="548.9" stroke="#222" stroke-width="0.8"/>
<text x="377.7" y="562.9" text-anchor="middle" font-size="10.3" fill="#231f20">J</text>
<line x1="396.55" x2="396.55" y1="551.4" y2="548.9" stroke="#222" stroke-width="0.8"/>
<text x="396.5" y="562.9" text-anchor="middle" font-size="10.3" fill="#231f20">J</text>
<line x1="415.44" x2="415.44" y1="551.4" y2="548.9" stroke="#222" stroke-width="0.8"/>
<text x="415.4" y="562.9" text-anchor="middle" font-size="10.3" fill="#231f20">A</text>
<line x1="434.33" x2="434.33" y1="551.4" y2="548.9" stroke="#222" stroke-width="0.8"/>
<text x="434.3" y="562.9" text-anchor="middle" font-size="10.3" fill="#231f20">S</text>
<line x1="453.22" x2="453.22" y1="551.4" y2="548.9" stroke="#222" stroke-width="0.8"/>
<text x="453.2" y="562.9" text-anchor="middle" font-size="10.3" fill="#231f20">O</text>
<line x1="472.11" x2="472.11" y1="551.4" y2="548.9" stroke="#222" stroke-width="0.8"/>
<text x="472.1" y="562.9" text-anchor="middle" font-size="10.3" fill="#231f20">N</text>
<text x="491.0" y="562.9" text-anchor="middle" font-size="10.3" fill="#231f20">D</text>
<text transform="translate(44.40,14.20) scale(1.0034,1)" font-size="11.5" fill="#231f20">(a) mid Holocene (6 ka)</text>
<text transform="translate(281.30,14.20) scale(1.0007,1)" font-size="11.5" fill="#231f20">(b) Last interglacial (127 ka)</text>
<text transform="translate(45.51,212.80) scale(0.9907,1)" font-size="11.5" fill="#231f20">(c) mid Holocene (6 ka)</text>
<text transform="translate(282.19,213.40) scale(1.0099,1)" font-size="11.5" fill="#231f20">(d) Last interglacial (127 ka)</text>
<text transform="translate(44.19,414.20) scale(1.0085,1)" font-size="11.5" fill="#231f20">(e) mid Holocene (6 ka)</text>
<text transform="translate(282.20,414.50) scale(0.9971,1)" font-size="11.5" fill="#231f20">(f) Last interglacial (127 ka)</text>
<text transform="translate(78.21,195.40) scale(0.9887,1)" font-size="11.8" fill="#231f20">Insolation anomaly (W m<tspan font-size="8" dy="-4.6">−2</tspan><tspan dy="4.6">)</tspan></text>
<text transform="translate(315.30,195.40) scale(0.9986,1)" font-size="11.8" fill="#231f20">Insolation anomaly (W m<tspan font-size="8" dy="-4.6">−2</tspan><tspan dy="4.6">)</tspan></text>
<text transform="translate(43.60,394.30) scale(0.9758,1)" font-size="11.8" fill="#231f20">Air temperature anomaly at p = 3 hPa (K)</text>
<text transform="translate(281.80,394.30) scale(0.9800,1)" font-size="11.8" fill="#231f20">Air temperature anomaly at p = 3 hPa (K)</text>
<text transform="translate(57.80,593.30) scale(0.9924,1)" font-size="11.8" fill="#231f20">O<tspan font-size="8" dy="3">3</tspan><tspan dy="-3"> mixing ratio at p = 3 hPa (ppmv)</tspan></text>
<text transform="translate(296.80,593.60) scale(0.9908,1)" font-size="11.8" fill="#231f20">O<tspan font-size="8" dy="3">3</tspan><tspan dy="-3"> mixing ratio at p = 3 hPa (ppmv)</tspan></text>
<text transform="translate(14.80,116.02) rotate(-90) scale(1.0193,1)" font-size="12" fill="#231f20">Latitude (°)</text>
<text transform="translate(15.30,316.53) rotate(-90) scale(1.0333,1)" font-size="12" fill="#231f20">Latitude (°)</text>
<text transform="translate(15.30,512.33) rotate(-90) scale(1.0333,1)" font-size="12" fill="#231f20">Latitude (°)</text>
<rect x="42.90" y="167.50" width="13.33" height="7.00" fill="#2a47a3"/>
<rect x="55.92" y="167.50" width="13.33" height="7.00" fill="#3350aa"/>
<rect x="68.95" y="167.50" width="13.33" height="7.00" fill="#4659b0"/>
<rect x="81.97" y="167.50" width="13.33" height="7.00" fill="#5b68b8"/>
<rect x="95.00" y="167.50" width="13.33" height="7.00" fill="#7f86c6"/>
<rect x="108.03" y="167.50" width="13.33" height="7.00" fill="#a3a6d6"/>
<rect x="121.05" y="167.50" width="13.33" height="7.00" fill="#c6c6e6"/>
<rect x="134.07" y="167.50" width="13.33" height="7.00" fill="#ecebf6"/>
<rect x="147.10" y="167.50" width="13.33" height="7.00" fill="#fdeaea"/>
<rect x="160.12" y="167.50" width="13.33" height="7.00" fill="#f8c6c8"/>
<rect x="173.15" y="167.50" width="13.33" height="7.00" fill="#f4a8ab"/>
<rect x="186.18" y="167.50" width="13.33" height="7.00" fill="#ef8a8d"/>
<rect x="199.20" y="167.50" width="13.33" height="7.00" fill="#ec6e70"/>
<rect x="212.23" y="167.50" width="13.33" height="7.00" fill="#e85356"/>
<rect x="225.25" y="167.50" width="13.33" height="7.00" fill="#e5393b"/>
<rect x="238.28" y="167.50" width="13.33" height="7.00" fill="#e31e22"/>
<rect x="42.90" y="167.50" width="208.40" height="7.00" fill="none" stroke="#222" stroke-width="0.8"/>
<text x="42.9" y="185.0" text-anchor="middle" font-size="10.3" fill="#231f20">−80</text>
<line x1="68.95" x2="68.95" y1="174.5" y2="172.5" stroke="#222" stroke-width="0.8"/>
<text x="69.0" y="185.0" text-anchor="middle" font-size="10.3" fill="#231f20">−60</text>
<line x1="95.00" x2="95.00" y1="174.5" y2="172.5" stroke="#222" stroke-width="0.8"/>
<text x="95.0" y="185.0" text-anchor="middle" font-size="10.3" fill="#231f20">−40</text>
<line x1="121.05" x2="121.05" y1="174.5" y2="172.5" stroke="#222" stroke-width="0.8"/>
<text x="121.1" y="185.0" text-anchor="middle" font-size="10.3" fill="#231f20">−20</text>
<line x1="147.10" x2="147.10" y1="174.5" y2="172.5" stroke="#222" stroke-width="0.8"/>
<text x="147.1" y="185.0" text-anchor="middle" font-size="10.3" fill="#231f20">0</text>
<line x1="173.15" x2="173.15" y1="174.5" y2="172.5" stroke="#222" stroke-width="0.8"/>
<text x="173.2" y="185.0" text-anchor="middle" font-size="10.3" fill="#231f20">20</text>
<line x1="199.20" x2="199.20" y1="174.5" y2="172.5" stroke="#222" stroke-width="0.8"/>
<text x="199.2" y="185.0" text-anchor="middle" font-size="10.3" fill="#231f20">40</text>
<line x1="225.25" x2="225.25" y1="174.5" y2="172.5" stroke="#222" stroke-width="0.8"/>
<text x="225.2" y="185.0" text-anchor="middle" font-size="10.3" fill="#231f20">60</text>
<text x="251.3" y="185.0" text-anchor="middle" font-size="10.3" fill="#231f20">80</text>
<rect x="282.30" y="167.50" width="13.24" height="7.00" fill="#2a47a3"/>
<rect x="295.24" y="167.50" width="13.24" height="7.00" fill="#3350aa"/>
<rect x="308.19" y="167.50" width="13.24" height="7.00" fill="#4659b0"/>
<rect x="321.13" y="167.50" width="13.24" height="7.00" fill="#5b68b8"/>
<rect x="334.07" y="167.50" width="13.24" height="7.00" fill="#7f86c6"/>
<rect x="347.02" y="167.50" width="13.24" height="7.00" fill="#a3a6d6"/>
<rect x="359.96" y="167.50" width="13.24" height="7.00" fill="#c6c6e6"/>
<rect x="372.91" y="167.50" width="13.24" height="7.00" fill="#ecebf6"/>
<rect x="385.85" y="167.50" width="13.24" height="7.00" fill="#fdeaea"/>
<rect x="398.79" y="167.50" width="13.24" height="7.00" fill="#f8c6c8"/>
<rect x="411.74" y="167.50" width="13.24" height="7.00" fill="#f4a8ab"/>
<rect x="424.68" y="167.50" width="13.24" height="7.00" fill="#ef8a8d"/>
<rect x="437.62" y="167.50" width="13.24" height="7.00" fill="#ec6e70"/>
<rect x="450.57" y="167.50" width="13.24" height="7.00" fill="#e85356"/>
<rect x="463.51" y="167.50" width="13.24" height="7.00" fill="#e5393b"/>
<rect x="476.46" y="167.50" width="13.24" height="7.00" fill="#e31e22"/>
<rect x="282.30" y="167.50" width="207.10" height="7.00" fill="none" stroke="#222" stroke-width="0.8"/>
<text x="282.3" y="185.0" text-anchor="middle" font-size="10.3" fill="#231f20">−80</text>
<line x1="308.19" x2="308.19" y1="174.5" y2="172.5" stroke="#222" stroke-width="0.8"/>
<text x="308.2" y="185.0" text-anchor="middle" font-size="10.3" fill="#231f20">−60</text>
<line x1="334.07" x2="334.07" y1="174.5" y2="172.5" stroke="#222" stroke-width="0.8"/>
<text x="334.1" y="185.0" text-anchor="middle" font-size="10.3" fill="#231f20">−40</text>
<line x1="359.96" x2="359.96" y1="174.5" y2="172.5" stroke="#222" stroke-width="0.8"/>
<text x="360.0" y="185.0" text-anchor="middle" font-size="10.3" fill="#231f20">−20</text>
<line x1="385.85" x2="385.85" y1="174.5" y2="172.5" stroke="#222" stroke-width="0.8"/>
<text x="385.9" y="185.0" text-anchor="middle" font-size="10.3" fill="#231f20">0</text>
<line x1="411.74" x2="411.74" y1="174.5" y2="172.5" stroke="#222" stroke-width="0.8"/>
<text x="411.7" y="185.0" text-anchor="middle" font-size="10.3" fill="#231f20">20</text>
<line x1="437.62" x2="437.62" y1="174.5" y2="172.5" stroke="#222" stroke-width="0.8"/>
<text x="437.6" y="185.0" text-anchor="middle" font-size="10.3" fill="#231f20">40</text>
<line x1="463.51" x2="463.51" y1="174.5" y2="172.5" stroke="#222" stroke-width="0.8"/>
<text x="463.5" y="185.0" text-anchor="middle" font-size="10.3" fill="#231f20">60</text>
<text x="489.4" y="185.0" text-anchor="middle" font-size="10.3" fill="#231f20">80</text>
<rect x="53.20" y="366.20" width="16.15" height="6.70" fill="#2c48a4"/>
<rect x="69.05" y="366.20" width="16.15" height="6.70" fill="#3c54ad"/>
<rect x="84.90" y="366.20" width="16.15" height="6.70" fill="#5866b7"/>
<rect x="100.75" y="366.20" width="16.15" height="6.70" fill="#858bc9"/>
<rect x="116.60" y="366.20" width="16.15" height="6.70" fill="#b8b9df"/>
<rect x="132.45" y="366.20" width="16.15" height="6.70" fill="#e6e6f3"/>
<rect x="148.30" y="366.20" width="16.15" height="6.70" fill="#fce4e4"/>
<rect x="164.15" y="366.20" width="16.15" height="6.70" fill="#f5babc"/>
<rect x="180.00" y="366.20" width="16.15" height="6.70" fill="#f08f92"/>
<rect x="195.85" y="366.20" width="16.15" height="6.70" fill="#eb6a6c"/>
<rect x="211.70" y="366.20" width="16.15" height="6.70" fill="#e64648"/>
<rect x="227.55" y="366.20" width="16.15" height="6.70" fill="#e32226"/>
<path d="M53.50 366.20L44.20 369.55L53.50 372.90Z" fill="#2c48a4"/>
<path d="M243.10 366.20L252.40 369.55L243.10 372.90Z" fill="#e32226"/>
<path d="M53.20 366.20L243.40 366.20L252.40 369.55L243.40 372.90L53.20 372.90L44.20 369.55Z" fill="none" stroke="#222" stroke-width="0.8"/>
<line x1="53.20" x2="53.20" y1="372.9" y2="370.9" stroke="#222" stroke-width="0.8"/>
<text x="53.2" y="384.4" text-anchor="middle" font-size="10.3" fill="#231f20">−6</text>
<line x1="84.90" x2="84.90" y1="372.9" y2="370.9" stroke="#222" stroke-width="0.8"/>
<text x="84.9" y="384.4" text-anchor="middle" font-size="10.3" fill="#231f20">−4</text>
<line x1="116.60" x2="116.60" y1="372.9" y2="370.9" stroke="#222" stroke-width="0.8"/>
<text x="116.6" y="384.4" text-anchor="middle" font-size="10.3" fill="#231f20">−2</text>
<line x1="148.30" x2="148.30" y1="372.9" y2="370.9" stroke="#222" stroke-width="0.8"/>
<text x="148.3" y="384.4" text-anchor="middle" font-size="10.3" fill="#231f20">0</text>
<line x1="180.00" x2="180.00" y1="372.9" y2="370.9" stroke="#222" stroke-width="0.8"/>
<text x="180.0" y="384.4" text-anchor="middle" font-size="10.3" fill="#231f20">2</text>
<line x1="211.70" x2="211.70" y1="372.9" y2="370.9" stroke="#222" stroke-width="0.8"/>
<text x="211.7" y="384.4" text-anchor="middle" font-size="10.3" fill="#231f20">4</text>
<line x1="243.40" x2="243.40" y1="372.9" y2="370.9" stroke="#222" stroke-width="0.8"/>
<text x="243.4" y="384.4" text-anchor="middle" font-size="10.3" fill="#231f20">6</text>
<rect x="292.10" y="366.40" width="16.12" height="6.70" fill="#2c48a4"/>
<rect x="307.92" y="366.40" width="16.12" height="6.70" fill="#3c54ad"/>
<rect x="323.73" y="366.40" width="16.12" height="6.70" fill="#5866b7"/>
<rect x="339.55" y="366.40" width="16.12" height="6.70" fill="#858bc9"/>
<rect x="355.37" y="366.40" width="16.12" height="6.70" fill="#b8b9df"/>
<rect x="371.18" y="366.40" width="16.12" height="6.70" fill="#e6e6f3"/>
<rect x="387.00" y="366.40" width="16.12" height="6.70" fill="#fce4e4"/>
<rect x="402.82" y="366.40" width="16.12" height="6.70" fill="#f5babc"/>
<rect x="418.63" y="366.40" width="16.12" height="6.70" fill="#f08f92"/>
<rect x="434.45" y="366.40" width="16.12" height="6.70" fill="#eb6a6c"/>
<rect x="450.27" y="366.40" width="16.12" height="6.70" fill="#e64648"/>
<rect x="466.08" y="366.40" width="16.12" height="6.70" fill="#e32226"/>
<path d="M292.40 366.40L283.10 369.75L292.40 373.10Z" fill="#2c48a4"/>
<path d="M481.60 366.40L490.90 369.75L481.60 373.10Z" fill="#e32226"/>
<path d="M292.10 366.40L481.90 366.40L490.90 369.75L481.90 373.10L292.10 373.10L283.10 369.75Z" fill="none" stroke="#222" stroke-width="0.8"/>
<line x1="292.10" x2="292.10" y1="373.1" y2="371.1" stroke="#222" stroke-width="0.8"/>
<text x="292.1" y="384.6" text-anchor="middle" font-size="10.3" fill="#231f20">−6</text>
<line x1="323.73" x2="323.73" y1="373.1" y2="371.1" stroke="#222" stroke-width="0.8"/>
<text x="323.7" y="384.6" text-anchor="middle" font-size="10.3" fill="#231f20">−4</text>
<line x1="355.37" x2="355.37" y1="373.1" y2="371.1" stroke="#222" stroke-width="0.8"/>
<text x="355.4" y="384.6" text-anchor="middle" font-size="10.3" fill="#231f20">−2</text>
<line x1="387.00" x2="387.00" y1="373.1" y2="371.1" stroke="#222" stroke-width="0.8"/>
<text x="387.0" y="384.6" text-anchor="middle" font-size="10.3" fill="#231f20">0</text>
<line x1="418.63" x2="418.63" y1="373.1" y2="371.1" stroke="#222" stroke-width="0.8"/>
<text x="418.6" y="384.6" text-anchor="middle" font-size="10.3" fill="#231f20">2</text>
<line x1="450.27" x2="450.27" y1="373.1" y2="371.1" stroke="#222" stroke-width="0.8"/>
<text x="450.3" y="384.6" text-anchor="middle" font-size="10.3" fill="#231f20">4</text>
<line x1="481.90" x2="481.90" y1="373.1" y2="371.1" stroke="#222" stroke-width="0.8"/>
<text x="481.9" y="384.6" text-anchor="middle" font-size="10.3" fill="#231f20">6</text>
<rect x="53.20" y="564.70" width="9.81" height="6.70" fill="#2a47a3"/>
<rect x="62.71" y="564.70" width="9.81" height="6.70" fill="#304da8"/>
<rect x="72.21" y="564.70" width="9.81" height="6.70" fill="#3c54ad"/>
<rect x="81.72" y="564.70" width="9.81" height="6.70" fill="#4c5eb2"/>
<rect x="91.22" y="564.70" width="9.81" height="6.70" fill="#5f6bb9"/>
<rect x="100.73" y="564.70" width="9.81" height="6.70" fill="#7b83c5"/>
<rect x="110.23" y="564.70" width="9.81" height="6.70" fill="#989cd1"/>
<rect x="119.74" y="564.70" width="9.81" height="6.70" fill="#b8b9df"/>
<rect x="129.24" y="564.70" width="9.81" height="6.70" fill="#d6d6ec"/>
<rect x="138.75" y="564.70" width="9.81" height="6.70" fill="#efeff9"/>
<rect x="148.25" y="564.70" width="9.81" height="6.70" fill="#fdf0ef"/>
<rect x="157.75" y="564.70" width="9.81" height="6.70" fill="#f8d3d4"/>
<rect x="167.26" y="564.70" width="9.81" height="6.70" fill="#f5babc"/>
<rect x="176.77" y="564.70" width="9.81" height="6.70" fill="#f29fa2"/>
<rect x="186.27" y="564.70" width="9.81" height="6.70" fill="#ef878a"/>
<rect x="195.78" y="564.70" width="9.81" height="6.70" fill="#ec7173"/>
<rect x="205.28" y="564.70" width="9.81" height="6.70" fill="#e95b5e"/>
<rect x="214.79" y="564.70" width="9.81" height="6.70" fill="#e64648"/>
<rect x="224.29" y="564.70" width="9.81" height="6.70" fill="#e43133"/>
<rect x="233.80" y="564.70" width="9.81" height="6.70" fill="#e31e22"/>
<path d="M53.50 564.70L44.20 568.05L53.50 571.40Z" fill="#2a47a3"/>
<path d="M243.00 564.70L252.30 568.05L243.00 571.40Z" fill="#e31e22"/>
<path d="M53.20 564.70L243.30 564.70L252.30 568.05L243.30 571.40L53.20 571.40L44.20 568.05Z" fill="none" stroke="#222" stroke-width="0.8"/>
<line x1="62.70" x2="62.70" y1="571.4" y2="569.4" stroke="#222" stroke-width="0.8"/>
<text x="62.7" y="582.9" text-anchor="middle" font-size="10.3" fill="#231f20">−0.9</text>
<line x1="91.22" x2="91.22" y1="571.4" y2="569.4" stroke="#222" stroke-width="0.8"/>
<text x="91.2" y="582.9" text-anchor="middle" font-size="10.3" fill="#231f20">−0.6</text>
<line x1="119.74" x2="119.74" y1="571.4" y2="569.4" stroke="#222" stroke-width="0.8"/>
<text x="119.7" y="582.9" text-anchor="middle" font-size="10.3" fill="#231f20">−0.3</text>
<line x1="148.25" x2="148.25" y1="571.4" y2="569.4" stroke="#222" stroke-width="0.8"/>
<text x="148.2" y="582.9" text-anchor="middle" font-size="10.3" fill="#231f20">0.0</text>
<line x1="176.77" x2="176.77" y1="571.4" y2="569.4" stroke="#222" stroke-width="0.8"/>
<text x="176.8" y="582.9" text-anchor="middle" font-size="10.3" fill="#231f20">0.3</text>
<line x1="205.28" x2="205.28" y1="571.4" y2="569.4" stroke="#222" stroke-width="0.8"/>
<text x="205.3" y="582.9" text-anchor="middle" font-size="10.3" fill="#231f20">0.6</text>
<line x1="233.80" x2="233.80" y1="571.4" y2="569.4" stroke="#222" stroke-width="0.8"/>
<text x="233.8" y="582.9" text-anchor="middle" font-size="10.3" fill="#231f20">0.9</text>
<rect x="292.20" y="564.70" width="9.79" height="6.70" fill="#2a47a3"/>
<rect x="301.69" y="564.70" width="9.79" height="6.70" fill="#304da8"/>
<rect x="311.18" y="564.70" width="9.79" height="6.70" fill="#3c54ad"/>
<rect x="320.67" y="564.70" width="9.79" height="6.70" fill="#4c5eb2"/>
<rect x="330.16" y="564.70" width="9.79" height="6.70" fill="#5f6bb9"/>
<rect x="339.65" y="564.70" width="9.79" height="6.70" fill="#7b83c5"/>
<rect x="349.14" y="564.70" width="9.79" height="6.70" fill="#989cd1"/>
<rect x="358.63" y="564.70" width="9.79" height="6.70" fill="#b8b9df"/>
<rect x="368.12" y="564.70" width="9.79" height="6.70" fill="#d6d6ec"/>
<rect x="377.61" y="564.70" width="9.79" height="6.70" fill="#efeff9"/>
<rect x="387.10" y="564.70" width="9.79" height="6.70" fill="#fdf0ef"/>
<rect x="396.59" y="564.70" width="9.79" height="6.70" fill="#f8d3d4"/>
<rect x="406.08" y="564.70" width="9.79" height="6.70" fill="#f5babc"/>
<rect x="415.57" y="564.70" width="9.79" height="6.70" fill="#f29fa2"/>
<rect x="425.06" y="564.70" width="9.79" height="6.70" fill="#ef878a"/>
<rect x="434.55" y="564.70" width="9.79" height="6.70" fill="#ec7173"/>
<rect x="444.04" y="564.70" width="9.79" height="6.70" fill="#e95b5e"/>
<rect x="453.53" y="564.70" width="9.79" height="6.70" fill="#e64648"/>
<rect x="463.02" y="564.70" width="9.79" height="6.70" fill="#e43133"/>
<rect x="472.51" y="564.70" width="9.79" height="6.70" fill="#e31e22"/>
<path d="M292.50 564.70L283.20 568.05L292.50 571.40Z" fill="#2a47a3"/>
<path d="M481.70 564.70L491.00 568.05L481.70 571.40Z" fill="#e31e22"/>
<path d="M292.20 564.70L482.00 564.70L491.00 568.05L482.00 571.40L292.20 571.40L283.20 568.05Z" fill="none" stroke="#222" stroke-width="0.8"/>
<line x1="301.69" x2="301.69" y1="571.4" y2="569.4" stroke="#222" stroke-width="0.8"/>
<text x="301.7" y="582.9" text-anchor="middle" font-size="10.3" fill="#231f20">−0.9</text>
<line x1="330.16" x2="330.16" y1="571.4" y2="569.4" stroke="#222" stroke-width="0.8"/>
<text x="330.2" y="582.9" text-anchor="middle" font-size="10.3" fill="#231f20">−0.6</text>
<line x1="358.63" x2="358.63" y1="571.4" y2="569.4" stroke="#222" stroke-width="0.8"/>
<text x="358.6" y="582.9" text-anchor="middle" font-size="10.3" fill="#231f20">−0.3</text>
<line x1="387.10" x2="387.10" y1="571.4" y2="569.4" stroke="#222" stroke-width="0.8"/>
<text x="387.1" y="582.9" text-anchor="middle" font-size="10.3" fill="#231f20">0.0</text>
<line x1="415.57" x2="415.57" y1="571.4" y2="569.4" stroke="#222" stroke-width="0.8"/>
<text x="415.6" y="582.9" text-anchor="middle" font-size="10.3" fill="#231f20">0.3</text>
<line x1="444.04" x2="444.04" y1="571.4" y2="569.4" stroke="#222" stroke-width="0.8"/>
<text x="444.0" y="582.9" text-anchor="middle" font-size="10.3" fill="#231f20">0.6</text>
<line x1="472.51" x2="472.51" y1="571.4" y2="569.4" stroke="#222" stroke-width="0.8"/>
<text x="472.5" y="582.9" text-anchor="middle" font-size="10.3" fill="#231f20">0.9</text>
</svg>
</body></html>
